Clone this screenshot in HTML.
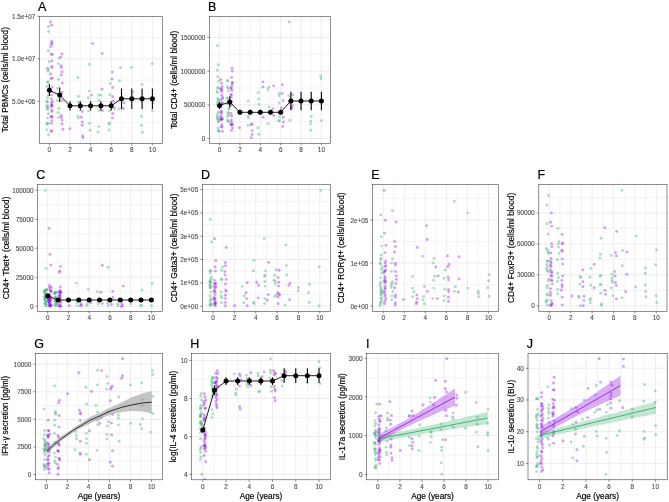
<!DOCTYPE html>
<html><head><meta charset="utf-8"><style>
html,body{margin:0;padding:0;background:#fff;}
svg{display:block;font-family:"Liberation Sans", sans-serif;filter:blur(0.4px);}
</style></head><body>
<svg width="669" height="502" viewBox="0 0 669 502">
<rect width="669" height="502" fill="#fff"/>
<clipPath id="cA"><rect x="39.4" y="16.3" width="123.00" height="127.00"/></clipPath>
<g clip-path="url(#cA)">
<line x1="59.70" y1="16.3" x2="59.70" y2="143.3" stroke="#f0f0f0" stroke-width="0.8"/>
<line x1="80.30" y1="16.3" x2="80.30" y2="143.3" stroke="#f0f0f0" stroke-width="0.8"/>
<line x1="100.90" y1="16.3" x2="100.90" y2="143.3" stroke="#f0f0f0" stroke-width="0.8"/>
<line x1="121.50" y1="16.3" x2="121.50" y2="143.3" stroke="#f0f0f0" stroke-width="0.8"/>
<line x1="142.10" y1="16.3" x2="142.10" y2="143.3" stroke="#f0f0f0" stroke-width="0.8"/>
<line x1="39.4" y1="122.70" x2="162.4" y2="122.70" stroke="#f0f0f0" stroke-width="0.8"/>
<line x1="39.4" y1="80.10" x2="162.4" y2="80.10" stroke="#f0f0f0" stroke-width="0.8"/>
<line x1="39.4" y1="37.50" x2="162.4" y2="37.50" stroke="#f0f0f0" stroke-width="0.8"/>
<line x1="49.40" y1="16.3" x2="49.40" y2="143.3" stroke="#ededed" stroke-width="1.0"/>
<line x1="70.00" y1="16.3" x2="70.00" y2="143.3" stroke="#ededed" stroke-width="1.0"/>
<line x1="90.60" y1="16.3" x2="90.60" y2="143.3" stroke="#ededed" stroke-width="1.0"/>
<line x1="111.20" y1="16.3" x2="111.20" y2="143.3" stroke="#ededed" stroke-width="1.0"/>
<line x1="131.80" y1="16.3" x2="131.80" y2="143.3" stroke="#ededed" stroke-width="1.0"/>
<line x1="152.40" y1="16.3" x2="152.40" y2="143.3" stroke="#ededed" stroke-width="1.0"/>
<line x1="39.4" y1="101.40" x2="162.4" y2="101.40" stroke="#ededed" stroke-width="1.0"/>
<line x1="39.4" y1="58.80" x2="162.4" y2="58.80" stroke="#ededed" stroke-width="1.0"/>
<line x1="39.4" y1="16.20" x2="162.4" y2="16.20" stroke="#ededed" stroke-width="1.0"/>
<circle cx="50.7" cy="22.0" r="1.45" fill="#9b1fe8" fill-opacity="0.42"/>
<circle cx="51.8" cy="25.2" r="1.45" fill="#9b1fe8" fill-opacity="0.42"/>
<circle cx="51.8" cy="41.5" r="1.45" fill="#9b1fe8" fill-opacity="0.42"/>
<circle cx="51.8" cy="43.0" r="1.45" fill="#9b1fe8" fill-opacity="0.42"/>
<circle cx="51.8" cy="44.3" r="1.45" fill="#9b1fe8" fill-opacity="0.42"/>
<circle cx="50.9" cy="46.6" r="1.45" fill="#9b1fe8" fill-opacity="0.42"/>
<circle cx="51.4" cy="54.2" r="1.45" fill="#9b1fe8" fill-opacity="0.42"/>
<circle cx="52.4" cy="54.5" r="1.45" fill="#9b1fe8" fill-opacity="0.42"/>
<circle cx="62.0" cy="54.0" r="1.45" fill="#9b1fe8" fill-opacity="0.42"/>
<circle cx="60.9" cy="57.1" r="1.45" fill="#9b1fe8" fill-opacity="0.42"/>
<circle cx="51.8" cy="60.9" r="1.45" fill="#9b1fe8" fill-opacity="0.42"/>
<circle cx="51.8" cy="66.4" r="1.45" fill="#9b1fe8" fill-opacity="0.42"/>
<circle cx="52.0" cy="67.6" r="1.45" fill="#9b1fe8" fill-opacity="0.42"/>
<circle cx="61.3" cy="65.7" r="1.45" fill="#9b1fe8" fill-opacity="0.42"/>
<circle cx="61.3" cy="67.6" r="1.45" fill="#9b1fe8" fill-opacity="0.42"/>
<circle cx="62.0" cy="71.8" r="1.45" fill="#9b1fe8" fill-opacity="0.42"/>
<circle cx="61.3" cy="74.9" r="1.45" fill="#9b1fe8" fill-opacity="0.42"/>
<circle cx="50.7" cy="74.0" r="1.45" fill="#9b1fe8" fill-opacity="0.42"/>
<circle cx="51.1" cy="78.5" r="1.45" fill="#9b1fe8" fill-opacity="0.42"/>
<circle cx="52.4" cy="78.1" r="1.45" fill="#9b1fe8" fill-opacity="0.42"/>
<circle cx="92.6" cy="43.4" r="1.45" fill="#9b1fe8" fill-opacity="0.42"/>
<circle cx="48.2" cy="26.5" r="1.45" fill="#3cb371" fill-opacity="0.42"/>
<circle cx="48.6" cy="31.6" r="1.45" fill="#3cb371" fill-opacity="0.42"/>
<circle cx="48.2" cy="50.7" r="1.45" fill="#3cb371" fill-opacity="0.42"/>
<circle cx="59.0" cy="58.1" r="1.45" fill="#3cb371" fill-opacity="0.42"/>
<circle cx="49.0" cy="61.6" r="1.45" fill="#3cb371" fill-opacity="0.42"/>
<circle cx="58.1" cy="63.8" r="1.45" fill="#3cb371" fill-opacity="0.42"/>
<circle cx="47.3" cy="68.3" r="1.45" fill="#3cb371" fill-opacity="0.42"/>
<circle cx="48.2" cy="69.3" r="1.45" fill="#3cb371" fill-opacity="0.42"/>
<circle cx="89.4" cy="64.2" r="1.45" fill="#3cb371" fill-opacity="0.42"/>
<circle cx="77.9" cy="77.5" r="1.45" fill="#3cb371" fill-opacity="0.42"/>
<circle cx="58.4" cy="79.4" r="1.45" fill="#3cb371" fill-opacity="0.42"/>
<circle cx="47.9" cy="81.7" r="1.45" fill="#3cb371" fill-opacity="0.42"/>
<circle cx="46.9" cy="86.5" r="1.45" fill="#3cb371" fill-opacity="0.42"/>
<circle cx="57.4" cy="88.5" r="1.45" fill="#3cb371" fill-opacity="0.42"/>
<circle cx="48.2" cy="95.1" r="1.45" fill="#3cb371" fill-opacity="0.42"/>
<circle cx="47.5" cy="97.7" r="1.45" fill="#3cb371" fill-opacity="0.42"/>
<circle cx="46.9" cy="101.0" r="1.45" fill="#3cb371" fill-opacity="0.42"/>
<circle cx="57.4" cy="100.4" r="1.45" fill="#3cb371" fill-opacity="0.42"/>
<circle cx="46.9" cy="106.3" r="1.45" fill="#3cb371" fill-opacity="0.42"/>
<circle cx="47.5" cy="109.6" r="1.45" fill="#3cb371" fill-opacity="0.42"/>
<circle cx="48.2" cy="113.8" r="1.45" fill="#3cb371" fill-opacity="0.42"/>
<circle cx="58.7" cy="108.5" r="1.45" fill="#3cb371" fill-opacity="0.42"/>
<circle cx="58.0" cy="112.8" r="1.45" fill="#3cb371" fill-opacity="0.42"/>
<circle cx="58.4" cy="117.4" r="1.45" fill="#3cb371" fill-opacity="0.42"/>
<circle cx="47.5" cy="118.1" r="1.45" fill="#3cb371" fill-opacity="0.42"/>
<circle cx="47.5" cy="123.4" r="1.45" fill="#3cb371" fill-opacity="0.42"/>
<circle cx="46.9" cy="129.9" r="1.45" fill="#3cb371" fill-opacity="0.42"/>
<circle cx="48.5" cy="134.8" r="1.45" fill="#3cb371" fill-opacity="0.42"/>
<circle cx="78.4" cy="96.4" r="1.45" fill="#3cb371" fill-opacity="0.42"/>
<circle cx="78.4" cy="102.3" r="1.45" fill="#3cb371" fill-opacity="0.42"/>
<circle cx="89.3" cy="91.1" r="1.45" fill="#3cb371" fill-opacity="0.42"/>
<circle cx="88.3" cy="97.7" r="1.45" fill="#3cb371" fill-opacity="0.42"/>
<circle cx="88.7" cy="110.9" r="1.45" fill="#3cb371" fill-opacity="0.42"/>
<circle cx="77.8" cy="116.1" r="1.45" fill="#3cb371" fill-opacity="0.42"/>
<circle cx="78.4" cy="118.1" r="1.45" fill="#3cb371" fill-opacity="0.42"/>
<circle cx="89.3" cy="123.4" r="1.45" fill="#3cb371" fill-opacity="0.42"/>
<circle cx="90.0" cy="130.3" r="1.45" fill="#3cb371" fill-opacity="0.42"/>
<circle cx="98.8" cy="95.1" r="1.45" fill="#3cb371" fill-opacity="0.42"/>
<circle cx="98.8" cy="100.1" r="1.45" fill="#3cb371" fill-opacity="0.42"/>
<circle cx="99.4" cy="110.9" r="1.45" fill="#3cb371" fill-opacity="0.42"/>
<circle cx="98.8" cy="126.6" r="1.45" fill="#3cb371" fill-opacity="0.42"/>
<circle cx="98.1" cy="131.9" r="1.45" fill="#3cb371" fill-opacity="0.42"/>
<circle cx="62.4" cy="83.0" r="1.45" fill="#9b1fe8" fill-opacity="0.42"/>
<circle cx="52.1" cy="87.2" r="1.45" fill="#9b1fe8" fill-opacity="0.42"/>
<circle cx="51.5" cy="95.1" r="1.45" fill="#9b1fe8" fill-opacity="0.42"/>
<circle cx="51.5" cy="99.0" r="1.45" fill="#9b1fe8" fill-opacity="0.42"/>
<circle cx="51.5" cy="103.0" r="1.45" fill="#9b1fe8" fill-opacity="0.42"/>
<circle cx="51.5" cy="105.0" r="1.45" fill="#9b1fe8" fill-opacity="0.42"/>
<circle cx="51.9" cy="110.2" r="1.45" fill="#9b1fe8" fill-opacity="0.42"/>
<circle cx="51.9" cy="111.5" r="1.45" fill="#9b1fe8" fill-opacity="0.42"/>
<circle cx="51.5" cy="116.1" r="1.45" fill="#9b1fe8" fill-opacity="0.42"/>
<circle cx="51.5" cy="117.4" r="1.45" fill="#9b1fe8" fill-opacity="0.42"/>
<circle cx="51.5" cy="123.4" r="1.45" fill="#9b1fe8" fill-opacity="0.42"/>
<circle cx="51.5" cy="130.6" r="1.45" fill="#9b1fe8" fill-opacity="0.42"/>
<circle cx="62.0" cy="92.5" r="1.45" fill="#9b1fe8" fill-opacity="0.42"/>
<circle cx="62.0" cy="100.4" r="1.45" fill="#9b1fe8" fill-opacity="0.42"/>
<circle cx="61.3" cy="115.5" r="1.45" fill="#9b1fe8" fill-opacity="0.42"/>
<circle cx="61.3" cy="117.4" r="1.45" fill="#9b1fe8" fill-opacity="0.42"/>
<circle cx="62.0" cy="120.1" r="1.45" fill="#9b1fe8" fill-opacity="0.42"/>
<circle cx="62.0" cy="124.0" r="1.45" fill="#9b1fe8" fill-opacity="0.42"/>
<circle cx="62.9" cy="129.3" r="1.45" fill="#9b1fe8" fill-opacity="0.42"/>
<circle cx="69.9" cy="128.6" r="1.45" fill="#9b1fe8" fill-opacity="0.42"/>
<circle cx="82.3" cy="111.5" r="1.45" fill="#9b1fe8" fill-opacity="0.42"/>
<circle cx="81.3" cy="117.2" r="1.45" fill="#9b1fe8" fill-opacity="0.42"/>
<circle cx="82.3" cy="122.0" r="1.45" fill="#9b1fe8" fill-opacity="0.42"/>
<circle cx="82.3" cy="125.3" r="1.45" fill="#9b1fe8" fill-opacity="0.42"/>
<circle cx="82.6" cy="135.8" r="1.45" fill="#9b1fe8" fill-opacity="0.42"/>
<circle cx="83.0" cy="137.8" r="1.45" fill="#9b1fe8" fill-opacity="0.42"/>
<circle cx="91.5" cy="95.1" r="1.45" fill="#9b1fe8" fill-opacity="0.42"/>
<circle cx="102.3" cy="53.6" r="1.45" fill="#9b1fe8" fill-opacity="0.42"/>
<circle cx="112.4" cy="72.1" r="1.45" fill="#9b1fe8" fill-opacity="0.42"/>
<circle cx="112.1" cy="78.9" r="1.45" fill="#9b1fe8" fill-opacity="0.42"/>
<circle cx="120.4" cy="67.6" r="1.45" fill="#3cb371" fill-opacity="0.42"/>
<circle cx="131.6" cy="67.4" r="1.45" fill="#3cb371" fill-opacity="0.42"/>
<circle cx="152.3" cy="63.8" r="1.45" fill="#3cb371" fill-opacity="0.42"/>
<circle cx="102.0" cy="89.2" r="1.45" fill="#9b1fe8" fill-opacity="0.42"/>
<circle cx="112.8" cy="87.5" r="1.45" fill="#9b1fe8" fill-opacity="0.42"/>
<circle cx="112.8" cy="96.7" r="1.45" fill="#9b1fe8" fill-opacity="0.42"/>
<circle cx="113.2" cy="101.0" r="1.45" fill="#9b1fe8" fill-opacity="0.42"/>
<circle cx="114.5" cy="108.2" r="1.45" fill="#9b1fe8" fill-opacity="0.42"/>
<circle cx="123.9" cy="103.0" r="1.45" fill="#9b1fe8" fill-opacity="0.42"/>
<circle cx="123.4" cy="108.5" r="1.45" fill="#9b1fe8" fill-opacity="0.42"/>
<circle cx="112.8" cy="113.5" r="1.45" fill="#9b1fe8" fill-opacity="0.42"/>
<circle cx="112.5" cy="118.1" r="1.45" fill="#9b1fe8" fill-opacity="0.42"/>
<circle cx="102.6" cy="110.6" r="1.45" fill="#9b1fe8" fill-opacity="0.42"/>
<circle cx="119.5" cy="80.9" r="1.45" fill="#3cb371" fill-opacity="0.42"/>
<circle cx="110.3" cy="83.5" r="1.45" fill="#3cb371" fill-opacity="0.42"/>
<circle cx="109.9" cy="94.8" r="1.45" fill="#3cb371" fill-opacity="0.42"/>
<circle cx="100.7" cy="95.1" r="1.45" fill="#3cb371" fill-opacity="0.42"/>
<circle cx="132.9" cy="91.8" r="1.45" fill="#3cb371" fill-opacity="0.42"/>
<circle cx="119.1" cy="108.9" r="1.45" fill="#3cb371" fill-opacity="0.42"/>
<circle cx="109.2" cy="110.9" r="1.45" fill="#3cb371" fill-opacity="0.42"/>
<circle cx="142.1" cy="84.6" r="1.45" fill="#3cb371" fill-opacity="0.42"/>
<circle cx="153.3" cy="102.7" r="1.45" fill="#3cb371" fill-opacity="0.42"/>
<circle cx="152.6" cy="110.6" r="1.45" fill="#3cb371" fill-opacity="0.42"/>
<circle cx="141.4" cy="116.4" r="1.45" fill="#3cb371" fill-opacity="0.42"/>
<circle cx="109.2" cy="123.0" r="1.45" fill="#3cb371" fill-opacity="0.42"/>
<circle cx="109.2" cy="124.3" r="1.45" fill="#3cb371" fill-opacity="0.42"/>
<circle cx="108.9" cy="129.9" r="1.45" fill="#3cb371" fill-opacity="0.42"/>
<circle cx="141.4" cy="125.3" r="1.45" fill="#3cb371" fill-opacity="0.42"/>
<circle cx="142.4" cy="132.2" r="1.45" fill="#3cb371" fill-opacity="0.42"/>
<circle cx="47.8" cy="71.3" r="1.45" fill="#3cb371" fill-opacity="0.42"/>
<circle cx="47.7" cy="82.5" r="1.45" fill="#3cb371" fill-opacity="0.42"/>
<circle cx="46.8" cy="124.3" r="1.45" fill="#3cb371" fill-opacity="0.42"/>
<circle cx="47.1" cy="102.2" r="1.45" fill="#3cb371" fill-opacity="0.42"/>
<circle cx="48.3" cy="107.8" r="1.45" fill="#3cb371" fill-opacity="0.42"/>
<circle cx="47.5" cy="105.2" r="1.45" fill="#3cb371" fill-opacity="0.42"/>
<circle cx="47.9" cy="123.3" r="1.45" fill="#3cb371" fill-opacity="0.42"/>
<circle cx="47.0" cy="108.1" r="1.45" fill="#3cb371" fill-opacity="0.42"/>
<circle cx="51.1" cy="91.6" r="1.45" fill="#9b1fe8" fill-opacity="0.42"/>
<circle cx="52.1" cy="105.5" r="1.45" fill="#9b1fe8" fill-opacity="0.42"/>
<circle cx="51.7" cy="120.6" r="1.45" fill="#9b1fe8" fill-opacity="0.42"/>
<circle cx="52.4" cy="101.6" r="1.45" fill="#9b1fe8" fill-opacity="0.42"/>
<circle cx="51.8" cy="105.3" r="1.45" fill="#9b1fe8" fill-opacity="0.42"/>
<circle cx="51.6" cy="116.6" r="1.45" fill="#9b1fe8" fill-opacity="0.42"/>
<circle cx="51.5" cy="107.0" r="1.45" fill="#9b1fe8" fill-opacity="0.42"/>
<circle cx="51.6" cy="131.5" r="1.45" fill="#9b1fe8" fill-opacity="0.42"/>
<polyline points="49.40,90.3 59.70,95.1 70.00,105.8 80.30,105.8 90.60,105.8 100.90,105.8 111.20,105.8 121.50,98.8 131.80,98.8 142.10,98.8 152.40,98.8" fill="none" stroke="#000" stroke-width="0.9"/>
<line x1="49.40" y1="84.0" x2="49.40" y2="96.0" stroke="#000" stroke-width="1.1"/>
<circle cx="49.40" cy="90.3" r="2.5" fill="#000"/>
<line x1="59.70" y1="87.6" x2="59.70" y2="102.0" stroke="#000" stroke-width="1.1"/>
<circle cx="59.70" cy="95.1" r="2.5" fill="#000"/>
<line x1="70.00" y1="101.2" x2="70.00" y2="110.4" stroke="#000" stroke-width="1.1"/>
<circle cx="70.00" cy="105.8" r="2.5" fill="#000"/>
<line x1="80.30" y1="101.2" x2="80.30" y2="110.4" stroke="#000" stroke-width="1.1"/>
<circle cx="80.30" cy="105.8" r="2.5" fill="#000"/>
<line x1="90.60" y1="101.2" x2="90.60" y2="110.4" stroke="#000" stroke-width="1.1"/>
<circle cx="90.60" cy="105.8" r="2.5" fill="#000"/>
<line x1="100.90" y1="101.2" x2="100.90" y2="110.4" stroke="#000" stroke-width="1.1"/>
<circle cx="100.90" cy="105.8" r="2.5" fill="#000"/>
<line x1="111.20" y1="101.2" x2="111.20" y2="110.4" stroke="#000" stroke-width="1.1"/>
<circle cx="111.20" cy="105.8" r="2.5" fill="#000"/>
<line x1="121.50" y1="88.5" x2="121.50" y2="109.1" stroke="#000" stroke-width="1.1"/>
<circle cx="121.50" cy="98.8" r="2.5" fill="#000"/>
<line x1="131.80" y1="88.5" x2="131.80" y2="109.1" stroke="#000" stroke-width="1.1"/>
<circle cx="131.80" cy="98.8" r="2.5" fill="#000"/>
<line x1="142.10" y1="88.5" x2="142.10" y2="109.1" stroke="#000" stroke-width="1.1"/>
<circle cx="142.10" cy="98.8" r="2.5" fill="#000"/>
<line x1="152.40" y1="88.5" x2="152.40" y2="109.1" stroke="#000" stroke-width="1.1"/>
<circle cx="152.40" cy="98.8" r="2.5" fill="#000"/>
</g>
<rect x="39.4" y="16.3" width="123.00" height="127.00" fill="none" stroke="#333333" stroke-width="0.55"/>
<line x1="49.40" y1="143.3" x2="49.40" y2="145.4" stroke="#333333" stroke-width="0.55"/>
<text x="49.40" y="152.10" font-size="6.4" fill="#4d4d4d" stroke="#4d4d4d" stroke-width="0.12" text-anchor="middle">0</text>
<line x1="70.00" y1="143.3" x2="70.00" y2="145.4" stroke="#333333" stroke-width="0.55"/>
<text x="70.00" y="152.10" font-size="6.4" fill="#4d4d4d" stroke="#4d4d4d" stroke-width="0.12" text-anchor="middle">2</text>
<line x1="90.60" y1="143.3" x2="90.60" y2="145.4" stroke="#333333" stroke-width="0.55"/>
<text x="90.60" y="152.10" font-size="6.4" fill="#4d4d4d" stroke="#4d4d4d" stroke-width="0.12" text-anchor="middle">4</text>
<line x1="111.20" y1="143.3" x2="111.20" y2="145.4" stroke="#333333" stroke-width="0.55"/>
<text x="111.20" y="152.10" font-size="6.4" fill="#4d4d4d" stroke="#4d4d4d" stroke-width="0.12" text-anchor="middle">6</text>
<line x1="131.80" y1="143.3" x2="131.80" y2="145.4" stroke="#333333" stroke-width="0.55"/>
<text x="131.80" y="152.10" font-size="6.4" fill="#4d4d4d" stroke="#4d4d4d" stroke-width="0.12" text-anchor="middle">8</text>
<line x1="152.40" y1="143.3" x2="152.40" y2="145.4" stroke="#333333" stroke-width="0.55"/>
<text x="152.40" y="152.10" font-size="6.4" fill="#4d4d4d" stroke="#4d4d4d" stroke-width="0.12" text-anchor="middle">10</text>
<line x1="37.3" y1="101.40" x2="39.4" y2="101.40" stroke="#333333" stroke-width="0.55"/>
<text x="35.30" y="103.90" font-size="6.4" fill="#4d4d4d" stroke="#4d4d4d" stroke-width="0.12" text-anchor="end">5.0e+06</text>
<line x1="37.3" y1="58.80" x2="39.4" y2="58.80" stroke="#333333" stroke-width="0.55"/>
<text x="35.30" y="61.30" font-size="6.4" fill="#4d4d4d" stroke="#4d4d4d" stroke-width="0.12" text-anchor="end">1.0e+07</text>
<line x1="37.3" y1="16.20" x2="39.4" y2="16.20" stroke="#333333" stroke-width="0.55"/>
<text x="35.30" y="18.70" font-size="6.4" fill="#4d4d4d" stroke="#4d4d4d" stroke-width="0.12" text-anchor="end">1.5e+07</text>
<text transform="translate(8.4,79.80) rotate(-90)" font-size="8.25" fill="#000" stroke="#000" stroke-width="0.18" text-anchor="middle">Total PBMCs (cells/ml blood)</text>
<text x="38.10" y="11.00" font-size="12.5" fill="#000" stroke="#000" stroke-width="0.2">A</text>
<clipPath id="cB"><rect x="209.4" y="16.4" width="121.00" height="126.90"/></clipPath>
<g clip-path="url(#cB)">
<line x1="229.78" y1="16.4" x2="229.78" y2="143.3" stroke="#f0f0f0" stroke-width="0.8"/>
<line x1="250.14" y1="16.4" x2="250.14" y2="143.3" stroke="#f0f0f0" stroke-width="0.8"/>
<line x1="270.50" y1="16.4" x2="270.50" y2="143.3" stroke="#f0f0f0" stroke-width="0.8"/>
<line x1="290.86" y1="16.4" x2="290.86" y2="143.3" stroke="#f0f0f0" stroke-width="0.8"/>
<line x1="311.22" y1="16.4" x2="311.22" y2="143.3" stroke="#f0f0f0" stroke-width="0.8"/>
<line x1="209.4" y1="121.73" x2="330.4" y2="121.73" stroke="#f0f0f0" stroke-width="0.8"/>
<line x1="209.4" y1="88.00" x2="330.4" y2="88.00" stroke="#f0f0f0" stroke-width="0.8"/>
<line x1="209.4" y1="54.27" x2="330.4" y2="54.27" stroke="#f0f0f0" stroke-width="0.8"/>
<line x1="209.4" y1="20.53" x2="330.4" y2="20.53" stroke="#f0f0f0" stroke-width="0.8"/>
<line x1="219.60" y1="16.4" x2="219.60" y2="143.3" stroke="#ededed" stroke-width="1.0"/>
<line x1="239.96" y1="16.4" x2="239.96" y2="143.3" stroke="#ededed" stroke-width="1.0"/>
<line x1="260.32" y1="16.4" x2="260.32" y2="143.3" stroke="#ededed" stroke-width="1.0"/>
<line x1="280.68" y1="16.4" x2="280.68" y2="143.3" stroke="#ededed" stroke-width="1.0"/>
<line x1="301.04" y1="16.4" x2="301.04" y2="143.3" stroke="#ededed" stroke-width="1.0"/>
<line x1="321.40" y1="16.4" x2="321.40" y2="143.3" stroke="#ededed" stroke-width="1.0"/>
<line x1="209.4" y1="138.60" x2="330.4" y2="138.60" stroke="#ededed" stroke-width="1.0"/>
<line x1="209.4" y1="104.87" x2="330.4" y2="104.87" stroke="#ededed" stroke-width="1.0"/>
<line x1="209.4" y1="71.13" x2="330.4" y2="71.13" stroke="#ededed" stroke-width="1.0"/>
<line x1="209.4" y1="37.40" x2="330.4" y2="37.40" stroke="#ededed" stroke-width="1.0"/>
<circle cx="217.3" cy="45.6" r="1.45" fill="#3cb371" fill-opacity="0.42"/>
<circle cx="218.2" cy="64.8" r="1.45" fill="#3cb371" fill-opacity="0.42"/>
<circle cx="217.3" cy="70.2" r="1.45" fill="#3cb371" fill-opacity="0.42"/>
<circle cx="232.0" cy="68.3" r="1.45" fill="#9b1fe8" fill-opacity="0.42"/>
<circle cx="232.2" cy="71.1" r="1.45" fill="#9b1fe8" fill-opacity="0.42"/>
<circle cx="231.7" cy="77.5" r="1.45" fill="#9b1fe8" fill-opacity="0.42"/>
<circle cx="220.7" cy="79.5" r="1.45" fill="#9b1fe8" fill-opacity="0.42"/>
<circle cx="218.5" cy="81.3" r="1.45" fill="#3cb371" fill-opacity="0.42"/>
<circle cx="218.5" cy="87.9" r="1.45" fill="#3cb371" fill-opacity="0.42"/>
<circle cx="217.5" cy="92.5" r="1.45" fill="#3cb371" fill-opacity="0.42"/>
<circle cx="217.9" cy="98.4" r="1.45" fill="#3cb371" fill-opacity="0.42"/>
<circle cx="217.9" cy="99.7" r="1.45" fill="#3cb371" fill-opacity="0.42"/>
<circle cx="217.5" cy="102.3" r="1.45" fill="#3cb371" fill-opacity="0.42"/>
<circle cx="218.2" cy="106.9" r="1.45" fill="#3cb371" fill-opacity="0.42"/>
<circle cx="218.2" cy="112.2" r="1.45" fill="#3cb371" fill-opacity="0.42"/>
<circle cx="217.1" cy="116.8" r="1.45" fill="#3cb371" fill-opacity="0.42"/>
<circle cx="218.2" cy="122.0" r="1.45" fill="#3cb371" fill-opacity="0.42"/>
<circle cx="217.9" cy="128.0" r="1.45" fill="#3cb371" fill-opacity="0.42"/>
<circle cx="218.2" cy="130.6" r="1.45" fill="#3cb371" fill-opacity="0.42"/>
<circle cx="228.0" cy="80.9" r="1.45" fill="#3cb371" fill-opacity="0.42"/>
<circle cx="228.4" cy="88.5" r="1.45" fill="#3cb371" fill-opacity="0.42"/>
<circle cx="228.4" cy="91.1" r="1.45" fill="#3cb371" fill-opacity="0.42"/>
<circle cx="227.4" cy="97.7" r="1.45" fill="#3cb371" fill-opacity="0.42"/>
<circle cx="227.4" cy="99.0" r="1.45" fill="#3cb371" fill-opacity="0.42"/>
<circle cx="228.0" cy="112.2" r="1.45" fill="#3cb371" fill-opacity="0.42"/>
<circle cx="228.4" cy="113.5" r="1.45" fill="#3cb371" fill-opacity="0.42"/>
<circle cx="227.4" cy="120.1" r="1.45" fill="#3cb371" fill-opacity="0.42"/>
<circle cx="228.7" cy="122.0" r="1.45" fill="#3cb371" fill-opacity="0.42"/>
<circle cx="248.1" cy="101.0" r="1.45" fill="#3cb371" fill-opacity="0.42"/>
<circle cx="248.1" cy="116.1" r="1.45" fill="#3cb371" fill-opacity="0.42"/>
<circle cx="248.4" cy="118.1" r="1.45" fill="#3cb371" fill-opacity="0.42"/>
<circle cx="247.8" cy="125.3" r="1.45" fill="#3cb371" fill-opacity="0.42"/>
<circle cx="258.3" cy="92.5" r="1.45" fill="#3cb371" fill-opacity="0.42"/>
<circle cx="258.7" cy="99.0" r="1.45" fill="#3cb371" fill-opacity="0.42"/>
<circle cx="258.9" cy="104.3" r="1.45" fill="#3cb371" fill-opacity="0.42"/>
<circle cx="257.9" cy="128.0" r="1.45" fill="#3cb371" fill-opacity="0.42"/>
<circle cx="258.9" cy="134.3" r="1.45" fill="#3cb371" fill-opacity="0.42"/>
<circle cx="267.8" cy="89.8" r="1.45" fill="#3cb371" fill-opacity="0.42"/>
<circle cx="268.8" cy="106.9" r="1.45" fill="#3cb371" fill-opacity="0.42"/>
<circle cx="268.1" cy="123.8" r="1.45" fill="#3cb371" fill-opacity="0.42"/>
<circle cx="268.8" cy="87.2" r="1.45" fill="#3cb371" fill-opacity="0.42"/>
<circle cx="221.5" cy="83.3" r="1.45" fill="#9b1fe8" fill-opacity="0.42"/>
<circle cx="221.9" cy="89.8" r="1.45" fill="#9b1fe8" fill-opacity="0.42"/>
<circle cx="221.9" cy="91.8" r="1.45" fill="#9b1fe8" fill-opacity="0.42"/>
<circle cx="221.5" cy="95.1" r="1.45" fill="#9b1fe8" fill-opacity="0.42"/>
<circle cx="221.1" cy="99.7" r="1.45" fill="#9b1fe8" fill-opacity="0.42"/>
<circle cx="221.5" cy="110.9" r="1.45" fill="#9b1fe8" fill-opacity="0.42"/>
<circle cx="221.9" cy="112.8" r="1.45" fill="#9b1fe8" fill-opacity="0.42"/>
<circle cx="221.1" cy="115.5" r="1.45" fill="#9b1fe8" fill-opacity="0.42"/>
<circle cx="221.5" cy="117.4" r="1.45" fill="#9b1fe8" fill-opacity="0.42"/>
<circle cx="221.1" cy="119.4" r="1.45" fill="#9b1fe8" fill-opacity="0.42"/>
<circle cx="222.1" cy="126.6" r="1.45" fill="#9b1fe8" fill-opacity="0.42"/>
<circle cx="222.4" cy="131.2" r="1.45" fill="#9b1fe8" fill-opacity="0.42"/>
<circle cx="232.4" cy="82.6" r="1.45" fill="#9b1fe8" fill-opacity="0.42"/>
<circle cx="232.0" cy="85.2" r="1.45" fill="#9b1fe8" fill-opacity="0.42"/>
<circle cx="231.3" cy="88.5" r="1.45" fill="#9b1fe8" fill-opacity="0.42"/>
<circle cx="232.0" cy="90.5" r="1.45" fill="#9b1fe8" fill-opacity="0.42"/>
<circle cx="231.3" cy="94.4" r="1.45" fill="#9b1fe8" fill-opacity="0.42"/>
<circle cx="231.1" cy="113.5" r="1.45" fill="#9b1fe8" fill-opacity="0.42"/>
<circle cx="231.6" cy="116.1" r="1.45" fill="#9b1fe8" fill-opacity="0.42"/>
<circle cx="231.3" cy="120.1" r="1.45" fill="#9b1fe8" fill-opacity="0.42"/>
<circle cx="232.4" cy="124.7" r="1.45" fill="#9b1fe8" fill-opacity="0.42"/>
<circle cx="232.4" cy="128.0" r="1.45" fill="#9b1fe8" fill-opacity="0.42"/>
<circle cx="231.6" cy="130.6" r="1.45" fill="#9b1fe8" fill-opacity="0.42"/>
<circle cx="239.5" cy="127.7" r="1.45" fill="#9b1fe8" fill-opacity="0.42"/>
<circle cx="252.3" cy="124.0" r="1.45" fill="#9b1fe8" fill-opacity="0.42"/>
<circle cx="251.0" cy="124.7" r="1.45" fill="#9b1fe8" fill-opacity="0.42"/>
<circle cx="252.3" cy="130.6" r="1.45" fill="#9b1fe8" fill-opacity="0.42"/>
<circle cx="252.1" cy="134.5" r="1.45" fill="#9b1fe8" fill-opacity="0.42"/>
<circle cx="251.3" cy="137.8" r="1.45" fill="#9b1fe8" fill-opacity="0.42"/>
<circle cx="262.9" cy="81.9" r="1.45" fill="#9b1fe8" fill-opacity="0.42"/>
<circle cx="263.1" cy="86.9" r="1.45" fill="#9b1fe8" fill-opacity="0.42"/>
<circle cx="263.1" cy="117.2" r="1.45" fill="#9b1fe8" fill-opacity="0.42"/>
<circle cx="289.2" cy="22.0" r="1.45" fill="#3cb371" fill-opacity="0.42"/>
<circle cx="320.7" cy="75.9" r="1.45" fill="#3cb371" fill-opacity="0.42"/>
<circle cx="321.0" cy="78.5" r="1.45" fill="#3cb371" fill-opacity="0.42"/>
<circle cx="273.6" cy="85.9" r="1.45" fill="#9b1fe8" fill-opacity="0.42"/>
<circle cx="282.4" cy="84.8" r="1.45" fill="#9b1fe8" fill-opacity="0.42"/>
<circle cx="282.1" cy="93.5" r="1.45" fill="#9b1fe8" fill-opacity="0.42"/>
<circle cx="283.2" cy="100.6" r="1.45" fill="#9b1fe8" fill-opacity="0.42"/>
<circle cx="292.6" cy="94.8" r="1.45" fill="#9b1fe8" fill-opacity="0.42"/>
<circle cx="292.4" cy="105.6" r="1.45" fill="#9b1fe8" fill-opacity="0.42"/>
<circle cx="291.6" cy="107.2" r="1.45" fill="#9b1fe8" fill-opacity="0.42"/>
<circle cx="291.6" cy="108.5" r="1.45" fill="#9b1fe8" fill-opacity="0.42"/>
<circle cx="273.6" cy="115.5" r="1.45" fill="#9b1fe8" fill-opacity="0.42"/>
<circle cx="272.9" cy="108.9" r="1.45" fill="#9b1fe8" fill-opacity="0.42"/>
<circle cx="283.2" cy="117.2" r="1.45" fill="#9b1fe8" fill-opacity="0.42"/>
<circle cx="283.4" cy="122.0" r="1.45" fill="#9b1fe8" fill-opacity="0.42"/>
<circle cx="282.8" cy="126.4" r="1.45" fill="#9b1fe8" fill-opacity="0.42"/>
<circle cx="281.5" cy="108.0" r="1.45" fill="#9b1fe8" fill-opacity="0.42"/>
<circle cx="279.2" cy="93.5" r="1.45" fill="#3cb371" fill-opacity="0.42"/>
<circle cx="279.2" cy="95.7" r="1.45" fill="#3cb371" fill-opacity="0.42"/>
<circle cx="288.7" cy="95.7" r="1.45" fill="#3cb371" fill-opacity="0.42"/>
<circle cx="279.2" cy="103.0" r="1.45" fill="#3cb371" fill-opacity="0.42"/>
<circle cx="279.2" cy="116.8" r="1.45" fill="#3cb371" fill-opacity="0.42"/>
<circle cx="278.5" cy="120.7" r="1.45" fill="#3cb371" fill-opacity="0.42"/>
<circle cx="279.5" cy="120.7" r="1.45" fill="#3cb371" fill-opacity="0.42"/>
<circle cx="289.8" cy="120.3" r="1.45" fill="#3cb371" fill-opacity="0.42"/>
<circle cx="311.3" cy="116.4" r="1.45" fill="#3cb371" fill-opacity="0.42"/>
<circle cx="310.8" cy="121.1" r="1.45" fill="#3cb371" fill-opacity="0.42"/>
<circle cx="310.4" cy="124.0" r="1.45" fill="#3cb371" fill-opacity="0.42"/>
<circle cx="310.8" cy="130.3" r="1.45" fill="#3cb371" fill-opacity="0.42"/>
<circle cx="321.3" cy="120.7" r="1.45" fill="#3cb371" fill-opacity="0.42"/>
<circle cx="217.3" cy="119.0" r="1.45" fill="#3cb371" fill-opacity="0.42"/>
<circle cx="218.1" cy="119.4" r="1.45" fill="#3cb371" fill-opacity="0.42"/>
<circle cx="217.6" cy="87.7" r="1.45" fill="#3cb371" fill-opacity="0.42"/>
<circle cx="218.7" cy="131.1" r="1.45" fill="#3cb371" fill-opacity="0.42"/>
<circle cx="218.8" cy="120.9" r="1.45" fill="#3cb371" fill-opacity="0.42"/>
<circle cx="218.7" cy="117.2" r="1.45" fill="#3cb371" fill-opacity="0.42"/>
<circle cx="217.4" cy="104.5" r="1.45" fill="#3cb371" fill-opacity="0.42"/>
<circle cx="217.7" cy="76.7" r="1.45" fill="#3cb371" fill-opacity="0.42"/>
<circle cx="217.0" cy="90.9" r="1.45" fill="#3cb371" fill-opacity="0.42"/>
<circle cx="217.5" cy="114.5" r="1.45" fill="#3cb371" fill-opacity="0.42"/>
<circle cx="219.0" cy="100.5" r="1.45" fill="#3cb371" fill-opacity="0.42"/>
<circle cx="219.0" cy="131.3" r="1.45" fill="#3cb371" fill-opacity="0.42"/>
<circle cx="222.6" cy="97.0" r="1.45" fill="#9b1fe8" fill-opacity="0.42"/>
<circle cx="221.0" cy="89.8" r="1.45" fill="#9b1fe8" fill-opacity="0.42"/>
<circle cx="220.9" cy="88.6" r="1.45" fill="#9b1fe8" fill-opacity="0.42"/>
<circle cx="221.9" cy="124.8" r="1.45" fill="#9b1fe8" fill-opacity="0.42"/>
<circle cx="222.3" cy="102.9" r="1.45" fill="#9b1fe8" fill-opacity="0.42"/>
<circle cx="221.9" cy="119.6" r="1.45" fill="#9b1fe8" fill-opacity="0.42"/>
<circle cx="220.7" cy="112.4" r="1.45" fill="#9b1fe8" fill-opacity="0.42"/>
<circle cx="222.5" cy="118.7" r="1.45" fill="#9b1fe8" fill-opacity="0.42"/>
<circle cx="222.2" cy="102.9" r="1.45" fill="#9b1fe8" fill-opacity="0.42"/>
<circle cx="220.9" cy="119.0" r="1.45" fill="#9b1fe8" fill-opacity="0.42"/>
<circle cx="221.2" cy="119.6" r="1.45" fill="#9b1fe8" fill-opacity="0.42"/>
<circle cx="222.6" cy="98.6" r="1.45" fill="#9b1fe8" fill-opacity="0.42"/>
<circle cx="221.4" cy="127.2" r="1.45" fill="#9b1fe8" fill-opacity="0.42"/>
<circle cx="222.1" cy="86.8" r="1.45" fill="#9b1fe8" fill-opacity="0.42"/>
<circle cx="227.3" cy="86.7" r="1.45" fill="#3cb371" fill-opacity="0.42"/>
<circle cx="228.8" cy="115.5" r="1.45" fill="#3cb371" fill-opacity="0.42"/>
<circle cx="227.3" cy="116.4" r="1.45" fill="#3cb371" fill-opacity="0.42"/>
<circle cx="229.0" cy="108.9" r="1.45" fill="#3cb371" fill-opacity="0.42"/>
<circle cx="227.7" cy="104.1" r="1.45" fill="#3cb371" fill-opacity="0.42"/>
<circle cx="227.3" cy="80.6" r="1.45" fill="#3cb371" fill-opacity="0.42"/>
<circle cx="228.9" cy="108.6" r="1.45" fill="#3cb371" fill-opacity="0.42"/>
<circle cx="228.1" cy="121.1" r="1.45" fill="#3cb371" fill-opacity="0.42"/>
<circle cx="231.5" cy="122.3" r="1.45" fill="#9b1fe8" fill-opacity="0.42"/>
<circle cx="232.3" cy="82.7" r="1.45" fill="#9b1fe8" fill-opacity="0.42"/>
<circle cx="231.1" cy="87.6" r="1.45" fill="#9b1fe8" fill-opacity="0.42"/>
<circle cx="231.1" cy="105.2" r="1.45" fill="#9b1fe8" fill-opacity="0.42"/>
<circle cx="231.1" cy="95.1" r="1.45" fill="#9b1fe8" fill-opacity="0.42"/>
<circle cx="230.9" cy="124.6" r="1.45" fill="#9b1fe8" fill-opacity="0.42"/>
<circle cx="231.3" cy="97.5" r="1.45" fill="#9b1fe8" fill-opacity="0.42"/>
<circle cx="231.8" cy="124.3" r="1.45" fill="#9b1fe8" fill-opacity="0.42"/>
<circle cx="231.4" cy="125.1" r="1.45" fill="#9b1fe8" fill-opacity="0.42"/>
<circle cx="231.6" cy="101.9" r="1.45" fill="#9b1fe8" fill-opacity="0.42"/>
<polyline points="219.60,105.4 229.78,102.0 239.96,112.3 250.14,112.3 260.32,112.3 270.50,112.3 280.68,112.3 290.86,101.0 301.04,101.0 311.22,101.0 321.40,101.0" fill="none" stroke="#000" stroke-width="0.9"/>
<line x1="219.60" y1="101.7" x2="219.60" y2="109.1" stroke="#000" stroke-width="1.1"/>
<circle cx="219.60" cy="105.4" r="2.5" fill="#000"/>
<line x1="229.78" y1="96.3" x2="229.78" y2="107.6" stroke="#000" stroke-width="1.1"/>
<circle cx="229.78" cy="102.0" r="2.5" fill="#000"/>
<line x1="239.96" y1="109.8" x2="239.96" y2="114.6" stroke="#000" stroke-width="1.1"/>
<circle cx="239.96" cy="112.3" r="2.5" fill="#000"/>
<line x1="250.14" y1="109.8" x2="250.14" y2="114.6" stroke="#000" stroke-width="1.1"/>
<circle cx="250.14" cy="112.3" r="2.5" fill="#000"/>
<line x1="260.32" y1="109.8" x2="260.32" y2="114.6" stroke="#000" stroke-width="1.1"/>
<circle cx="260.32" cy="112.3" r="2.5" fill="#000"/>
<line x1="270.50" y1="109.8" x2="270.50" y2="114.6" stroke="#000" stroke-width="1.1"/>
<circle cx="270.50" cy="112.3" r="2.5" fill="#000"/>
<line x1="280.68" y1="109.8" x2="280.68" y2="114.6" stroke="#000" stroke-width="1.1"/>
<circle cx="280.68" cy="112.3" r="2.5" fill="#000"/>
<line x1="290.86" y1="91.8" x2="290.86" y2="110.2" stroke="#000" stroke-width="1.1"/>
<circle cx="290.86" cy="101.0" r="2.5" fill="#000"/>
<line x1="301.04" y1="91.8" x2="301.04" y2="110.2" stroke="#000" stroke-width="1.1"/>
<circle cx="301.04" cy="101.0" r="2.5" fill="#000"/>
<line x1="311.22" y1="91.8" x2="311.22" y2="110.2" stroke="#000" stroke-width="1.1"/>
<circle cx="311.22" cy="101.0" r="2.5" fill="#000"/>
<line x1="321.40" y1="91.8" x2="321.40" y2="110.2" stroke="#000" stroke-width="1.1"/>
<circle cx="321.40" cy="101.0" r="2.5" fill="#000"/>
</g>
<rect x="209.4" y="16.4" width="121.00" height="126.90" fill="none" stroke="#333333" stroke-width="0.55"/>
<line x1="219.60" y1="143.3" x2="219.60" y2="145.4" stroke="#333333" stroke-width="0.55"/>
<text x="219.60" y="152.10" font-size="6.4" fill="#4d4d4d" stroke="#4d4d4d" stroke-width="0.12" text-anchor="middle">0</text>
<line x1="239.96" y1="143.3" x2="239.96" y2="145.4" stroke="#333333" stroke-width="0.55"/>
<text x="239.96" y="152.10" font-size="6.4" fill="#4d4d4d" stroke="#4d4d4d" stroke-width="0.12" text-anchor="middle">2</text>
<line x1="260.32" y1="143.3" x2="260.32" y2="145.4" stroke="#333333" stroke-width="0.55"/>
<text x="260.32" y="152.10" font-size="6.4" fill="#4d4d4d" stroke="#4d4d4d" stroke-width="0.12" text-anchor="middle">4</text>
<line x1="280.68" y1="143.3" x2="280.68" y2="145.4" stroke="#333333" stroke-width="0.55"/>
<text x="280.68" y="152.10" font-size="6.4" fill="#4d4d4d" stroke="#4d4d4d" stroke-width="0.12" text-anchor="middle">6</text>
<line x1="301.04" y1="143.3" x2="301.04" y2="145.4" stroke="#333333" stroke-width="0.55"/>
<text x="301.04" y="152.10" font-size="6.4" fill="#4d4d4d" stroke="#4d4d4d" stroke-width="0.12" text-anchor="middle">8</text>
<line x1="321.40" y1="143.3" x2="321.40" y2="145.4" stroke="#333333" stroke-width="0.55"/>
<text x="321.40" y="152.10" font-size="6.4" fill="#4d4d4d" stroke="#4d4d4d" stroke-width="0.12" text-anchor="middle">10</text>
<line x1="207.3" y1="138.60" x2="209.4" y2="138.60" stroke="#333333" stroke-width="0.55"/>
<text x="205.30" y="141.10" font-size="6.4" fill="#4d4d4d" stroke="#4d4d4d" stroke-width="0.12" text-anchor="end">0</text>
<line x1="207.3" y1="104.87" x2="209.4" y2="104.87" stroke="#333333" stroke-width="0.55"/>
<text x="205.30" y="107.37" font-size="6.4" fill="#4d4d4d" stroke="#4d4d4d" stroke-width="0.12" text-anchor="end">500000</text>
<line x1="207.3" y1="71.13" x2="209.4" y2="71.13" stroke="#333333" stroke-width="0.55"/>
<text x="205.30" y="73.63" font-size="6.4" fill="#4d4d4d" stroke="#4d4d4d" stroke-width="0.12" text-anchor="end">1000000</text>
<line x1="207.3" y1="37.40" x2="209.4" y2="37.40" stroke="#333333" stroke-width="0.55"/>
<text x="205.30" y="39.90" font-size="6.4" fill="#4d4d4d" stroke="#4d4d4d" stroke-width="0.12" text-anchor="end">1500000</text>
<text textLength="98" lengthAdjust="spacingAndGlyphs" transform="translate(177.3,79.85) rotate(-90)" font-size="8.25" fill="#000" stroke="#000" stroke-width="0.18" text-anchor="middle">Total CD4+ (cells/ml blood)</text>
<text x="208.10" y="11.10" font-size="12.5" fill="#000" stroke="#000" stroke-width="0.2">B</text>
<clipPath id="cC"><rect x="37.6" y="184.4" width="124.80" height="127.00"/></clipPath>
<g clip-path="url(#cC)">
<line x1="58.07" y1="184.4" x2="58.07" y2="311.4" stroke="#f0f0f0" stroke-width="0.8"/>
<line x1="78.81" y1="184.4" x2="78.81" y2="311.4" stroke="#f0f0f0" stroke-width="0.8"/>
<line x1="99.55" y1="184.4" x2="99.55" y2="311.4" stroke="#f0f0f0" stroke-width="0.8"/>
<line x1="120.29" y1="184.4" x2="120.29" y2="311.4" stroke="#f0f0f0" stroke-width="0.8"/>
<line x1="141.03" y1="184.4" x2="141.03" y2="311.4" stroke="#f0f0f0" stroke-width="0.8"/>
<line x1="161.77" y1="184.4" x2="161.77" y2="311.4" stroke="#f0f0f0" stroke-width="0.8"/>
<line x1="37.6" y1="291.79" x2="162.4" y2="291.79" stroke="#f0f0f0" stroke-width="0.8"/>
<line x1="37.6" y1="262.76" x2="162.4" y2="262.76" stroke="#f0f0f0" stroke-width="0.8"/>
<line x1="37.6" y1="233.74" x2="162.4" y2="233.74" stroke="#f0f0f0" stroke-width="0.8"/>
<line x1="37.6" y1="204.71" x2="162.4" y2="204.71" stroke="#f0f0f0" stroke-width="0.8"/>
<line x1="47.70" y1="184.4" x2="47.70" y2="311.4" stroke="#ededed" stroke-width="1.0"/>
<line x1="68.44" y1="184.4" x2="68.44" y2="311.4" stroke="#ededed" stroke-width="1.0"/>
<line x1="89.18" y1="184.4" x2="89.18" y2="311.4" stroke="#ededed" stroke-width="1.0"/>
<line x1="109.92" y1="184.4" x2="109.92" y2="311.4" stroke="#ededed" stroke-width="1.0"/>
<line x1="130.66" y1="184.4" x2="130.66" y2="311.4" stroke="#ededed" stroke-width="1.0"/>
<line x1="151.40" y1="184.4" x2="151.40" y2="311.4" stroke="#ededed" stroke-width="1.0"/>
<line x1="37.6" y1="306.30" x2="162.4" y2="306.30" stroke="#ededed" stroke-width="1.0"/>
<line x1="37.6" y1="277.27" x2="162.4" y2="277.27" stroke="#ededed" stroke-width="1.0"/>
<line x1="37.6" y1="248.25" x2="162.4" y2="248.25" stroke="#ededed" stroke-width="1.0"/>
<line x1="37.6" y1="219.22" x2="162.4" y2="219.22" stroke="#ededed" stroke-width="1.0"/>
<line x1="37.6" y1="190.20" x2="162.4" y2="190.20" stroke="#ededed" stroke-width="1.0"/>
<circle cx="45.3" cy="190.4" r="1.45" fill="#3cb371" fill-opacity="0.42"/>
<circle cx="49.1" cy="228.4" r="1.45" fill="#9b1fe8" fill-opacity="0.42"/>
<circle cx="50.1" cy="254.5" r="1.45" fill="#9b1fe8" fill-opacity="0.42"/>
<circle cx="50.8" cy="265.1" r="1.45" fill="#9b1fe8" fill-opacity="0.42"/>
<circle cx="60.6" cy="266.4" r="1.45" fill="#9b1fe8" fill-opacity="0.42"/>
<circle cx="60.0" cy="271.0" r="1.45" fill="#9b1fe8" fill-opacity="0.42"/>
<circle cx="59.3" cy="272.3" r="1.45" fill="#9b1fe8" fill-opacity="0.42"/>
<circle cx="49.5" cy="285.4" r="1.45" fill="#9b1fe8" fill-opacity="0.42"/>
<circle cx="49.5" cy="287.4" r="1.45" fill="#9b1fe8" fill-opacity="0.42"/>
<circle cx="50.1" cy="289.4" r="1.45" fill="#9b1fe8" fill-opacity="0.42"/>
<circle cx="60.4" cy="287.0" r="1.45" fill="#9b1fe8" fill-opacity="0.42"/>
<circle cx="60.9" cy="291.8" r="1.45" fill="#9b1fe8" fill-opacity="0.42"/>
<circle cx="60.0" cy="295.7" r="1.45" fill="#9b1fe8" fill-opacity="0.42"/>
<circle cx="60.4" cy="297.9" r="1.45" fill="#9b1fe8" fill-opacity="0.42"/>
<circle cx="49.5" cy="299.9" r="1.45" fill="#9b1fe8" fill-opacity="0.42"/>
<circle cx="50.1" cy="301.2" r="1.45" fill="#9b1fe8" fill-opacity="0.42"/>
<circle cx="49.1" cy="302.5" r="1.45" fill="#9b1fe8" fill-opacity="0.42"/>
<circle cx="49.9" cy="303.8" r="1.45" fill="#9b1fe8" fill-opacity="0.42"/>
<circle cx="50.8" cy="305.2" r="1.45" fill="#9b1fe8" fill-opacity="0.42"/>
<circle cx="49.5" cy="306.2" r="1.45" fill="#9b1fe8" fill-opacity="0.42"/>
<circle cx="60.0" cy="302.5" r="1.45" fill="#9b1fe8" fill-opacity="0.42"/>
<circle cx="60.4" cy="304.5" r="1.45" fill="#9b1fe8" fill-opacity="0.42"/>
<circle cx="59.3" cy="305.8" r="1.45" fill="#9b1fe8" fill-opacity="0.42"/>
<circle cx="69.2" cy="305.8" r="1.45" fill="#9b1fe8" fill-opacity="0.42"/>
<circle cx="81.0" cy="303.8" r="1.45" fill="#9b1fe8" fill-opacity="0.42"/>
<circle cx="80.3" cy="305.8" r="1.45" fill="#9b1fe8" fill-opacity="0.42"/>
<circle cx="81.7" cy="305.2" r="1.45" fill="#9b1fe8" fill-opacity="0.42"/>
<circle cx="90.9" cy="302.5" r="1.45" fill="#9b1fe8" fill-opacity="0.42"/>
<circle cx="46.2" cy="268.4" r="1.45" fill="#3cb371" fill-opacity="0.42"/>
<circle cx="46.5" cy="289.4" r="1.45" fill="#3cb371" fill-opacity="0.42"/>
<circle cx="55.7" cy="292.7" r="1.45" fill="#3cb371" fill-opacity="0.42"/>
<circle cx="46.2" cy="297.9" r="1.45" fill="#3cb371" fill-opacity="0.42"/>
<circle cx="45.1" cy="299.9" r="1.45" fill="#3cb371" fill-opacity="0.42"/>
<circle cx="45.9" cy="301.2" r="1.45" fill="#3cb371" fill-opacity="0.42"/>
<circle cx="45.5" cy="302.5" r="1.45" fill="#3cb371" fill-opacity="0.42"/>
<circle cx="44.9" cy="303.8" r="1.45" fill="#3cb371" fill-opacity="0.42"/>
<circle cx="46.2" cy="305.8" r="1.45" fill="#3cb371" fill-opacity="0.42"/>
<circle cx="56.4" cy="296.6" r="1.45" fill="#3cb371" fill-opacity="0.42"/>
<circle cx="55.4" cy="301.2" r="1.45" fill="#3cb371" fill-opacity="0.42"/>
<circle cx="56.0" cy="303.2" r="1.45" fill="#3cb371" fill-opacity="0.42"/>
<circle cx="56.7" cy="305.2" r="1.45" fill="#3cb371" fill-opacity="0.42"/>
<circle cx="55.4" cy="305.8" r="1.45" fill="#3cb371" fill-opacity="0.42"/>
<circle cx="76.4" cy="283.1" r="1.45" fill="#3cb371" fill-opacity="0.42"/>
<circle cx="77.1" cy="302.5" r="1.45" fill="#3cb371" fill-opacity="0.42"/>
<circle cx="77.1" cy="305.8" r="1.45" fill="#3cb371" fill-opacity="0.42"/>
<circle cx="88.2" cy="289.4" r="1.45" fill="#3cb371" fill-opacity="0.42"/>
<circle cx="87.6" cy="303.8" r="1.45" fill="#3cb371" fill-opacity="0.42"/>
<circle cx="86.9" cy="305.4" r="1.45" fill="#3cb371" fill-opacity="0.42"/>
<circle cx="97.4" cy="291.8" r="1.45" fill="#3cb371" fill-opacity="0.42"/>
<circle cx="98.1" cy="303.8" r="1.45" fill="#3cb371" fill-opacity="0.42"/>
<circle cx="102.3" cy="265.5" r="1.45" fill="#9b1fe8" fill-opacity="0.42"/>
<circle cx="123.3" cy="286.1" r="1.45" fill="#9b1fe8" fill-opacity="0.42"/>
<circle cx="100.9" cy="292.3" r="1.45" fill="#9b1fe8" fill-opacity="0.42"/>
<circle cx="112.8" cy="291.4" r="1.45" fill="#9b1fe8" fill-opacity="0.42"/>
<circle cx="113.0" cy="297.5" r="1.45" fill="#9b1fe8" fill-opacity="0.42"/>
<circle cx="102.3" cy="303.6" r="1.45" fill="#9b1fe8" fill-opacity="0.42"/>
<circle cx="111.5" cy="304.5" r="1.45" fill="#9b1fe8" fill-opacity="0.42"/>
<circle cx="122.0" cy="303.8" r="1.45" fill="#9b1fe8" fill-opacity="0.42"/>
<circle cx="122.6" cy="305.8" r="1.45" fill="#9b1fe8" fill-opacity="0.42"/>
<circle cx="121.3" cy="306.5" r="1.45" fill="#9b1fe8" fill-opacity="0.42"/>
<circle cx="108.2" cy="267.3" r="1.45" fill="#3cb371" fill-opacity="0.42"/>
<circle cx="152.2" cy="283.5" r="1.45" fill="#3cb371" fill-opacity="0.42"/>
<circle cx="142.0" cy="290.0" r="1.45" fill="#3cb371" fill-opacity="0.42"/>
<circle cx="107.5" cy="303.2" r="1.45" fill="#3cb371" fill-opacity="0.42"/>
<circle cx="108.2" cy="305.8" r="1.45" fill="#3cb371" fill-opacity="0.42"/>
<circle cx="117.8" cy="303.8" r="1.45" fill="#3cb371" fill-opacity="0.42"/>
<circle cx="118.0" cy="305.8" r="1.45" fill="#3cb371" fill-opacity="0.42"/>
<circle cx="130.9" cy="303.8" r="1.45" fill="#3cb371" fill-opacity="0.42"/>
<circle cx="140.4" cy="305.8" r="1.45" fill="#3cb371" fill-opacity="0.42"/>
<circle cx="141.7" cy="305.2" r="1.45" fill="#3cb371" fill-opacity="0.42"/>
<circle cx="151.6" cy="305.8" r="1.45" fill="#3cb371" fill-opacity="0.42"/>
<circle cx="45.2" cy="291.7" r="1.45" fill="#3cb371" fill-opacity="0.42"/>
<circle cx="46.2" cy="290.3" r="1.45" fill="#3cb371" fill-opacity="0.42"/>
<circle cx="45.8" cy="295.4" r="1.45" fill="#3cb371" fill-opacity="0.42"/>
<circle cx="44.4" cy="297.9" r="1.45" fill="#3cb371" fill-opacity="0.42"/>
<circle cx="44.3" cy="296.6" r="1.45" fill="#3cb371" fill-opacity="0.42"/>
<circle cx="44.4" cy="290.6" r="1.45" fill="#3cb371" fill-opacity="0.42"/>
<circle cx="45.5" cy="303.6" r="1.45" fill="#3cb371" fill-opacity="0.42"/>
<circle cx="44.6" cy="292.9" r="1.45" fill="#3cb371" fill-opacity="0.42"/>
<circle cx="46.1" cy="305.7" r="1.45" fill="#3cb371" fill-opacity="0.42"/>
<circle cx="45.9" cy="296.0" r="1.45" fill="#3cb371" fill-opacity="0.42"/>
<circle cx="47.1" cy="289.8" r="1.45" fill="#3cb371" fill-opacity="0.42"/>
<circle cx="46.8" cy="294.1" r="1.45" fill="#3cb371" fill-opacity="0.42"/>
<circle cx="44.6" cy="291.1" r="1.45" fill="#3cb371" fill-opacity="0.42"/>
<circle cx="45.1" cy="303.4" r="1.45" fill="#3cb371" fill-opacity="0.42"/>
<circle cx="44.7" cy="299.2" r="1.45" fill="#3cb371" fill-opacity="0.42"/>
<circle cx="46.1" cy="295.6" r="1.45" fill="#3cb371" fill-opacity="0.42"/>
<circle cx="45.8" cy="290.1" r="1.45" fill="#3cb371" fill-opacity="0.42"/>
<circle cx="44.4" cy="292.6" r="1.45" fill="#3cb371" fill-opacity="0.42"/>
<circle cx="46.2" cy="296.5" r="1.45" fill="#3cb371" fill-opacity="0.42"/>
<circle cx="45.1" cy="299.3" r="1.45" fill="#3cb371" fill-opacity="0.42"/>
<circle cx="45.6" cy="294.3" r="1.45" fill="#3cb371" fill-opacity="0.42"/>
<circle cx="46.6" cy="301.3" r="1.45" fill="#3cb371" fill-opacity="0.42"/>
<circle cx="49.3" cy="297.2" r="1.45" fill="#9b1fe8" fill-opacity="0.42"/>
<circle cx="50.1" cy="303.6" r="1.45" fill="#9b1fe8" fill-opacity="0.42"/>
<circle cx="50.6" cy="291.0" r="1.45" fill="#9b1fe8" fill-opacity="0.42"/>
<circle cx="51.3" cy="287.3" r="1.45" fill="#9b1fe8" fill-opacity="0.42"/>
<circle cx="49.8" cy="301.1" r="1.45" fill="#9b1fe8" fill-opacity="0.42"/>
<circle cx="49.0" cy="295.3" r="1.45" fill="#9b1fe8" fill-opacity="0.42"/>
<circle cx="48.7" cy="299.2" r="1.45" fill="#9b1fe8" fill-opacity="0.42"/>
<circle cx="50.7" cy="297.1" r="1.45" fill="#9b1fe8" fill-opacity="0.42"/>
<circle cx="51.1" cy="291.5" r="1.45" fill="#9b1fe8" fill-opacity="0.42"/>
<circle cx="50.5" cy="297.6" r="1.45" fill="#9b1fe8" fill-opacity="0.42"/>
<circle cx="50.2" cy="294.6" r="1.45" fill="#9b1fe8" fill-opacity="0.42"/>
<circle cx="51.0" cy="305.1" r="1.45" fill="#9b1fe8" fill-opacity="0.42"/>
<circle cx="49.9" cy="299.1" r="1.45" fill="#9b1fe8" fill-opacity="0.42"/>
<circle cx="48.8" cy="299.9" r="1.45" fill="#9b1fe8" fill-opacity="0.42"/>
<circle cx="50.4" cy="306.2" r="1.45" fill="#9b1fe8" fill-opacity="0.42"/>
<circle cx="50.9" cy="290.9" r="1.45" fill="#9b1fe8" fill-opacity="0.42"/>
<circle cx="49.7" cy="299.2" r="1.45" fill="#9b1fe8" fill-opacity="0.42"/>
<circle cx="48.7" cy="294.7" r="1.45" fill="#9b1fe8" fill-opacity="0.42"/>
<circle cx="49.1" cy="299.0" r="1.45" fill="#9b1fe8" fill-opacity="0.42"/>
<circle cx="48.8" cy="304.4" r="1.45" fill="#9b1fe8" fill-opacity="0.42"/>
<circle cx="49.0" cy="300.1" r="1.45" fill="#9b1fe8" fill-opacity="0.42"/>
<circle cx="49.7" cy="305.2" r="1.45" fill="#9b1fe8" fill-opacity="0.42"/>
<circle cx="48.8" cy="301.7" r="1.45" fill="#9b1fe8" fill-opacity="0.42"/>
<circle cx="50.1" cy="305.3" r="1.45" fill="#9b1fe8" fill-opacity="0.42"/>
<circle cx="50.9" cy="305.2" r="1.45" fill="#9b1fe8" fill-opacity="0.42"/>
<circle cx="49.4" cy="301.4" r="1.45" fill="#9b1fe8" fill-opacity="0.42"/>
<circle cx="49.6" cy="305.3" r="1.45" fill="#9b1fe8" fill-opacity="0.42"/>
<circle cx="51.3" cy="299.3" r="1.45" fill="#9b1fe8" fill-opacity="0.42"/>
<circle cx="49.1" cy="299.9" r="1.45" fill="#9b1fe8" fill-opacity="0.42"/>
<circle cx="49.3" cy="302.0" r="1.45" fill="#9b1fe8" fill-opacity="0.42"/>
<circle cx="50.2" cy="300.2" r="1.45" fill="#9b1fe8" fill-opacity="0.42"/>
<circle cx="48.6" cy="301.5" r="1.45" fill="#9b1fe8" fill-opacity="0.42"/>
<circle cx="55.5" cy="300.0" r="1.45" fill="#3cb371" fill-opacity="0.42"/>
<circle cx="57.0" cy="301.9" r="1.45" fill="#3cb371" fill-opacity="0.42"/>
<circle cx="55.8" cy="300.8" r="1.45" fill="#3cb371" fill-opacity="0.42"/>
<circle cx="56.3" cy="292.2" r="1.45" fill="#3cb371" fill-opacity="0.42"/>
<circle cx="56.8" cy="303.3" r="1.45" fill="#3cb371" fill-opacity="0.42"/>
<circle cx="56.8" cy="303.5" r="1.45" fill="#3cb371" fill-opacity="0.42"/>
<circle cx="55.5" cy="297.5" r="1.45" fill="#3cb371" fill-opacity="0.42"/>
<circle cx="54.8" cy="301.0" r="1.45" fill="#3cb371" fill-opacity="0.42"/>
<circle cx="54.7" cy="292.4" r="1.45" fill="#3cb371" fill-opacity="0.42"/>
<circle cx="55.0" cy="293.9" r="1.45" fill="#3cb371" fill-opacity="0.42"/>
<circle cx="55.4" cy="292.2" r="1.45" fill="#3cb371" fill-opacity="0.42"/>
<circle cx="54.5" cy="293.7" r="1.45" fill="#3cb371" fill-opacity="0.42"/>
<circle cx="54.8" cy="296.9" r="1.45" fill="#3cb371" fill-opacity="0.42"/>
<circle cx="54.6" cy="304.7" r="1.45" fill="#3cb371" fill-opacity="0.42"/>
<circle cx="60.3" cy="292.5" r="1.45" fill="#9b1fe8" fill-opacity="0.42"/>
<circle cx="59.4" cy="295.8" r="1.45" fill="#9b1fe8" fill-opacity="0.42"/>
<circle cx="59.6" cy="292.0" r="1.45" fill="#9b1fe8" fill-opacity="0.42"/>
<circle cx="60.9" cy="306.5" r="1.45" fill="#9b1fe8" fill-opacity="0.42"/>
<circle cx="59.9" cy="298.0" r="1.45" fill="#9b1fe8" fill-opacity="0.42"/>
<circle cx="58.9" cy="291.7" r="1.45" fill="#9b1fe8" fill-opacity="0.42"/>
<circle cx="59.6" cy="294.4" r="1.45" fill="#9b1fe8" fill-opacity="0.42"/>
<circle cx="60.9" cy="292.7" r="1.45" fill="#9b1fe8" fill-opacity="0.42"/>
<circle cx="58.8" cy="305.8" r="1.45" fill="#9b1fe8" fill-opacity="0.42"/>
<circle cx="60.1" cy="292.4" r="1.45" fill="#9b1fe8" fill-opacity="0.42"/>
<circle cx="60.1" cy="290.4" r="1.45" fill="#9b1fe8" fill-opacity="0.42"/>
<circle cx="60.1" cy="306.2" r="1.45" fill="#9b1fe8" fill-opacity="0.42"/>
<circle cx="60.9" cy="301.6" r="1.45" fill="#9b1fe8" fill-opacity="0.42"/>
<circle cx="59.4" cy="296.1" r="1.45" fill="#9b1fe8" fill-opacity="0.42"/>
<polyline points="47.70,296.0 58.07,300.0 68.44,300.0 78.81,300.0 89.18,300.0 99.55,300.0 109.92,300.0 120.29,300.0 130.66,300.0 141.03,300.0 151.40,300.0" fill="none" stroke="#000" stroke-width="0.9"/>
<line x1="47.70" y1="293.5" x2="47.70" y2="298.5" stroke="#000" stroke-width="1.1"/>
<circle cx="47.70" cy="296.0" r="2.5" fill="#000"/>
<line x1="58.07" y1="299.0" x2="58.07" y2="301.0" stroke="#000" stroke-width="1.1"/>
<circle cx="58.07" cy="300.0" r="2.5" fill="#000"/>
<line x1="68.44" y1="299.0" x2="68.44" y2="301.0" stroke="#000" stroke-width="1.1"/>
<circle cx="68.44" cy="300.0" r="2.5" fill="#000"/>
<line x1="78.81" y1="299.0" x2="78.81" y2="301.0" stroke="#000" stroke-width="1.1"/>
<circle cx="78.81" cy="300.0" r="2.5" fill="#000"/>
<line x1="89.18" y1="299.0" x2="89.18" y2="301.0" stroke="#000" stroke-width="1.1"/>
<circle cx="89.18" cy="300.0" r="2.5" fill="#000"/>
<line x1="99.55" y1="299.0" x2="99.55" y2="301.0" stroke="#000" stroke-width="1.1"/>
<circle cx="99.55" cy="300.0" r="2.5" fill="#000"/>
<line x1="109.92" y1="299.0" x2="109.92" y2="301.0" stroke="#000" stroke-width="1.1"/>
<circle cx="109.92" cy="300.0" r="2.5" fill="#000"/>
<line x1="120.29" y1="299.0" x2="120.29" y2="301.0" stroke="#000" stroke-width="1.1"/>
<circle cx="120.29" cy="300.0" r="2.5" fill="#000"/>
<line x1="130.66" y1="299.0" x2="130.66" y2="301.0" stroke="#000" stroke-width="1.1"/>
<circle cx="130.66" cy="300.0" r="2.5" fill="#000"/>
<line x1="141.03" y1="299.0" x2="141.03" y2="301.0" stroke="#000" stroke-width="1.1"/>
<circle cx="141.03" cy="300.0" r="2.5" fill="#000"/>
<line x1="151.40" y1="299.0" x2="151.40" y2="301.0" stroke="#000" stroke-width="1.1"/>
<circle cx="151.40" cy="300.0" r="2.5" fill="#000"/>
</g>
<rect x="37.6" y="184.4" width="124.80" height="127.00" fill="none" stroke="#333333" stroke-width="0.55"/>
<line x1="47.70" y1="311.4" x2="47.70" y2="313.5" stroke="#333333" stroke-width="0.55"/>
<text x="47.70" y="320.20" font-size="6.4" fill="#4d4d4d" stroke="#4d4d4d" stroke-width="0.12" text-anchor="middle">0</text>
<line x1="68.44" y1="311.4" x2="68.44" y2="313.5" stroke="#333333" stroke-width="0.55"/>
<text x="68.44" y="320.20" font-size="6.4" fill="#4d4d4d" stroke="#4d4d4d" stroke-width="0.12" text-anchor="middle">2</text>
<line x1="89.18" y1="311.4" x2="89.18" y2="313.5" stroke="#333333" stroke-width="0.55"/>
<text x="89.18" y="320.20" font-size="6.4" fill="#4d4d4d" stroke="#4d4d4d" stroke-width="0.12" text-anchor="middle">4</text>
<line x1="109.92" y1="311.4" x2="109.92" y2="313.5" stroke="#333333" stroke-width="0.55"/>
<text x="109.92" y="320.20" font-size="6.4" fill="#4d4d4d" stroke="#4d4d4d" stroke-width="0.12" text-anchor="middle">6</text>
<line x1="130.66" y1="311.4" x2="130.66" y2="313.5" stroke="#333333" stroke-width="0.55"/>
<text x="130.66" y="320.20" font-size="6.4" fill="#4d4d4d" stroke="#4d4d4d" stroke-width="0.12" text-anchor="middle">8</text>
<line x1="151.40" y1="311.4" x2="151.40" y2="313.5" stroke="#333333" stroke-width="0.55"/>
<text x="151.40" y="320.20" font-size="6.4" fill="#4d4d4d" stroke="#4d4d4d" stroke-width="0.12" text-anchor="middle">10</text>
<line x1="35.5" y1="306.30" x2="37.6" y2="306.30" stroke="#333333" stroke-width="0.55"/>
<text x="33.50" y="308.80" font-size="6.4" fill="#4d4d4d" stroke="#4d4d4d" stroke-width="0.12" text-anchor="end">0</text>
<line x1="35.5" y1="277.27" x2="37.6" y2="277.27" stroke="#333333" stroke-width="0.55"/>
<text x="33.50" y="279.77" font-size="6.4" fill="#4d4d4d" stroke="#4d4d4d" stroke-width="0.12" text-anchor="end">25000</text>
<line x1="35.5" y1="248.25" x2="37.6" y2="248.25" stroke="#333333" stroke-width="0.55"/>
<text x="33.50" y="250.75" font-size="6.4" fill="#4d4d4d" stroke="#4d4d4d" stroke-width="0.12" text-anchor="end">50000</text>
<line x1="35.5" y1="219.22" x2="37.6" y2="219.22" stroke="#333333" stroke-width="0.55"/>
<text x="33.50" y="221.72" font-size="6.4" fill="#4d4d4d" stroke="#4d4d4d" stroke-width="0.12" text-anchor="end">75000</text>
<line x1="35.5" y1="190.20" x2="37.6" y2="190.20" stroke="#333333" stroke-width="0.55"/>
<text x="33.50" y="192.70" font-size="6.4" fill="#4d4d4d" stroke="#4d4d4d" stroke-width="0.12" text-anchor="end">100000</text>
<text transform="translate(8.6,247.90) rotate(-90)" font-size="8.25" fill="#000" stroke="#000" stroke-width="0.18" text-anchor="middle">CD4+ Tbet+ (cells/ml blood)</text>
<text x="36.30" y="179.10" font-size="12.5" fill="#000" stroke="#000" stroke-width="0.2">C</text>
<clipPath id="cD"><rect x="202.3" y="184.4" width="128.10" height="127.00"/></clipPath>
<g clip-path="url(#cD)">
<line x1="223.77" y1="184.4" x2="223.77" y2="311.4" stroke="#f0f0f0" stroke-width="0.8"/>
<line x1="245.11" y1="184.4" x2="245.11" y2="311.4" stroke="#f0f0f0" stroke-width="0.8"/>
<line x1="266.45" y1="184.4" x2="266.45" y2="311.4" stroke="#f0f0f0" stroke-width="0.8"/>
<line x1="287.79" y1="184.4" x2="287.79" y2="311.4" stroke="#f0f0f0" stroke-width="0.8"/>
<line x1="309.13" y1="184.4" x2="309.13" y2="311.4" stroke="#f0f0f0" stroke-width="0.8"/>
<line x1="202.3" y1="294.54" x2="330.4" y2="294.54" stroke="#f0f0f0" stroke-width="0.8"/>
<line x1="202.3" y1="271.22" x2="330.4" y2="271.22" stroke="#f0f0f0" stroke-width="0.8"/>
<line x1="202.3" y1="247.90" x2="330.4" y2="247.90" stroke="#f0f0f0" stroke-width="0.8"/>
<line x1="202.3" y1="224.58" x2="330.4" y2="224.58" stroke="#f0f0f0" stroke-width="0.8"/>
<line x1="202.3" y1="201.26" x2="330.4" y2="201.26" stroke="#f0f0f0" stroke-width="0.8"/>
<line x1="213.10" y1="184.4" x2="213.10" y2="311.4" stroke="#ededed" stroke-width="1.0"/>
<line x1="234.44" y1="184.4" x2="234.44" y2="311.4" stroke="#ededed" stroke-width="1.0"/>
<line x1="255.78" y1="184.4" x2="255.78" y2="311.4" stroke="#ededed" stroke-width="1.0"/>
<line x1="277.12" y1="184.4" x2="277.12" y2="311.4" stroke="#ededed" stroke-width="1.0"/>
<line x1="298.46" y1="184.4" x2="298.46" y2="311.4" stroke="#ededed" stroke-width="1.0"/>
<line x1="319.80" y1="184.4" x2="319.80" y2="311.4" stroke="#ededed" stroke-width="1.0"/>
<line x1="202.3" y1="306.20" x2="330.4" y2="306.20" stroke="#ededed" stroke-width="1.0"/>
<line x1="202.3" y1="282.88" x2="330.4" y2="282.88" stroke="#ededed" stroke-width="1.0"/>
<line x1="202.3" y1="259.56" x2="330.4" y2="259.56" stroke="#ededed" stroke-width="1.0"/>
<line x1="202.3" y1="236.24" x2="330.4" y2="236.24" stroke="#ededed" stroke-width="1.0"/>
<line x1="202.3" y1="212.92" x2="330.4" y2="212.92" stroke="#ededed" stroke-width="1.0"/>
<line x1="202.3" y1="189.60" x2="330.4" y2="189.60" stroke="#ededed" stroke-width="1.0"/>
<circle cx="210.3" cy="219.4" r="1.45" fill="#3cb371" fill-opacity="0.42"/>
<circle cx="211.6" cy="242.0" r="1.45" fill="#3cb371" fill-opacity="0.42"/>
<circle cx="264.2" cy="238.6" r="1.45" fill="#3cb371" fill-opacity="0.42"/>
<circle cx="214.5" cy="238.8" r="1.45" fill="#9b1fe8" fill-opacity="0.42"/>
<circle cx="226.2" cy="247.5" r="1.45" fill="#9b1fe8" fill-opacity="0.42"/>
<circle cx="215.8" cy="260.7" r="1.45" fill="#9b1fe8" fill-opacity="0.42"/>
<circle cx="225.4" cy="262.4" r="1.45" fill="#9b1fe8" fill-opacity="0.42"/>
<circle cx="225.4" cy="265.7" r="1.45" fill="#9b1fe8" fill-opacity="0.42"/>
<circle cx="215.1" cy="267.0" r="1.45" fill="#9b1fe8" fill-opacity="0.42"/>
<circle cx="215.4" cy="271.0" r="1.45" fill="#9b1fe8" fill-opacity="0.42"/>
<circle cx="225.0" cy="271.6" r="1.45" fill="#9b1fe8" fill-opacity="0.42"/>
<circle cx="225.0" cy="274.9" r="1.45" fill="#9b1fe8" fill-opacity="0.42"/>
<circle cx="226.3" cy="279.5" r="1.45" fill="#9b1fe8" fill-opacity="0.42"/>
<circle cx="214.5" cy="280.4" r="1.45" fill="#9b1fe8" fill-opacity="0.42"/>
<circle cx="214.5" cy="283.5" r="1.45" fill="#9b1fe8" fill-opacity="0.42"/>
<circle cx="225.4" cy="284.1" r="1.45" fill="#9b1fe8" fill-opacity="0.42"/>
<circle cx="215.1" cy="287.8" r="1.45" fill="#9b1fe8" fill-opacity="0.42"/>
<circle cx="214.5" cy="290.0" r="1.45" fill="#9b1fe8" fill-opacity="0.42"/>
<circle cx="225.7" cy="290.0" r="1.45" fill="#9b1fe8" fill-opacity="0.42"/>
<circle cx="226.3" cy="291.4" r="1.45" fill="#9b1fe8" fill-opacity="0.42"/>
<circle cx="215.1" cy="292.0" r="1.45" fill="#9b1fe8" fill-opacity="0.42"/>
<circle cx="215.1" cy="294.6" r="1.45" fill="#9b1fe8" fill-opacity="0.42"/>
<circle cx="225.4" cy="295.3" r="1.45" fill="#9b1fe8" fill-opacity="0.42"/>
<circle cx="215.1" cy="298.6" r="1.45" fill="#9b1fe8" fill-opacity="0.42"/>
<circle cx="214.5" cy="299.9" r="1.45" fill="#9b1fe8" fill-opacity="0.42"/>
<circle cx="215.1" cy="301.9" r="1.45" fill="#9b1fe8" fill-opacity="0.42"/>
<circle cx="225.4" cy="298.6" r="1.45" fill="#9b1fe8" fill-opacity="0.42"/>
<circle cx="225.4" cy="302.5" r="1.45" fill="#9b1fe8" fill-opacity="0.42"/>
<circle cx="214.5" cy="303.8" r="1.45" fill="#9b1fe8" fill-opacity="0.42"/>
<circle cx="215.1" cy="305.8" r="1.45" fill="#9b1fe8" fill-opacity="0.42"/>
<circle cx="225.4" cy="305.8" r="1.45" fill="#9b1fe8" fill-opacity="0.42"/>
<circle cx="234.6" cy="305.8" r="1.45" fill="#9b1fe8" fill-opacity="0.42"/>
<circle cx="247.3" cy="282.8" r="1.45" fill="#9b1fe8" fill-opacity="0.42"/>
<circle cx="246.0" cy="292.7" r="1.45" fill="#9b1fe8" fill-opacity="0.42"/>
<circle cx="246.7" cy="298.6" r="1.45" fill="#9b1fe8" fill-opacity="0.42"/>
<circle cx="247.3" cy="305.8" r="1.45" fill="#9b1fe8" fill-opacity="0.42"/>
<circle cx="256.9" cy="282.2" r="1.45" fill="#9b1fe8" fill-opacity="0.42"/>
<circle cx="258.5" cy="285.2" r="1.45" fill="#9b1fe8" fill-opacity="0.42"/>
<circle cx="258.2" cy="297.9" r="1.45" fill="#9b1fe8" fill-opacity="0.42"/>
<circle cx="209.9" cy="270.7" r="1.45" fill="#3cb371" fill-opacity="0.42"/>
<circle cx="210.1" cy="273.0" r="1.45" fill="#3cb371" fill-opacity="0.42"/>
<circle cx="211.2" cy="276.9" r="1.45" fill="#3cb371" fill-opacity="0.42"/>
<circle cx="211.2" cy="278.9" r="1.45" fill="#3cb371" fill-opacity="0.42"/>
<circle cx="210.1" cy="280.4" r="1.45" fill="#3cb371" fill-opacity="0.42"/>
<circle cx="210.5" cy="282.8" r="1.45" fill="#3cb371" fill-opacity="0.42"/>
<circle cx="209.9" cy="284.8" r="1.45" fill="#3cb371" fill-opacity="0.42"/>
<circle cx="210.9" cy="286.8" r="1.45" fill="#3cb371" fill-opacity="0.42"/>
<circle cx="210.1" cy="288.1" r="1.45" fill="#3cb371" fill-opacity="0.42"/>
<circle cx="211.2" cy="292.0" r="1.45" fill="#3cb371" fill-opacity="0.42"/>
<circle cx="210.1" cy="296.0" r="1.45" fill="#3cb371" fill-opacity="0.42"/>
<circle cx="210.5" cy="298.6" r="1.45" fill="#3cb371" fill-opacity="0.42"/>
<circle cx="209.9" cy="301.0" r="1.45" fill="#3cb371" fill-opacity="0.42"/>
<circle cx="210.9" cy="303.8" r="1.45" fill="#3cb371" fill-opacity="0.42"/>
<circle cx="210.1" cy="305.8" r="1.45" fill="#3cb371" fill-opacity="0.42"/>
<circle cx="221.7" cy="270.3" r="1.45" fill="#3cb371" fill-opacity="0.42"/>
<circle cx="222.4" cy="267.0" r="1.45" fill="#3cb371" fill-opacity="0.42"/>
<circle cx="221.4" cy="278.9" r="1.45" fill="#3cb371" fill-opacity="0.42"/>
<circle cx="221.7" cy="279.9" r="1.45" fill="#3cb371" fill-opacity="0.42"/>
<circle cx="221.1" cy="292.0" r="1.45" fill="#3cb371" fill-opacity="0.42"/>
<circle cx="221.1" cy="296.0" r="1.45" fill="#3cb371" fill-opacity="0.42"/>
<circle cx="221.7" cy="297.9" r="1.45" fill="#3cb371" fill-opacity="0.42"/>
<circle cx="221.4" cy="302.8" r="1.45" fill="#3cb371" fill-opacity="0.42"/>
<circle cx="253.9" cy="260.2" r="1.45" fill="#3cb371" fill-opacity="0.42"/>
<circle cx="253.5" cy="270.7" r="1.45" fill="#3cb371" fill-opacity="0.42"/>
<circle cx="242.1" cy="286.5" r="1.45" fill="#3cb371" fill-opacity="0.42"/>
<circle cx="244.1" cy="296.0" r="1.45" fill="#3cb371" fill-opacity="0.42"/>
<circle cx="243.8" cy="302.8" r="1.45" fill="#3cb371" fill-opacity="0.42"/>
<circle cx="253.5" cy="302.3" r="1.45" fill="#3cb371" fill-opacity="0.42"/>
<circle cx="253.9" cy="303.6" r="1.45" fill="#3cb371" fill-opacity="0.42"/>
<circle cx="264.4" cy="276.5" r="1.45" fill="#3cb371" fill-opacity="0.42"/>
<circle cx="264.8" cy="281.5" r="1.45" fill="#3cb371" fill-opacity="0.42"/>
<circle cx="264.8" cy="298.6" r="1.45" fill="#3cb371" fill-opacity="0.42"/>
<circle cx="264.4" cy="303.6" r="1.45" fill="#3cb371" fill-opacity="0.42"/>
<circle cx="320.8" cy="190.4" r="1.45" fill="#3cb371" fill-opacity="0.42"/>
<circle cx="285.8" cy="244.9" r="1.45" fill="#3cb371" fill-opacity="0.42"/>
<circle cx="268.6" cy="262.4" r="1.45" fill="#9b1fe8" fill-opacity="0.42"/>
<circle cx="279.1" cy="270.3" r="1.45" fill="#9b1fe8" fill-opacity="0.42"/>
<circle cx="278.2" cy="277.6" r="1.45" fill="#9b1fe8" fill-opacity="0.42"/>
<circle cx="278.7" cy="282.2" r="1.45" fill="#9b1fe8" fill-opacity="0.42"/>
<circle cx="278.7" cy="286.1" r="1.45" fill="#9b1fe8" fill-opacity="0.42"/>
<circle cx="289.0" cy="285.2" r="1.45" fill="#9b1fe8" fill-opacity="0.42"/>
<circle cx="290.0" cy="283.1" r="1.45" fill="#9b1fe8" fill-opacity="0.42"/>
<circle cx="277.8" cy="292.7" r="1.45" fill="#9b1fe8" fill-opacity="0.42"/>
<circle cx="278.7" cy="294.0" r="1.45" fill="#9b1fe8" fill-opacity="0.42"/>
<circle cx="279.8" cy="294.9" r="1.45" fill="#9b1fe8" fill-opacity="0.42"/>
<circle cx="278.2" cy="297.0" r="1.45" fill="#9b1fe8" fill-opacity="0.42"/>
<circle cx="268.2" cy="294.6" r="1.45" fill="#9b1fe8" fill-opacity="0.42"/>
<circle cx="267.3" cy="300.2" r="1.45" fill="#9b1fe8" fill-opacity="0.42"/>
<circle cx="289.6" cy="299.6" r="1.45" fill="#9b1fe8" fill-opacity="0.42"/>
<circle cx="278.2" cy="303.8" r="1.45" fill="#9b1fe8" fill-opacity="0.42"/>
<circle cx="286.3" cy="265.5" r="1.45" fill="#3cb371" fill-opacity="0.42"/>
<circle cx="276.1" cy="269.7" r="1.45" fill="#3cb371" fill-opacity="0.42"/>
<circle cx="265.6" cy="271.0" r="1.45" fill="#3cb371" fill-opacity="0.42"/>
<circle cx="265.1" cy="275.2" r="1.45" fill="#3cb371" fill-opacity="0.42"/>
<circle cx="274.8" cy="275.2" r="1.45" fill="#3cb371" fill-opacity="0.42"/>
<circle cx="286.6" cy="274.9" r="1.45" fill="#3cb371" fill-opacity="0.42"/>
<circle cx="273.9" cy="280.2" r="1.45" fill="#3cb371" fill-opacity="0.42"/>
<circle cx="275.2" cy="281.2" r="1.45" fill="#3cb371" fill-opacity="0.42"/>
<circle cx="275.2" cy="284.1" r="1.45" fill="#3cb371" fill-opacity="0.42"/>
<circle cx="265.1" cy="286.1" r="1.45" fill="#3cb371" fill-opacity="0.42"/>
<circle cx="298.4" cy="287.4" r="1.45" fill="#3cb371" fill-opacity="0.42"/>
<circle cx="298.4" cy="290.7" r="1.45" fill="#3cb371" fill-opacity="0.42"/>
<circle cx="309.3" cy="284.4" r="1.45" fill="#3cb371" fill-opacity="0.42"/>
<circle cx="308.4" cy="292.7" r="1.45" fill="#3cb371" fill-opacity="0.42"/>
<circle cx="274.8" cy="296.6" r="1.45" fill="#3cb371" fill-opacity="0.42"/>
<circle cx="276.1" cy="295.3" r="1.45" fill="#3cb371" fill-opacity="0.42"/>
<circle cx="309.3" cy="302.5" r="1.45" fill="#3cb371" fill-opacity="0.42"/>
<circle cx="285.0" cy="304.9" r="1.45" fill="#3cb371" fill-opacity="0.42"/>
<circle cx="319.2" cy="266.8" r="1.45" fill="#3cb371" fill-opacity="0.42"/>
<circle cx="319.2" cy="305.8" r="1.45" fill="#3cb371" fill-opacity="0.42"/>
<circle cx="215.4" cy="302.8" r="1.45" fill="#9b1fe8" fill-opacity="0.42"/>
<circle cx="215.9" cy="286.7" r="1.45" fill="#9b1fe8" fill-opacity="0.42"/>
<circle cx="215.1" cy="304.5" r="1.45" fill="#9b1fe8" fill-opacity="0.42"/>
<circle cx="215.7" cy="283.6" r="1.45" fill="#9b1fe8" fill-opacity="0.42"/>
<circle cx="214.2" cy="291.5" r="1.45" fill="#9b1fe8" fill-opacity="0.42"/>
<circle cx="214.1" cy="286.3" r="1.45" fill="#9b1fe8" fill-opacity="0.42"/>
<circle cx="214.1" cy="297.4" r="1.45" fill="#9b1fe8" fill-opacity="0.42"/>
<circle cx="215.6" cy="303.3" r="1.45" fill="#9b1fe8" fill-opacity="0.42"/>
<circle cx="214.3" cy="298.6" r="1.45" fill="#9b1fe8" fill-opacity="0.42"/>
<circle cx="215.3" cy="283.7" r="1.45" fill="#9b1fe8" fill-opacity="0.42"/>
<circle cx="211.3" cy="304.8" r="1.45" fill="#3cb371" fill-opacity="0.42"/>
<circle cx="209.9" cy="304.3" r="1.45" fill="#3cb371" fill-opacity="0.42"/>
<circle cx="210.3" cy="287.5" r="1.45" fill="#3cb371" fill-opacity="0.42"/>
<circle cx="211.5" cy="300.0" r="1.45" fill="#3cb371" fill-opacity="0.42"/>
<circle cx="209.8" cy="285.5" r="1.45" fill="#3cb371" fill-opacity="0.42"/>
<circle cx="210.5" cy="282.2" r="1.45" fill="#3cb371" fill-opacity="0.42"/>
<circle cx="209.9" cy="281.5" r="1.45" fill="#3cb371" fill-opacity="0.42"/>
<circle cx="210.9" cy="270.7" r="1.45" fill="#3cb371" fill-opacity="0.42"/>
</g>
<rect x="202.3" y="184.4" width="128.10" height="127.00" fill="none" stroke="#333333" stroke-width="0.55"/>
<line x1="213.10" y1="311.4" x2="213.10" y2="313.5" stroke="#333333" stroke-width="0.55"/>
<text x="213.10" y="320.20" font-size="6.4" fill="#4d4d4d" stroke="#4d4d4d" stroke-width="0.12" text-anchor="middle">0</text>
<line x1="234.44" y1="311.4" x2="234.44" y2="313.5" stroke="#333333" stroke-width="0.55"/>
<text x="234.44" y="320.20" font-size="6.4" fill="#4d4d4d" stroke="#4d4d4d" stroke-width="0.12" text-anchor="middle">2</text>
<line x1="255.78" y1="311.4" x2="255.78" y2="313.5" stroke="#333333" stroke-width="0.55"/>
<text x="255.78" y="320.20" font-size="6.4" fill="#4d4d4d" stroke="#4d4d4d" stroke-width="0.12" text-anchor="middle">4</text>
<line x1="277.12" y1="311.4" x2="277.12" y2="313.5" stroke="#333333" stroke-width="0.55"/>
<text x="277.12" y="320.20" font-size="6.4" fill="#4d4d4d" stroke="#4d4d4d" stroke-width="0.12" text-anchor="middle">6</text>
<line x1="298.46" y1="311.4" x2="298.46" y2="313.5" stroke="#333333" stroke-width="0.55"/>
<text x="298.46" y="320.20" font-size="6.4" fill="#4d4d4d" stroke="#4d4d4d" stroke-width="0.12" text-anchor="middle">8</text>
<line x1="319.80" y1="311.4" x2="319.80" y2="313.5" stroke="#333333" stroke-width="0.55"/>
<text x="319.80" y="320.20" font-size="6.4" fill="#4d4d4d" stroke="#4d4d4d" stroke-width="0.12" text-anchor="middle">10</text>
<line x1="200.20000000000002" y1="306.20" x2="202.3" y2="306.20" stroke="#333333" stroke-width="0.55"/>
<text x="198.20" y="308.70" font-size="6.4" fill="#4d4d4d" stroke="#4d4d4d" stroke-width="0.12" text-anchor="end">0e+00</text>
<line x1="200.20000000000002" y1="282.88" x2="202.3" y2="282.88" stroke="#333333" stroke-width="0.55"/>
<text x="198.20" y="285.38" font-size="6.4" fill="#4d4d4d" stroke="#4d4d4d" stroke-width="0.12" text-anchor="end">1e+05</text>
<line x1="200.20000000000002" y1="259.56" x2="202.3" y2="259.56" stroke="#333333" stroke-width="0.55"/>
<text x="198.20" y="262.06" font-size="6.4" fill="#4d4d4d" stroke="#4d4d4d" stroke-width="0.12" text-anchor="end">2e+05</text>
<line x1="200.20000000000002" y1="236.24" x2="202.3" y2="236.24" stroke="#333333" stroke-width="0.55"/>
<text x="198.20" y="238.74" font-size="6.4" fill="#4d4d4d" stroke="#4d4d4d" stroke-width="0.12" text-anchor="end">3e+05</text>
<line x1="200.20000000000002" y1="212.92" x2="202.3" y2="212.92" stroke="#333333" stroke-width="0.55"/>
<text x="198.20" y="215.42" font-size="6.4" fill="#4d4d4d" stroke="#4d4d4d" stroke-width="0.12" text-anchor="end">4e+05</text>
<line x1="200.20000000000002" y1="189.60" x2="202.3" y2="189.60" stroke="#333333" stroke-width="0.55"/>
<text x="198.20" y="192.10" font-size="6.4" fill="#4d4d4d" stroke="#4d4d4d" stroke-width="0.12" text-anchor="end">5e+05</text>
<text transform="translate(176.5,247.90) rotate(-90)" font-size="8.25" fill="#000" stroke="#000" stroke-width="0.18" text-anchor="middle">CD4+ Gata3+ (cells/ml blood)</text>
<text x="201.00" y="179.10" font-size="12.5" fill="#000" stroke="#000" stroke-width="0.2">D</text>
<clipPath id="cE"><rect x="372.5" y="184.4" width="125.90" height="127.00"/></clipPath>
<g clip-path="url(#cE)">
<line x1="393.73" y1="184.4" x2="393.73" y2="311.4" stroke="#f0f0f0" stroke-width="0.8"/>
<line x1="414.79" y1="184.4" x2="414.79" y2="311.4" stroke="#f0f0f0" stroke-width="0.8"/>
<line x1="435.85" y1="184.4" x2="435.85" y2="311.4" stroke="#f0f0f0" stroke-width="0.8"/>
<line x1="456.91" y1="184.4" x2="456.91" y2="311.4" stroke="#f0f0f0" stroke-width="0.8"/>
<line x1="477.97" y1="184.4" x2="477.97" y2="311.4" stroke="#f0f0f0" stroke-width="0.8"/>
<line x1="372.5" y1="284.58" x2="498.4" y2="284.58" stroke="#f0f0f0" stroke-width="0.8"/>
<line x1="372.5" y1="241.53" x2="498.4" y2="241.53" stroke="#f0f0f0" stroke-width="0.8"/>
<line x1="372.5" y1="198.47" x2="498.4" y2="198.47" stroke="#f0f0f0" stroke-width="0.8"/>
<line x1="383.20" y1="184.4" x2="383.20" y2="311.4" stroke="#ededed" stroke-width="1.0"/>
<line x1="404.26" y1="184.4" x2="404.26" y2="311.4" stroke="#ededed" stroke-width="1.0"/>
<line x1="425.32" y1="184.4" x2="425.32" y2="311.4" stroke="#ededed" stroke-width="1.0"/>
<line x1="446.38" y1="184.4" x2="446.38" y2="311.4" stroke="#ededed" stroke-width="1.0"/>
<line x1="467.44" y1="184.4" x2="467.44" y2="311.4" stroke="#ededed" stroke-width="1.0"/>
<line x1="488.50" y1="184.4" x2="488.50" y2="311.4" stroke="#ededed" stroke-width="1.0"/>
<line x1="372.5" y1="306.10" x2="498.4" y2="306.10" stroke="#ededed" stroke-width="1.0"/>
<line x1="372.5" y1="263.05" x2="498.4" y2="263.05" stroke="#ededed" stroke-width="1.0"/>
<line x1="372.5" y1="220.00" x2="498.4" y2="220.00" stroke="#ededed" stroke-width="1.0"/>
<circle cx="384.1" cy="190.4" r="1.45" fill="#9b1fe8" fill-opacity="0.42"/>
<circle cx="385.4" cy="220.3" r="1.45" fill="#9b1fe8" fill-opacity="0.42"/>
<circle cx="396.2" cy="222.0" r="1.45" fill="#9b1fe8" fill-opacity="0.42"/>
<circle cx="384.5" cy="233.1" r="1.45" fill="#9b1fe8" fill-opacity="0.42"/>
<circle cx="394.7" cy="241.4" r="1.45" fill="#9b1fe8" fill-opacity="0.42"/>
<circle cx="386.0" cy="245.2" r="1.45" fill="#9b1fe8" fill-opacity="0.42"/>
<circle cx="395.6" cy="246.5" r="1.45" fill="#9b1fe8" fill-opacity="0.42"/>
<circle cx="426.6" cy="225.8" r="1.45" fill="#9b1fe8" fill-opacity="0.42"/>
<circle cx="427.1" cy="239.5" r="1.45" fill="#9b1fe8" fill-opacity="0.42"/>
<circle cx="417.3" cy="247.5" r="1.45" fill="#9b1fe8" fill-opacity="0.42"/>
<circle cx="392.4" cy="210.8" r="1.45" fill="#3cb371" fill-opacity="0.42"/>
<circle cx="380.7" cy="215.0" r="1.45" fill="#3cb371" fill-opacity="0.42"/>
<circle cx="381.2" cy="236.5" r="1.45" fill="#3cb371" fill-opacity="0.42"/>
<circle cx="381.6" cy="246.1" r="1.45" fill="#3cb371" fill-opacity="0.42"/>
<circle cx="385.1" cy="252.6" r="1.45" fill="#9b1fe8" fill-opacity="0.42"/>
<circle cx="394.6" cy="251.9" r="1.45" fill="#9b1fe8" fill-opacity="0.42"/>
<circle cx="385.1" cy="263.1" r="1.45" fill="#9b1fe8" fill-opacity="0.42"/>
<circle cx="384.9" cy="266.4" r="1.45" fill="#9b1fe8" fill-opacity="0.42"/>
<circle cx="385.1" cy="271.0" r="1.45" fill="#9b1fe8" fill-opacity="0.42"/>
<circle cx="384.9" cy="276.5" r="1.45" fill="#9b1fe8" fill-opacity="0.42"/>
<circle cx="385.1" cy="278.2" r="1.45" fill="#9b1fe8" fill-opacity="0.42"/>
<circle cx="384.5" cy="280.8" r="1.45" fill="#9b1fe8" fill-opacity="0.42"/>
<circle cx="384.9" cy="282.8" r="1.45" fill="#9b1fe8" fill-opacity="0.42"/>
<circle cx="385.1" cy="286.1" r="1.45" fill="#9b1fe8" fill-opacity="0.42"/>
<circle cx="385.1" cy="288.1" r="1.45" fill="#9b1fe8" fill-opacity="0.42"/>
<circle cx="384.5" cy="291.4" r="1.45" fill="#9b1fe8" fill-opacity="0.42"/>
<circle cx="385.1" cy="294.6" r="1.45" fill="#9b1fe8" fill-opacity="0.42"/>
<circle cx="385.1" cy="296.6" r="1.45" fill="#9b1fe8" fill-opacity="0.42"/>
<circle cx="384.9" cy="301.2" r="1.45" fill="#9b1fe8" fill-opacity="0.42"/>
<circle cx="384.5" cy="303.8" r="1.45" fill="#9b1fe8" fill-opacity="0.42"/>
<circle cx="395.4" cy="263.1" r="1.45" fill="#9b1fe8" fill-opacity="0.42"/>
<circle cx="395.4" cy="265.1" r="1.45" fill="#9b1fe8" fill-opacity="0.42"/>
<circle cx="395.7" cy="271.6" r="1.45" fill="#9b1fe8" fill-opacity="0.42"/>
<circle cx="396.3" cy="276.0" r="1.45" fill="#9b1fe8" fill-opacity="0.42"/>
<circle cx="396.3" cy="279.5" r="1.45" fill="#9b1fe8" fill-opacity="0.42"/>
<circle cx="395.9" cy="283.5" r="1.45" fill="#9b1fe8" fill-opacity="0.42"/>
<circle cx="394.6" cy="287.8" r="1.45" fill="#9b1fe8" fill-opacity="0.42"/>
<circle cx="395.7" cy="294.9" r="1.45" fill="#9b1fe8" fill-opacity="0.42"/>
<circle cx="395.4" cy="297.3" r="1.45" fill="#9b1fe8" fill-opacity="0.42"/>
<circle cx="395.4" cy="302.8" r="1.45" fill="#9b1fe8" fill-opacity="0.42"/>
<circle cx="395.4" cy="304.9" r="1.45" fill="#9b1fe8" fill-opacity="0.42"/>
<circle cx="403.5" cy="299.6" r="1.45" fill="#9b1fe8" fill-opacity="0.42"/>
<circle cx="416.9" cy="294.9" r="1.45" fill="#9b1fe8" fill-opacity="0.42"/>
<circle cx="417.3" cy="298.6" r="1.45" fill="#9b1fe8" fill-opacity="0.42"/>
<circle cx="416.7" cy="302.3" r="1.45" fill="#9b1fe8" fill-opacity="0.42"/>
<circle cx="416.4" cy="303.8" r="1.45" fill="#9b1fe8" fill-opacity="0.42"/>
<circle cx="427.5" cy="291.4" r="1.45" fill="#9b1fe8" fill-opacity="0.42"/>
<circle cx="435.7" cy="267.0" r="1.45" fill="#9b1fe8" fill-opacity="0.42"/>
<circle cx="380.9" cy="258.5" r="1.45" fill="#3cb371" fill-opacity="0.42"/>
<circle cx="380.9" cy="259.8" r="1.45" fill="#3cb371" fill-opacity="0.42"/>
<circle cx="380.5" cy="264.4" r="1.45" fill="#3cb371" fill-opacity="0.42"/>
<circle cx="381.5" cy="269.7" r="1.45" fill="#3cb371" fill-opacity="0.42"/>
<circle cx="381.9" cy="273.0" r="1.45" fill="#3cb371" fill-opacity="0.42"/>
<circle cx="380.5" cy="277.6" r="1.45" fill="#3cb371" fill-opacity="0.42"/>
<circle cx="380.9" cy="282.2" r="1.45" fill="#3cb371" fill-opacity="0.42"/>
<circle cx="380.1" cy="284.1" r="1.45" fill="#3cb371" fill-opacity="0.42"/>
<circle cx="380.5" cy="286.1" r="1.45" fill="#3cb371" fill-opacity="0.42"/>
<circle cx="380.9" cy="288.1" r="1.45" fill="#3cb371" fill-opacity="0.42"/>
<circle cx="381.5" cy="290.7" r="1.45" fill="#3cb371" fill-opacity="0.42"/>
<circle cx="380.5" cy="292.7" r="1.45" fill="#3cb371" fill-opacity="0.42"/>
<circle cx="381.2" cy="295.3" r="1.45" fill="#3cb371" fill-opacity="0.42"/>
<circle cx="380.9" cy="297.9" r="1.45" fill="#3cb371" fill-opacity="0.42"/>
<circle cx="381.2" cy="301.0" r="1.45" fill="#3cb371" fill-opacity="0.42"/>
<circle cx="380.5" cy="303.8" r="1.45" fill="#3cb371" fill-opacity="0.42"/>
<circle cx="380.1" cy="305.8" r="1.45" fill="#3cb371" fill-opacity="0.42"/>
<circle cx="392.4" cy="258.9" r="1.45" fill="#3cb371" fill-opacity="0.42"/>
<circle cx="391.7" cy="263.1" r="1.45" fill="#3cb371" fill-opacity="0.42"/>
<circle cx="391.4" cy="271.2" r="1.45" fill="#3cb371" fill-opacity="0.42"/>
<circle cx="392.4" cy="281.8" r="1.45" fill="#3cb371" fill-opacity="0.42"/>
<circle cx="391.7" cy="283.5" r="1.45" fill="#3cb371" fill-opacity="0.42"/>
<circle cx="391.4" cy="285.4" r="1.45" fill="#3cb371" fill-opacity="0.42"/>
<circle cx="391.1" cy="287.4" r="1.45" fill="#3cb371" fill-opacity="0.42"/>
<circle cx="392.8" cy="291.4" r="1.45" fill="#3cb371" fill-opacity="0.42"/>
<circle cx="392.0" cy="296.0" r="1.45" fill="#3cb371" fill-opacity="0.42"/>
<circle cx="391.7" cy="299.9" r="1.45" fill="#3cb371" fill-opacity="0.42"/>
<circle cx="412.7" cy="276.5" r="1.45" fill="#3cb371" fill-opacity="0.42"/>
<circle cx="412.5" cy="288.1" r="1.45" fill="#3cb371" fill-opacity="0.42"/>
<circle cx="413.8" cy="291.8" r="1.45" fill="#3cb371" fill-opacity="0.42"/>
<circle cx="412.5" cy="296.6" r="1.45" fill="#3cb371" fill-opacity="0.42"/>
<circle cx="422.6" cy="256.3" r="1.45" fill="#3cb371" fill-opacity="0.42"/>
<circle cx="424.3" cy="286.5" r="1.45" fill="#3cb371" fill-opacity="0.42"/>
<circle cx="423.5" cy="296.6" r="1.45" fill="#3cb371" fill-opacity="0.42"/>
<circle cx="423.0" cy="299.9" r="1.45" fill="#3cb371" fill-opacity="0.42"/>
<circle cx="424.3" cy="303.8" r="1.45" fill="#3cb371" fill-opacity="0.42"/>
<circle cx="434.0" cy="258.5" r="1.45" fill="#3cb371" fill-opacity="0.42"/>
<circle cx="433.1" cy="263.1" r="1.45" fill="#3cb371" fill-opacity="0.42"/>
<circle cx="434.8" cy="276.2" r="1.45" fill="#3cb371" fill-opacity="0.42"/>
<circle cx="433.5" cy="280.2" r="1.45" fill="#3cb371" fill-opacity="0.42"/>
<circle cx="433.8" cy="288.1" r="1.45" fill="#3cb371" fill-opacity="0.42"/>
<circle cx="432.7" cy="298.6" r="1.45" fill="#3cb371" fill-opacity="0.42"/>
<circle cx="454.4" cy="201.2" r="1.45" fill="#3cb371" fill-opacity="0.42"/>
<circle cx="467.4" cy="213.1" r="1.45" fill="#3cb371" fill-opacity="0.42"/>
<circle cx="447.4" cy="255.9" r="1.45" fill="#9b1fe8" fill-opacity="0.42"/>
<circle cx="459.0" cy="256.8" r="1.45" fill="#9b1fe8" fill-opacity="0.42"/>
<circle cx="449.1" cy="264.4" r="1.45" fill="#9b1fe8" fill-opacity="0.42"/>
<circle cx="447.8" cy="266.8" r="1.45" fill="#9b1fe8" fill-opacity="0.42"/>
<circle cx="438.2" cy="276.0" r="1.45" fill="#9b1fe8" fill-opacity="0.42"/>
<circle cx="448.2" cy="277.3" r="1.45" fill="#9b1fe8" fill-opacity="0.42"/>
<circle cx="448.7" cy="279.9" r="1.45" fill="#9b1fe8" fill-opacity="0.42"/>
<circle cx="459.0" cy="278.9" r="1.45" fill="#9b1fe8" fill-opacity="0.42"/>
<circle cx="448.5" cy="289.4" r="1.45" fill="#9b1fe8" fill-opacity="0.42"/>
<circle cx="448.7" cy="291.8" r="1.45" fill="#9b1fe8" fill-opacity="0.42"/>
<circle cx="458.3" cy="292.0" r="1.45" fill="#9b1fe8" fill-opacity="0.42"/>
<circle cx="437.3" cy="298.6" r="1.45" fill="#9b1fe8" fill-opacity="0.42"/>
<circle cx="448.5" cy="297.3" r="1.45" fill="#9b1fe8" fill-opacity="0.42"/>
<circle cx="448.5" cy="301.5" r="1.45" fill="#9b1fe8" fill-opacity="0.42"/>
<circle cx="445.2" cy="269.9" r="1.45" fill="#3cb371" fill-opacity="0.42"/>
<circle cx="443.9" cy="278.2" r="1.45" fill="#3cb371" fill-opacity="0.42"/>
<circle cx="444.5" cy="289.4" r="1.45" fill="#3cb371" fill-opacity="0.42"/>
<circle cx="455.3" cy="286.8" r="1.45" fill="#3cb371" fill-opacity="0.42"/>
<circle cx="454.4" cy="291.4" r="1.45" fill="#3cb371" fill-opacity="0.42"/>
<circle cx="444.3" cy="296.0" r="1.45" fill="#3cb371" fill-opacity="0.42"/>
<circle cx="443.9" cy="300.6" r="1.45" fill="#3cb371" fill-opacity="0.42"/>
<circle cx="467.6" cy="288.1" r="1.45" fill="#3cb371" fill-opacity="0.42"/>
<circle cx="478.1" cy="291.4" r="1.45" fill="#3cb371" fill-opacity="0.42"/>
<circle cx="478.5" cy="293.3" r="1.45" fill="#3cb371" fill-opacity="0.42"/>
<circle cx="478.7" cy="296.6" r="1.45" fill="#3cb371" fill-opacity="0.42"/>
<circle cx="489.3" cy="274.7" r="1.45" fill="#3cb371" fill-opacity="0.42"/>
<circle cx="488.6" cy="280.8" r="1.45" fill="#3cb371" fill-opacity="0.42"/>
<circle cx="487.7" cy="287.8" r="1.45" fill="#3cb371" fill-opacity="0.42"/>
<circle cx="489.3" cy="296.2" r="1.45" fill="#3cb371" fill-opacity="0.42"/>
<circle cx="384.1" cy="272.8" r="1.45" fill="#9b1fe8" fill-opacity="0.42"/>
<circle cx="385.9" cy="265.8" r="1.45" fill="#9b1fe8" fill-opacity="0.42"/>
<circle cx="385.0" cy="289.0" r="1.45" fill="#9b1fe8" fill-opacity="0.42"/>
<circle cx="385.7" cy="269.9" r="1.45" fill="#9b1fe8" fill-opacity="0.42"/>
<circle cx="384.5" cy="271.4" r="1.45" fill="#9b1fe8" fill-opacity="0.42"/>
<circle cx="384.8" cy="280.5" r="1.45" fill="#9b1fe8" fill-opacity="0.42"/>
<circle cx="385.9" cy="299.0" r="1.45" fill="#9b1fe8" fill-opacity="0.42"/>
<circle cx="385.7" cy="261.0" r="1.45" fill="#9b1fe8" fill-opacity="0.42"/>
<circle cx="384.1" cy="292.6" r="1.45" fill="#9b1fe8" fill-opacity="0.42"/>
<circle cx="385.8" cy="281.8" r="1.45" fill="#9b1fe8" fill-opacity="0.42"/>
<circle cx="381.2" cy="255.0" r="1.45" fill="#3cb371" fill-opacity="0.42"/>
<circle cx="380.8" cy="302.3" r="1.45" fill="#3cb371" fill-opacity="0.42"/>
<circle cx="381.7" cy="298.6" r="1.45" fill="#3cb371" fill-opacity="0.42"/>
<circle cx="381.9" cy="267.7" r="1.45" fill="#3cb371" fill-opacity="0.42"/>
<circle cx="380.2" cy="262.9" r="1.45" fill="#3cb371" fill-opacity="0.42"/>
<circle cx="381.0" cy="289.8" r="1.45" fill="#3cb371" fill-opacity="0.42"/>
<circle cx="381.9" cy="291.8" r="1.45" fill="#3cb371" fill-opacity="0.42"/>
<circle cx="381.3" cy="294.0" r="1.45" fill="#3cb371" fill-opacity="0.42"/>
</g>
<rect x="372.5" y="184.4" width="125.90" height="127.00" fill="none" stroke="#333333" stroke-width="0.55"/>
<line x1="383.20" y1="311.4" x2="383.20" y2="313.5" stroke="#333333" stroke-width="0.55"/>
<text x="383.20" y="320.20" font-size="6.4" fill="#4d4d4d" stroke="#4d4d4d" stroke-width="0.12" text-anchor="middle">0</text>
<line x1="404.26" y1="311.4" x2="404.26" y2="313.5" stroke="#333333" stroke-width="0.55"/>
<text x="404.26" y="320.20" font-size="6.4" fill="#4d4d4d" stroke="#4d4d4d" stroke-width="0.12" text-anchor="middle">2</text>
<line x1="425.32" y1="311.4" x2="425.32" y2="313.5" stroke="#333333" stroke-width="0.55"/>
<text x="425.32" y="320.20" font-size="6.4" fill="#4d4d4d" stroke="#4d4d4d" stroke-width="0.12" text-anchor="middle">4</text>
<line x1="446.38" y1="311.4" x2="446.38" y2="313.5" stroke="#333333" stroke-width="0.55"/>
<text x="446.38" y="320.20" font-size="6.4" fill="#4d4d4d" stroke="#4d4d4d" stroke-width="0.12" text-anchor="middle">6</text>
<line x1="467.44" y1="311.4" x2="467.44" y2="313.5" stroke="#333333" stroke-width="0.55"/>
<text x="467.44" y="320.20" font-size="6.4" fill="#4d4d4d" stroke="#4d4d4d" stroke-width="0.12" text-anchor="middle">8</text>
<line x1="488.50" y1="311.4" x2="488.50" y2="313.5" stroke="#333333" stroke-width="0.55"/>
<text x="488.50" y="320.20" font-size="6.4" fill="#4d4d4d" stroke="#4d4d4d" stroke-width="0.12" text-anchor="middle">10</text>
<line x1="370.4" y1="306.10" x2="372.5" y2="306.10" stroke="#333333" stroke-width="0.55"/>
<text x="368.40" y="308.60" font-size="6.4" fill="#4d4d4d" stroke="#4d4d4d" stroke-width="0.12" text-anchor="end">0e+00</text>
<line x1="370.4" y1="263.05" x2="372.5" y2="263.05" stroke="#333333" stroke-width="0.55"/>
<text x="368.40" y="265.55" font-size="6.4" fill="#4d4d4d" stroke="#4d4d4d" stroke-width="0.12" text-anchor="end">1e+05</text>
<line x1="370.4" y1="220.00" x2="372.5" y2="220.00" stroke="#333333" stroke-width="0.55"/>
<text x="368.40" y="222.50" font-size="6.4" fill="#4d4d4d" stroke="#4d4d4d" stroke-width="0.12" text-anchor="end">2e+05</text>
<text transform="translate(344.0,247.90) rotate(-90)" font-size="8.25" fill="#000" stroke="#000" stroke-width="0.18" text-anchor="middle">CD4+ RORγt+ (cells/ml blood)</text>
<text x="371.20" y="179.10" font-size="12.5" fill="#000" stroke="#000" stroke-width="0.2">E</text>
<clipPath id="cF"><rect x="538.8" y="184.4" width="128.20" height="127.00"/></clipPath>
<g clip-path="url(#cF)">
<line x1="560.00" y1="184.4" x2="560.00" y2="311.4" stroke="#f0f0f0" stroke-width="0.8"/>
<line x1="581.40" y1="184.4" x2="581.40" y2="311.4" stroke="#f0f0f0" stroke-width="0.8"/>
<line x1="602.80" y1="184.4" x2="602.80" y2="311.4" stroke="#f0f0f0" stroke-width="0.8"/>
<line x1="624.20" y1="184.4" x2="624.20" y2="311.4" stroke="#f0f0f0" stroke-width="0.8"/>
<line x1="645.60" y1="184.4" x2="645.60" y2="311.4" stroke="#f0f0f0" stroke-width="0.8"/>
<line x1="538.8" y1="290.32" x2="667.0" y2="290.32" stroke="#f0f0f0" stroke-width="0.8"/>
<line x1="538.8" y1="259.35" x2="667.0" y2="259.35" stroke="#f0f0f0" stroke-width="0.8"/>
<line x1="538.8" y1="228.38" x2="667.0" y2="228.38" stroke="#f0f0f0" stroke-width="0.8"/>
<line x1="538.8" y1="197.42" x2="667.0" y2="197.42" stroke="#f0f0f0" stroke-width="0.8"/>
<line x1="549.30" y1="184.4" x2="549.30" y2="311.4" stroke="#ededed" stroke-width="1.0"/>
<line x1="570.70" y1="184.4" x2="570.70" y2="311.4" stroke="#ededed" stroke-width="1.0"/>
<line x1="592.10" y1="184.4" x2="592.10" y2="311.4" stroke="#ededed" stroke-width="1.0"/>
<line x1="613.50" y1="184.4" x2="613.50" y2="311.4" stroke="#ededed" stroke-width="1.0"/>
<line x1="634.90" y1="184.4" x2="634.90" y2="311.4" stroke="#ededed" stroke-width="1.0"/>
<line x1="656.30" y1="184.4" x2="656.30" y2="311.4" stroke="#ededed" stroke-width="1.0"/>
<line x1="538.8" y1="305.80" x2="667.0" y2="305.80" stroke="#ededed" stroke-width="1.0"/>
<line x1="538.8" y1="274.83" x2="667.0" y2="274.83" stroke="#ededed" stroke-width="1.0"/>
<line x1="538.8" y1="243.87" x2="667.0" y2="243.87" stroke="#ededed" stroke-width="1.0"/>
<line x1="538.8" y1="212.90" x2="667.0" y2="212.90" stroke="#ededed" stroke-width="1.0"/>
<circle cx="548.5" cy="195.5" r="1.45" fill="#3cb371" fill-opacity="0.42"/>
<circle cx="546.9" cy="205.0" r="1.45" fill="#3cb371" fill-opacity="0.42"/>
<circle cx="546.9" cy="223.8" r="1.45" fill="#3cb371" fill-opacity="0.42"/>
<circle cx="557.8" cy="228.4" r="1.45" fill="#3cb371" fill-opacity="0.42"/>
<circle cx="547.9" cy="234.0" r="1.45" fill="#3cb371" fill-opacity="0.42"/>
<circle cx="559.0" cy="241.6" r="1.45" fill="#3cb371" fill-opacity="0.42"/>
<circle cx="558.4" cy="243.9" r="1.45" fill="#3cb371" fill-opacity="0.42"/>
<circle cx="601.1" cy="238.2" r="1.45" fill="#3cb371" fill-opacity="0.42"/>
<circle cx="558.4" cy="247.1" r="1.45" fill="#3cb371" fill-opacity="0.42"/>
<circle cx="551.4" cy="213.1" r="1.45" fill="#9b1fe8" fill-opacity="0.42"/>
<circle cx="550.7" cy="222.2" r="1.45" fill="#9b1fe8" fill-opacity="0.42"/>
<circle cx="551.8" cy="226.1" r="1.45" fill="#9b1fe8" fill-opacity="0.42"/>
<circle cx="562.2" cy="234.4" r="1.45" fill="#9b1fe8" fill-opacity="0.42"/>
<circle cx="562.9" cy="242.9" r="1.45" fill="#9b1fe8" fill-opacity="0.42"/>
<circle cx="562.0" cy="243.9" r="1.45" fill="#9b1fe8" fill-opacity="0.42"/>
<circle cx="551.8" cy="243.7" r="1.45" fill="#9b1fe8" fill-opacity="0.42"/>
<circle cx="551.8" cy="246.7" r="1.45" fill="#9b1fe8" fill-opacity="0.42"/>
<circle cx="561.9" cy="250.2" r="1.45" fill="#9b1fe8" fill-opacity="0.42"/>
<circle cx="562.3" cy="251.3" r="1.45" fill="#9b1fe8" fill-opacity="0.42"/>
<circle cx="551.1" cy="258.5" r="1.45" fill="#9b1fe8" fill-opacity="0.42"/>
<circle cx="562.3" cy="259.1" r="1.45" fill="#9b1fe8" fill-opacity="0.42"/>
<circle cx="551.1" cy="263.1" r="1.45" fill="#9b1fe8" fill-opacity="0.42"/>
<circle cx="562.7" cy="264.1" r="1.45" fill="#9b1fe8" fill-opacity="0.42"/>
<circle cx="551.1" cy="266.4" r="1.45" fill="#9b1fe8" fill-opacity="0.42"/>
<circle cx="550.5" cy="269.7" r="1.45" fill="#9b1fe8" fill-opacity="0.42"/>
<circle cx="551.8" cy="272.3" r="1.45" fill="#9b1fe8" fill-opacity="0.42"/>
<circle cx="551.1" cy="275.2" r="1.45" fill="#9b1fe8" fill-opacity="0.42"/>
<circle cx="562.7" cy="276.0" r="1.45" fill="#9b1fe8" fill-opacity="0.42"/>
<circle cx="551.1" cy="280.2" r="1.45" fill="#9b1fe8" fill-opacity="0.42"/>
<circle cx="552.2" cy="280.8" r="1.45" fill="#9b1fe8" fill-opacity="0.42"/>
<circle cx="561.9" cy="280.4" r="1.45" fill="#9b1fe8" fill-opacity="0.42"/>
<circle cx="552.2" cy="284.1" r="1.45" fill="#9b1fe8" fill-opacity="0.42"/>
<circle cx="561.9" cy="284.8" r="1.45" fill="#9b1fe8" fill-opacity="0.42"/>
<circle cx="562.3" cy="286.8" r="1.45" fill="#9b1fe8" fill-opacity="0.42"/>
<circle cx="561.4" cy="290.0" r="1.45" fill="#9b1fe8" fill-opacity="0.42"/>
<circle cx="550.5" cy="288.7" r="1.45" fill="#9b1fe8" fill-opacity="0.42"/>
<circle cx="550.5" cy="295.3" r="1.45" fill="#9b1fe8" fill-opacity="0.42"/>
<circle cx="562.3" cy="297.3" r="1.45" fill="#9b1fe8" fill-opacity="0.42"/>
<circle cx="551.8" cy="303.2" r="1.45" fill="#9b1fe8" fill-opacity="0.42"/>
<circle cx="551.1" cy="305.8" r="1.45" fill="#9b1fe8" fill-opacity="0.42"/>
<circle cx="562.3" cy="304.9" r="1.45" fill="#9b1fe8" fill-opacity="0.42"/>
<circle cx="571.9" cy="296.0" r="1.45" fill="#9b1fe8" fill-opacity="0.42"/>
<circle cx="582.9" cy="269.9" r="1.45" fill="#9b1fe8" fill-opacity="0.42"/>
<circle cx="582.9" cy="281.8" r="1.45" fill="#9b1fe8" fill-opacity="0.42"/>
<circle cx="582.9" cy="286.8" r="1.45" fill="#9b1fe8" fill-opacity="0.42"/>
<circle cx="584.0" cy="296.2" r="1.45" fill="#9b1fe8" fill-opacity="0.42"/>
<circle cx="584.0" cy="300.6" r="1.45" fill="#9b1fe8" fill-opacity="0.42"/>
<circle cx="583.3" cy="305.8" r="1.45" fill="#9b1fe8" fill-opacity="0.42"/>
<circle cx="594.2" cy="264.4" r="1.45" fill="#9b1fe8" fill-opacity="0.42"/>
<circle cx="594.2" cy="287.8" r="1.45" fill="#9b1fe8" fill-opacity="0.42"/>
<circle cx="547.5" cy="249.9" r="1.45" fill="#3cb371" fill-opacity="0.42"/>
<circle cx="547.9" cy="251.9" r="1.45" fill="#3cb371" fill-opacity="0.42"/>
<circle cx="548.5" cy="253.2" r="1.45" fill="#3cb371" fill-opacity="0.42"/>
<circle cx="559.0" cy="253.2" r="1.45" fill="#3cb371" fill-opacity="0.42"/>
<circle cx="557.4" cy="259.8" r="1.45" fill="#3cb371" fill-opacity="0.42"/>
<circle cx="547.5" cy="261.5" r="1.45" fill="#3cb371" fill-opacity="0.42"/>
<circle cx="546.9" cy="264.4" r="1.45" fill="#3cb371" fill-opacity="0.42"/>
<circle cx="547.2" cy="267.0" r="1.45" fill="#3cb371" fill-opacity="0.42"/>
<circle cx="546.5" cy="269.0" r="1.45" fill="#3cb371" fill-opacity="0.42"/>
<circle cx="548.3" cy="271.6" r="1.45" fill="#3cb371" fill-opacity="0.42"/>
<circle cx="557.7" cy="273.3" r="1.45" fill="#3cb371" fill-opacity="0.42"/>
<circle cx="558.4" cy="277.6" r="1.45" fill="#3cb371" fill-opacity="0.42"/>
<circle cx="548.8" cy="278.9" r="1.45" fill="#3cb371" fill-opacity="0.42"/>
<circle cx="548.3" cy="280.8" r="1.45" fill="#3cb371" fill-opacity="0.42"/>
<circle cx="557.4" cy="281.5" r="1.45" fill="#3cb371" fill-opacity="0.42"/>
<circle cx="547.2" cy="285.4" r="1.45" fill="#3cb371" fill-opacity="0.42"/>
<circle cx="557.7" cy="289.4" r="1.45" fill="#3cb371" fill-opacity="0.42"/>
<circle cx="547.5" cy="295.3" r="1.45" fill="#3cb371" fill-opacity="0.42"/>
<circle cx="557.7" cy="294.0" r="1.45" fill="#3cb371" fill-opacity="0.42"/>
<circle cx="546.9" cy="299.9" r="1.45" fill="#3cb371" fill-opacity="0.42"/>
<circle cx="547.5" cy="305.2" r="1.45" fill="#3cb371" fill-opacity="0.42"/>
<circle cx="580.1" cy="276.5" r="1.45" fill="#3cb371" fill-opacity="0.42"/>
<circle cx="580.7" cy="277.6" r="1.45" fill="#3cb371" fill-opacity="0.42"/>
<circle cx="579.8" cy="284.1" r="1.45" fill="#3cb371" fill-opacity="0.42"/>
<circle cx="578.5" cy="296.0" r="1.45" fill="#3cb371" fill-opacity="0.42"/>
<circle cx="579.0" cy="297.5" r="1.45" fill="#3cb371" fill-opacity="0.42"/>
<circle cx="590.8" cy="268.4" r="1.45" fill="#3cb371" fill-opacity="0.42"/>
<circle cx="589.9" cy="277.3" r="1.45" fill="#3cb371" fill-opacity="0.42"/>
<circle cx="590.6" cy="285.2" r="1.45" fill="#3cb371" fill-opacity="0.42"/>
<circle cx="590.6" cy="298.6" r="1.45" fill="#3cb371" fill-opacity="0.42"/>
<circle cx="589.9" cy="299.9" r="1.45" fill="#3cb371" fill-opacity="0.42"/>
<circle cx="590.3" cy="302.8" r="1.45" fill="#3cb371" fill-opacity="0.42"/>
<circle cx="580.3" cy="305.8" r="1.45" fill="#3cb371" fill-opacity="0.42"/>
<circle cx="600.4" cy="254.2" r="1.45" fill="#3cb371" fill-opacity="0.42"/>
<circle cx="600.0" cy="258.1" r="1.45" fill="#3cb371" fill-opacity="0.42"/>
<circle cx="600.0" cy="276.0" r="1.45" fill="#3cb371" fill-opacity="0.42"/>
<circle cx="600.0" cy="284.8" r="1.45" fill="#3cb371" fill-opacity="0.42"/>
<circle cx="600.8" cy="293.3" r="1.45" fill="#3cb371" fill-opacity="0.42"/>
<circle cx="601.3" cy="305.2" r="1.45" fill="#3cb371" fill-opacity="0.42"/>
<circle cx="621.9" cy="190.4" r="1.45" fill="#3cb371" fill-opacity="0.42"/>
<circle cx="636.3" cy="236.0" r="1.45" fill="#3cb371" fill-opacity="0.42"/>
<circle cx="604.8" cy="227.6" r="1.45" fill="#9b1fe8" fill-opacity="0.42"/>
<circle cx="616.6" cy="231.4" r="1.45" fill="#9b1fe8" fill-opacity="0.42"/>
<circle cx="615.5" cy="252.8" r="1.45" fill="#9b1fe8" fill-opacity="0.42"/>
<circle cx="616.4" cy="255.9" r="1.45" fill="#9b1fe8" fill-opacity="0.42"/>
<circle cx="626.9" cy="251.9" r="1.45" fill="#9b1fe8" fill-opacity="0.42"/>
<circle cx="614.7" cy="271.6" r="1.45" fill="#9b1fe8" fill-opacity="0.42"/>
<circle cx="615.1" cy="276.0" r="1.45" fill="#9b1fe8" fill-opacity="0.42"/>
<circle cx="626.9" cy="274.3" r="1.45" fill="#9b1fe8" fill-opacity="0.42"/>
<circle cx="615.5" cy="282.5" r="1.45" fill="#9b1fe8" fill-opacity="0.42"/>
<circle cx="616.4" cy="285.4" r="1.45" fill="#9b1fe8" fill-opacity="0.42"/>
<circle cx="605.0" cy="290.4" r="1.45" fill="#9b1fe8" fill-opacity="0.42"/>
<circle cx="605.5" cy="294.4" r="1.45" fill="#9b1fe8" fill-opacity="0.42"/>
<circle cx="625.6" cy="291.8" r="1.45" fill="#9b1fe8" fill-opacity="0.42"/>
<circle cx="616.4" cy="298.9" r="1.45" fill="#9b1fe8" fill-opacity="0.42"/>
<circle cx="611.2" cy="255.5" r="1.45" fill="#3cb371" fill-opacity="0.42"/>
<circle cx="622.6" cy="250.6" r="1.45" fill="#3cb371" fill-opacity="0.42"/>
<circle cx="622.3" cy="265.7" r="1.45" fill="#3cb371" fill-opacity="0.42"/>
<circle cx="601.1" cy="275.6" r="1.45" fill="#3cb371" fill-opacity="0.42"/>
<circle cx="611.8" cy="274.3" r="1.45" fill="#3cb371" fill-opacity="0.42"/>
<circle cx="612.1" cy="277.6" r="1.45" fill="#3cb371" fill-opacity="0.42"/>
<circle cx="611.8" cy="280.2" r="1.45" fill="#3cb371" fill-opacity="0.42"/>
<circle cx="612.5" cy="282.2" r="1.45" fill="#3cb371" fill-opacity="0.42"/>
<circle cx="601.1" cy="284.4" r="1.45" fill="#3cb371" fill-opacity="0.42"/>
<circle cx="611.2" cy="288.1" r="1.45" fill="#3cb371" fill-opacity="0.42"/>
<circle cx="612.9" cy="295.7" r="1.45" fill="#3cb371" fill-opacity="0.42"/>
<circle cx="622.1" cy="297.9" r="1.45" fill="#3cb371" fill-opacity="0.42"/>
<circle cx="635.7" cy="287.0" r="1.45" fill="#3cb371" fill-opacity="0.42"/>
<circle cx="645.3" cy="268.1" r="1.45" fill="#3cb371" fill-opacity="0.42"/>
<circle cx="645.3" cy="273.3" r="1.45" fill="#3cb371" fill-opacity="0.42"/>
<circle cx="645.3" cy="284.8" r="1.45" fill="#3cb371" fill-opacity="0.42"/>
<circle cx="645.7" cy="291.4" r="1.45" fill="#3cb371" fill-opacity="0.42"/>
<circle cx="646.0" cy="297.0" r="1.45" fill="#3cb371" fill-opacity="0.42"/>
<circle cx="656.5" cy="249.9" r="1.45" fill="#3cb371" fill-opacity="0.42"/>
<circle cx="655.8" cy="264.7" r="1.45" fill="#3cb371" fill-opacity="0.42"/>
<circle cx="656.2" cy="295.7" r="1.45" fill="#3cb371" fill-opacity="0.42"/>
<circle cx="656.8" cy="302.5" r="1.45" fill="#3cb371" fill-opacity="0.42"/>
<circle cx="601.6" cy="303.8" r="1.45" fill="#3cb371" fill-opacity="0.42"/>
<circle cx="551.6" cy="271.9" r="1.45" fill="#9b1fe8" fill-opacity="0.42"/>
<circle cx="550.5" cy="265.2" r="1.45" fill="#9b1fe8" fill-opacity="0.42"/>
<circle cx="551.7" cy="276.2" r="1.45" fill="#9b1fe8" fill-opacity="0.42"/>
<circle cx="550.6" cy="305.1" r="1.45" fill="#9b1fe8" fill-opacity="0.42"/>
<circle cx="552.1" cy="304.3" r="1.45" fill="#9b1fe8" fill-opacity="0.42"/>
<circle cx="550.7" cy="261.2" r="1.45" fill="#9b1fe8" fill-opacity="0.42"/>
<circle cx="550.6" cy="292.5" r="1.45" fill="#9b1fe8" fill-opacity="0.42"/>
<circle cx="551.0" cy="252.9" r="1.45" fill="#9b1fe8" fill-opacity="0.42"/>
<circle cx="551.3" cy="300.6" r="1.45" fill="#9b1fe8" fill-opacity="0.42"/>
<circle cx="547.6" cy="260.8" r="1.45" fill="#3cb371" fill-opacity="0.42"/>
<circle cx="546.3" cy="301.1" r="1.45" fill="#3cb371" fill-opacity="0.42"/>
<circle cx="547.1" cy="287.7" r="1.45" fill="#3cb371" fill-opacity="0.42"/>
<circle cx="546.2" cy="248.5" r="1.45" fill="#3cb371" fill-opacity="0.42"/>
<circle cx="547.4" cy="270.9" r="1.45" fill="#3cb371" fill-opacity="0.42"/>
<circle cx="546.1" cy="302.2" r="1.45" fill="#3cb371" fill-opacity="0.42"/>
<circle cx="547.3" cy="293.9" r="1.45" fill="#3cb371" fill-opacity="0.42"/>
</g>
<rect x="538.8" y="184.4" width="128.20" height="127.00" fill="none" stroke="#333333" stroke-width="0.55"/>
<line x1="549.30" y1="311.4" x2="549.30" y2="313.5" stroke="#333333" stroke-width="0.55"/>
<text x="549.30" y="320.20" font-size="6.4" fill="#4d4d4d" stroke="#4d4d4d" stroke-width="0.12" text-anchor="middle">0</text>
<line x1="570.70" y1="311.4" x2="570.70" y2="313.5" stroke="#333333" stroke-width="0.55"/>
<text x="570.70" y="320.20" font-size="6.4" fill="#4d4d4d" stroke="#4d4d4d" stroke-width="0.12" text-anchor="middle">2</text>
<line x1="592.10" y1="311.4" x2="592.10" y2="313.5" stroke="#333333" stroke-width="0.55"/>
<text x="592.10" y="320.20" font-size="6.4" fill="#4d4d4d" stroke="#4d4d4d" stroke-width="0.12" text-anchor="middle">4</text>
<line x1="613.50" y1="311.4" x2="613.50" y2="313.5" stroke="#333333" stroke-width="0.55"/>
<text x="613.50" y="320.20" font-size="6.4" fill="#4d4d4d" stroke="#4d4d4d" stroke-width="0.12" text-anchor="middle">6</text>
<line x1="634.90" y1="311.4" x2="634.90" y2="313.5" stroke="#333333" stroke-width="0.55"/>
<text x="634.90" y="320.20" font-size="6.4" fill="#4d4d4d" stroke="#4d4d4d" stroke-width="0.12" text-anchor="middle">8</text>
<line x1="656.30" y1="311.4" x2="656.30" y2="313.5" stroke="#333333" stroke-width="0.55"/>
<text x="656.30" y="320.20" font-size="6.4" fill="#4d4d4d" stroke="#4d4d4d" stroke-width="0.12" text-anchor="middle">10</text>
<line x1="536.6999999999999" y1="305.80" x2="538.8" y2="305.80" stroke="#333333" stroke-width="0.55"/>
<text x="534.70" y="308.30" font-size="6.4" fill="#4d4d4d" stroke="#4d4d4d" stroke-width="0.12" text-anchor="end">0</text>
<line x1="536.6999999999999" y1="274.83" x2="538.8" y2="274.83" stroke="#333333" stroke-width="0.55"/>
<text x="534.70" y="277.33" font-size="6.4" fill="#4d4d4d" stroke="#4d4d4d" stroke-width="0.12" text-anchor="end">30000</text>
<line x1="536.6999999999999" y1="243.87" x2="538.8" y2="243.87" stroke="#333333" stroke-width="0.55"/>
<text x="534.70" y="246.37" font-size="6.4" fill="#4d4d4d" stroke="#4d4d4d" stroke-width="0.12" text-anchor="end">60000</text>
<line x1="536.6999999999999" y1="212.90" x2="538.8" y2="212.90" stroke="#333333" stroke-width="0.55"/>
<text x="534.70" y="215.40" font-size="6.4" fill="#4d4d4d" stroke="#4d4d4d" stroke-width="0.12" text-anchor="end">90000</text>
<text transform="translate(513.5,247.90) rotate(-90)" font-size="8.25" fill="#000" stroke="#000" stroke-width="0.18" text-anchor="middle">CD4+ FoxP3+ (cells/ml blood)</text>
<text x="537.50" y="179.10" font-size="12.5" fill="#000" stroke="#000" stroke-width="0.2">F</text>
<clipPath id="cG"><rect x="35.5" y="353.6" width="126.90" height="126.20"/></clipPath>
<g clip-path="url(#cG)">
<line x1="56.91" y1="353.6" x2="56.91" y2="479.8" stroke="#f0f0f0" stroke-width="0.8"/>
<line x1="77.93" y1="353.6" x2="77.93" y2="479.8" stroke="#f0f0f0" stroke-width="0.8"/>
<line x1="98.95" y1="353.6" x2="98.95" y2="479.8" stroke="#f0f0f0" stroke-width="0.8"/>
<line x1="119.97" y1="353.6" x2="119.97" y2="479.8" stroke="#f0f0f0" stroke-width="0.8"/>
<line x1="140.99" y1="353.6" x2="140.99" y2="479.8" stroke="#f0f0f0" stroke-width="0.8"/>
<line x1="35.5" y1="460.71" x2="162.4" y2="460.71" stroke="#f0f0f0" stroke-width="0.8"/>
<line x1="35.5" y1="433.14" x2="162.4" y2="433.14" stroke="#f0f0f0" stroke-width="0.8"/>
<line x1="35.5" y1="405.56" x2="162.4" y2="405.56" stroke="#f0f0f0" stroke-width="0.8"/>
<line x1="35.5" y1="377.99" x2="162.4" y2="377.99" stroke="#f0f0f0" stroke-width="0.8"/>
<line x1="46.40" y1="353.6" x2="46.40" y2="479.8" stroke="#ededed" stroke-width="1.0"/>
<line x1="67.42" y1="353.6" x2="67.42" y2="479.8" stroke="#ededed" stroke-width="1.0"/>
<line x1="88.44" y1="353.6" x2="88.44" y2="479.8" stroke="#ededed" stroke-width="1.0"/>
<line x1="109.46" y1="353.6" x2="109.46" y2="479.8" stroke="#ededed" stroke-width="1.0"/>
<line x1="130.48" y1="353.6" x2="130.48" y2="479.8" stroke="#ededed" stroke-width="1.0"/>
<line x1="151.50" y1="353.6" x2="151.50" y2="479.8" stroke="#ededed" stroke-width="1.0"/>
<line x1="35.5" y1="474.50" x2="162.4" y2="474.50" stroke="#ededed" stroke-width="1.0"/>
<line x1="35.5" y1="446.93" x2="162.4" y2="446.93" stroke="#ededed" stroke-width="1.0"/>
<line x1="35.5" y1="419.35" x2="162.4" y2="419.35" stroke="#ededed" stroke-width="1.0"/>
<line x1="35.5" y1="391.77" x2="162.4" y2="391.77" stroke="#ededed" stroke-width="1.0"/>
<line x1="35.5" y1="364.20" x2="162.4" y2="364.20" stroke="#ededed" stroke-width="1.0"/>
<circle cx="79.0" cy="372.8" r="1.45" fill="#9b1fe8" fill-opacity="0.42"/>
<circle cx="67.5" cy="393.8" r="1.45" fill="#9b1fe8" fill-opacity="0.42"/>
<circle cx="59.5" cy="400.2" r="1.45" fill="#9b1fe8" fill-opacity="0.42"/>
<circle cx="58.6" cy="402.7" r="1.45" fill="#9b1fe8" fill-opacity="0.42"/>
<circle cx="91.4" cy="391.5" r="1.45" fill="#9b1fe8" fill-opacity="0.42"/>
<circle cx="79.4" cy="410.1" r="1.45" fill="#9b1fe8" fill-opacity="0.42"/>
<circle cx="80.3" cy="412.7" r="1.45" fill="#9b1fe8" fill-opacity="0.42"/>
<circle cx="80.6" cy="413.9" r="1.45" fill="#9b1fe8" fill-opacity="0.42"/>
<circle cx="59.2" cy="415.5" r="1.45" fill="#9b1fe8" fill-opacity="0.42"/>
<circle cx="97.5" cy="370.2" r="1.45" fill="#3cb371" fill-opacity="0.42"/>
<circle cx="54.8" cy="385.9" r="1.45" fill="#3cb371" fill-opacity="0.42"/>
<circle cx="86.0" cy="387.2" r="1.45" fill="#3cb371" fill-opacity="0.42"/>
<circle cx="97.5" cy="384.9" r="1.45" fill="#3cb371" fill-opacity="0.42"/>
<circle cx="43.9" cy="409.1" r="1.45" fill="#3cb371" fill-opacity="0.42"/>
<circle cx="86.6" cy="404.0" r="1.45" fill="#3cb371" fill-opacity="0.42"/>
<circle cx="95.9" cy="405.5" r="1.45" fill="#3cb371" fill-opacity="0.42"/>
<circle cx="55.4" cy="411.6" r="1.45" fill="#3cb371" fill-opacity="0.42"/>
<circle cx="55.4" cy="412.9" r="1.45" fill="#3cb371" fill-opacity="0.42"/>
<circle cx="55.7" cy="414.2" r="1.45" fill="#3cb371" fill-opacity="0.42"/>
<circle cx="97.5" cy="412.3" r="1.45" fill="#3cb371" fill-opacity="0.42"/>
<circle cx="48.1" cy="420.3" r="1.45" fill="#9b1fe8" fill-opacity="0.42"/>
<circle cx="58.9" cy="427.1" r="1.45" fill="#9b1fe8" fill-opacity="0.42"/>
<circle cx="48.8" cy="430.8" r="1.45" fill="#9b1fe8" fill-opacity="0.42"/>
<circle cx="47.9" cy="435.4" r="1.45" fill="#9b1fe8" fill-opacity="0.42"/>
<circle cx="48.1" cy="437.4" r="1.45" fill="#9b1fe8" fill-opacity="0.42"/>
<circle cx="58.0" cy="435.4" r="1.45" fill="#9b1fe8" fill-opacity="0.42"/>
<circle cx="58.7" cy="437.4" r="1.45" fill="#9b1fe8" fill-opacity="0.42"/>
<circle cx="47.1" cy="442.6" r="1.45" fill="#9b1fe8" fill-opacity="0.42"/>
<circle cx="47.9" cy="444.6" r="1.45" fill="#9b1fe8" fill-opacity="0.42"/>
<circle cx="48.4" cy="446.6" r="1.45" fill="#9b1fe8" fill-opacity="0.42"/>
<circle cx="59.3" cy="445.2" r="1.45" fill="#9b1fe8" fill-opacity="0.42"/>
<circle cx="58.7" cy="443.9" r="1.45" fill="#9b1fe8" fill-opacity="0.42"/>
<circle cx="58.4" cy="451.2" r="1.45" fill="#9b1fe8" fill-opacity="0.42"/>
<circle cx="48.1" cy="456.8" r="1.45" fill="#9b1fe8" fill-opacity="0.42"/>
<circle cx="47.9" cy="459.7" r="1.45" fill="#9b1fe8" fill-opacity="0.42"/>
<circle cx="59.3" cy="458.4" r="1.45" fill="#9b1fe8" fill-opacity="0.42"/>
<circle cx="59.7" cy="460.4" r="1.45" fill="#9b1fe8" fill-opacity="0.42"/>
<circle cx="47.5" cy="464.3" r="1.45" fill="#9b1fe8" fill-opacity="0.42"/>
<circle cx="48.1" cy="466.3" r="1.45" fill="#9b1fe8" fill-opacity="0.42"/>
<circle cx="47.9" cy="468.9" r="1.45" fill="#9b1fe8" fill-opacity="0.42"/>
<circle cx="58.7" cy="467.6" r="1.45" fill="#9b1fe8" fill-opacity="0.42"/>
<circle cx="49.2" cy="472.8" r="1.45" fill="#9b1fe8" fill-opacity="0.42"/>
<circle cx="58.0" cy="474.2" r="1.45" fill="#9b1fe8" fill-opacity="0.42"/>
<circle cx="80.3" cy="420.5" r="1.45" fill="#9b1fe8" fill-opacity="0.42"/>
<circle cx="80.3" cy="441.3" r="1.45" fill="#9b1fe8" fill-opacity="0.42"/>
<circle cx="80.3" cy="453.1" r="1.45" fill="#9b1fe8" fill-opacity="0.42"/>
<circle cx="80.3" cy="454.4" r="1.45" fill="#9b1fe8" fill-opacity="0.42"/>
<circle cx="89.5" cy="431.0" r="1.45" fill="#9b1fe8" fill-opacity="0.42"/>
<circle cx="89.5" cy="459.7" r="1.45" fill="#9b1fe8" fill-opacity="0.42"/>
<circle cx="54.7" cy="420.3" r="1.45" fill="#3cb371" fill-opacity="0.42"/>
<circle cx="54.7" cy="425.3" r="1.45" fill="#3cb371" fill-opacity="0.42"/>
<circle cx="44.5" cy="430.5" r="1.45" fill="#3cb371" fill-opacity="0.42"/>
<circle cx="44.2" cy="434.7" r="1.45" fill="#3cb371" fill-opacity="0.42"/>
<circle cx="54.4" cy="433.4" r="1.45" fill="#3cb371" fill-opacity="0.42"/>
<circle cx="43.5" cy="438.7" r="1.45" fill="#3cb371" fill-opacity="0.42"/>
<circle cx="44.5" cy="442.0" r="1.45" fill="#3cb371" fill-opacity="0.42"/>
<circle cx="54.7" cy="442.3" r="1.45" fill="#3cb371" fill-opacity="0.42"/>
<circle cx="43.9" cy="449.2" r="1.45" fill="#3cb371" fill-opacity="0.42"/>
<circle cx="44.5" cy="450.5" r="1.45" fill="#3cb371" fill-opacity="0.42"/>
<circle cx="44.2" cy="452.5" r="1.45" fill="#3cb371" fill-opacity="0.42"/>
<circle cx="44.9" cy="455.1" r="1.45" fill="#3cb371" fill-opacity="0.42"/>
<circle cx="44.5" cy="459.4" r="1.45" fill="#3cb371" fill-opacity="0.42"/>
<circle cx="54.4" cy="453.1" r="1.45" fill="#3cb371" fill-opacity="0.42"/>
<circle cx="55.4" cy="457.1" r="1.45" fill="#3cb371" fill-opacity="0.42"/>
<circle cx="54.7" cy="461.0" r="1.45" fill="#3cb371" fill-opacity="0.42"/>
<circle cx="55.4" cy="463.0" r="1.45" fill="#3cb371" fill-opacity="0.42"/>
<circle cx="43.9" cy="464.3" r="1.45" fill="#3cb371" fill-opacity="0.42"/>
<circle cx="44.5" cy="466.9" r="1.45" fill="#3cb371" fill-opacity="0.42"/>
<circle cx="44.2" cy="469.6" r="1.45" fill="#3cb371" fill-opacity="0.42"/>
<circle cx="75.7" cy="431.4" r="1.45" fill="#3cb371" fill-opacity="0.42"/>
<circle cx="76.0" cy="435.4" r="1.45" fill="#3cb371" fill-opacity="0.42"/>
<circle cx="76.4" cy="438.7" r="1.45" fill="#3cb371" fill-opacity="0.42"/>
<circle cx="75.1" cy="449.8" r="1.45" fill="#3cb371" fill-opacity="0.42"/>
<circle cx="86.3" cy="433.4" r="1.45" fill="#3cb371" fill-opacity="0.42"/>
<circle cx="86.5" cy="438.9" r="1.45" fill="#3cb371" fill-opacity="0.42"/>
<circle cx="86.5" cy="443.3" r="1.45" fill="#3cb371" fill-opacity="0.42"/>
<circle cx="86.3" cy="454.2" r="1.45" fill="#3cb371" fill-opacity="0.42"/>
<circle cx="96.8" cy="450.5" r="1.45" fill="#3cb371" fill-opacity="0.42"/>
<circle cx="97.8" cy="424.9" r="1.45" fill="#3cb371" fill-opacity="0.42"/>
<circle cx="101.5" cy="370.6" r="1.45" fill="#9b1fe8" fill-opacity="0.42"/>
<circle cx="122.7" cy="358.7" r="1.45" fill="#9b1fe8" fill-opacity="0.42"/>
<circle cx="122.5" cy="375.7" r="1.45" fill="#9b1fe8" fill-opacity="0.42"/>
<circle cx="121.8" cy="378.2" r="1.45" fill="#9b1fe8" fill-opacity="0.42"/>
<circle cx="112.3" cy="386.1" r="1.45" fill="#9b1fe8" fill-opacity="0.42"/>
<circle cx="111.3" cy="387.4" r="1.45" fill="#9b1fe8" fill-opacity="0.42"/>
<circle cx="110.8" cy="389.3" r="1.45" fill="#9b1fe8" fill-opacity="0.42"/>
<circle cx="106.9" cy="376.6" r="1.45" fill="#3cb371" fill-opacity="0.42"/>
<circle cx="107.8" cy="383.6" r="1.45" fill="#3cb371" fill-opacity="0.42"/>
<circle cx="106.6" cy="389.3" r="1.45" fill="#3cb371" fill-opacity="0.42"/>
<circle cx="130.4" cy="384.9" r="1.45" fill="#3cb371" fill-opacity="0.42"/>
<circle cx="141.6" cy="383.0" r="1.45" fill="#3cb371" fill-opacity="0.42"/>
<circle cx="118.7" cy="397.0" r="1.45" fill="#3cb371" fill-opacity="0.42"/>
<circle cx="152.4" cy="370.8" r="1.45" fill="#3cb371" fill-opacity="0.42"/>
<circle cx="152.8" cy="374.4" r="1.45" fill="#3cb371" fill-opacity="0.42"/>
<circle cx="110.4" cy="400.7" r="1.45" fill="#9b1fe8" fill-opacity="0.42"/>
<circle cx="112.5" cy="414.5" r="1.45" fill="#9b1fe8" fill-opacity="0.42"/>
<circle cx="101.0" cy="417.7" r="1.45" fill="#9b1fe8" fill-opacity="0.42"/>
<circle cx="99.9" cy="423.4" r="1.45" fill="#9b1fe8" fill-opacity="0.42"/>
<circle cx="111.4" cy="423.1" r="1.45" fill="#9b1fe8" fill-opacity="0.42"/>
<circle cx="152.8" cy="396.5" r="1.45" fill="#3cb371" fill-opacity="0.42"/>
<circle cx="142.3" cy="399.4" r="1.45" fill="#3cb371" fill-opacity="0.42"/>
<circle cx="142.3" cy="405.6" r="1.45" fill="#3cb371" fill-opacity="0.42"/>
<circle cx="107.3" cy="410.9" r="1.45" fill="#3cb371" fill-opacity="0.42"/>
<circle cx="118.3" cy="415.0" r="1.45" fill="#3cb371" fill-opacity="0.42"/>
<circle cx="118.3" cy="418.2" r="1.45" fill="#3cb371" fill-opacity="0.42"/>
<circle cx="142.3" cy="418.7" r="1.45" fill="#3cb371" fill-opacity="0.42"/>
<circle cx="152.8" cy="413.5" r="1.45" fill="#3cb371" fill-opacity="0.42"/>
<circle cx="97.8" cy="420.3" r="1.45" fill="#3cb371" fill-opacity="0.42"/>
<circle cx="108.3" cy="421.8" r="1.45" fill="#3cb371" fill-opacity="0.42"/>
<circle cx="107.3" cy="426.0" r="1.45" fill="#3cb371" fill-opacity="0.42"/>
<circle cx="118.3" cy="425.0" r="1.45" fill="#3cb371" fill-opacity="0.42"/>
<circle cx="130.8" cy="423.4" r="1.45" fill="#3cb371" fill-opacity="0.42"/>
<circle cx="140.2" cy="424.5" r="1.45" fill="#3cb371" fill-opacity="0.42"/>
<circle cx="141.8" cy="428.6" r="1.45" fill="#3cb371" fill-opacity="0.42"/>
<circle cx="111.7" cy="435.0" r="1.45" fill="#9b1fe8" fill-opacity="0.42"/>
<circle cx="112.5" cy="450.8" r="1.45" fill="#9b1fe8" fill-opacity="0.42"/>
<circle cx="110.4" cy="462.3" r="1.45" fill="#9b1fe8" fill-opacity="0.42"/>
<circle cx="112.5" cy="466.3" r="1.45" fill="#9b1fe8" fill-opacity="0.42"/>
<circle cx="106.9" cy="434.5" r="1.45" fill="#3cb371" fill-opacity="0.42"/>
<circle cx="106.9" cy="438.9" r="1.45" fill="#3cb371" fill-opacity="0.42"/>
<circle cx="119.1" cy="441.3" r="1.45" fill="#3cb371" fill-opacity="0.42"/>
<circle cx="150.6" cy="432.1" r="1.45" fill="#3cb371" fill-opacity="0.42"/>
<circle cx="44.7" cy="465.7" r="1.45" fill="#3cb371" fill-opacity="0.42"/>
<circle cx="44.6" cy="465.9" r="1.45" fill="#3cb371" fill-opacity="0.42"/>
<circle cx="45.4" cy="450.2" r="1.45" fill="#3cb371" fill-opacity="0.42"/>
<circle cx="45.6" cy="467.8" r="1.45" fill="#3cb371" fill-opacity="0.42"/>
<circle cx="45.0" cy="443.9" r="1.45" fill="#3cb371" fill-opacity="0.42"/>
<circle cx="45.6" cy="447.2" r="1.45" fill="#3cb371" fill-opacity="0.42"/>
<circle cx="44.7" cy="444.8" r="1.45" fill="#3cb371" fill-opacity="0.42"/>
<circle cx="44.6" cy="446.1" r="1.45" fill="#3cb371" fill-opacity="0.42"/>
<circle cx="45.1" cy="449.2" r="1.45" fill="#3cb371" fill-opacity="0.42"/>
<circle cx="46.0" cy="448.7" r="1.45" fill="#3cb371" fill-opacity="0.42"/>
<circle cx="45.5" cy="445.3" r="1.45" fill="#3cb371" fill-opacity="0.42"/>
<circle cx="45.2" cy="440.5" r="1.45" fill="#3cb371" fill-opacity="0.42"/>
<circle cx="48.3" cy="430.6" r="1.45" fill="#9b1fe8" fill-opacity="0.42"/>
<circle cx="49.3" cy="452.0" r="1.45" fill="#9b1fe8" fill-opacity="0.42"/>
<circle cx="48.2" cy="449.0" r="1.45" fill="#9b1fe8" fill-opacity="0.42"/>
<circle cx="49.7" cy="434.3" r="1.45" fill="#9b1fe8" fill-opacity="0.42"/>
<circle cx="49.4" cy="447.3" r="1.45" fill="#9b1fe8" fill-opacity="0.42"/>
<circle cx="48.8" cy="463.4" r="1.45" fill="#9b1fe8" fill-opacity="0.42"/>
<circle cx="48.6" cy="450.3" r="1.45" fill="#9b1fe8" fill-opacity="0.42"/>
<circle cx="49.2" cy="469.3" r="1.45" fill="#9b1fe8" fill-opacity="0.42"/>
<circle cx="48.5" cy="463.3" r="1.45" fill="#9b1fe8" fill-opacity="0.42"/>
<circle cx="49.2" cy="455.4" r="1.45" fill="#9b1fe8" fill-opacity="0.42"/>
<circle cx="48.6" cy="443.9" r="1.45" fill="#9b1fe8" fill-opacity="0.42"/>
<circle cx="47.9" cy="435.2" r="1.45" fill="#9b1fe8" fill-opacity="0.42"/>
<circle cx="47.9" cy="459.6" r="1.45" fill="#9b1fe8" fill-opacity="0.42"/>
<circle cx="48.3" cy="436.5" r="1.45" fill="#9b1fe8" fill-opacity="0.42"/>
<circle cx="57.7" cy="464.4" r="1.45" fill="#9b1fe8" fill-opacity="0.42"/>
<circle cx="59.2" cy="458.5" r="1.45" fill="#9b1fe8" fill-opacity="0.42"/>
<circle cx="58.1" cy="443.5" r="1.45" fill="#9b1fe8" fill-opacity="0.42"/>
<circle cx="58.1" cy="451.1" r="1.45" fill="#9b1fe8" fill-opacity="0.42"/>
<circle cx="57.8" cy="450.6" r="1.45" fill="#9b1fe8" fill-opacity="0.42"/>
<circle cx="58.0" cy="468.7" r="1.45" fill="#9b1fe8" fill-opacity="0.42"/>
<polygon points="46.6,448.3 53.4,442.6 61.3,436.3 74.4,427.4 90,417.1 100.5,412.4 110.9,407.2 121.4,402.5 131.9,397.3 142.3,393.6 151.7,391 151.7,413.5 142.3,411.4 131.9,410.9 121.4,411.9 110.9,414.5 100.5,418.7 90,423.4 74.4,431.6 61.3,441.1 53.4,447.8 46.6,454.7" fill="#999999" fill-opacity="0.58"/>
<polyline points="46.6,451.5 53.4,445.2 61.3,438.7 74.4,429.5 90,420.3 100.5,415.6 110.9,410.9 121.4,407.4 131.9,404.9 142.3,403 151.7,402.2" fill="none" stroke="#111" stroke-width="0.85"/>
</g>
<rect x="35.5" y="353.6" width="126.90" height="126.20" fill="none" stroke="#333333" stroke-width="0.55"/>
<line x1="46.40" y1="479.8" x2="46.40" y2="481.90000000000003" stroke="#333333" stroke-width="0.55"/>
<text x="46.40" y="488.60" font-size="6.4" fill="#4d4d4d" stroke="#4d4d4d" stroke-width="0.12" text-anchor="middle">0</text>
<line x1="67.42" y1="479.8" x2="67.42" y2="481.90000000000003" stroke="#333333" stroke-width="0.55"/>
<text x="67.42" y="488.60" font-size="6.4" fill="#4d4d4d" stroke="#4d4d4d" stroke-width="0.12" text-anchor="middle">2</text>
<line x1="88.44" y1="479.8" x2="88.44" y2="481.90000000000003" stroke="#333333" stroke-width="0.55"/>
<text x="88.44" y="488.60" font-size="6.4" fill="#4d4d4d" stroke="#4d4d4d" stroke-width="0.12" text-anchor="middle">4</text>
<line x1="109.46" y1="479.8" x2="109.46" y2="481.90000000000003" stroke="#333333" stroke-width="0.55"/>
<text x="109.46" y="488.60" font-size="6.4" fill="#4d4d4d" stroke="#4d4d4d" stroke-width="0.12" text-anchor="middle">6</text>
<line x1="130.48" y1="479.8" x2="130.48" y2="481.90000000000003" stroke="#333333" stroke-width="0.55"/>
<text x="130.48" y="488.60" font-size="6.4" fill="#4d4d4d" stroke="#4d4d4d" stroke-width="0.12" text-anchor="middle">8</text>
<line x1="151.50" y1="479.8" x2="151.50" y2="481.90000000000003" stroke="#333333" stroke-width="0.55"/>
<text x="151.50" y="488.60" font-size="6.4" fill="#4d4d4d" stroke="#4d4d4d" stroke-width="0.12" text-anchor="middle">10</text>
<line x1="33.4" y1="474.50" x2="35.5" y2="474.50" stroke="#333333" stroke-width="0.55"/>
<text x="31.40" y="477.00" font-size="6.4" fill="#4d4d4d" stroke="#4d4d4d" stroke-width="0.12" text-anchor="end">0</text>
<line x1="33.4" y1="446.93" x2="35.5" y2="446.93" stroke="#333333" stroke-width="0.55"/>
<text x="31.40" y="449.43" font-size="6.4" fill="#4d4d4d" stroke="#4d4d4d" stroke-width="0.12" text-anchor="end">2500</text>
<line x1="33.4" y1="419.35" x2="35.5" y2="419.35" stroke="#333333" stroke-width="0.55"/>
<text x="31.40" y="421.85" font-size="6.4" fill="#4d4d4d" stroke="#4d4d4d" stroke-width="0.12" text-anchor="end">5000</text>
<line x1="33.4" y1="391.77" x2="35.5" y2="391.77" stroke="#333333" stroke-width="0.55"/>
<text x="31.40" y="394.27" font-size="6.4" fill="#4d4d4d" stroke="#4d4d4d" stroke-width="0.12" text-anchor="end">7500</text>
<line x1="33.4" y1="364.20" x2="35.5" y2="364.20" stroke="#333333" stroke-width="0.55"/>
<text x="31.40" y="366.70" font-size="6.4" fill="#4d4d4d" stroke="#4d4d4d" stroke-width="0.12" text-anchor="end">10000</text>
<text textLength="80" lengthAdjust="spacingAndGlyphs" transform="translate(8.2,415.90) rotate(-90)" font-size="8.25" fill="#000" stroke="#000" stroke-width="0.18" text-anchor="middle">IFN-γ secretion (pg/ml)</text>
<text x="34.20" y="348.30" font-size="12.5" fill="#000" stroke="#000" stroke-width="0.2">G</text>
<text x="98.95" y="498.60" font-size="8.25" fill="#000" stroke="#000" stroke-width="0.18" text-anchor="middle">Age (years)</text>
<clipPath id="cH"><rect x="191.6" y="353.6" width="138.80" height="126.20"/></clipPath>
<g clip-path="url(#cH)">
<line x1="214.42" y1="353.6" x2="214.42" y2="479.8" stroke="#f0f0f0" stroke-width="0.8"/>
<line x1="237.66" y1="353.6" x2="237.66" y2="479.8" stroke="#f0f0f0" stroke-width="0.8"/>
<line x1="260.90" y1="353.6" x2="260.90" y2="479.8" stroke="#f0f0f0" stroke-width="0.8"/>
<line x1="284.14" y1="353.6" x2="284.14" y2="479.8" stroke="#f0f0f0" stroke-width="0.8"/>
<line x1="307.38" y1="353.6" x2="307.38" y2="479.8" stroke="#f0f0f0" stroke-width="0.8"/>
<line x1="191.6" y1="455.48" x2="330.4" y2="455.48" stroke="#f0f0f0" stroke-width="0.8"/>
<line x1="191.6" y1="417.45" x2="330.4" y2="417.45" stroke="#f0f0f0" stroke-width="0.8"/>
<line x1="191.6" y1="379.42" x2="330.4" y2="379.42" stroke="#f0f0f0" stroke-width="0.8"/>
<line x1="202.80" y1="353.6" x2="202.80" y2="479.8" stroke="#ededed" stroke-width="1.0"/>
<line x1="226.04" y1="353.6" x2="226.04" y2="479.8" stroke="#ededed" stroke-width="1.0"/>
<line x1="249.28" y1="353.6" x2="249.28" y2="479.8" stroke="#ededed" stroke-width="1.0"/>
<line x1="272.52" y1="353.6" x2="272.52" y2="479.8" stroke="#ededed" stroke-width="1.0"/>
<line x1="295.76" y1="353.6" x2="295.76" y2="479.8" stroke="#ededed" stroke-width="1.0"/>
<line x1="319.00" y1="353.6" x2="319.00" y2="479.8" stroke="#ededed" stroke-width="1.0"/>
<line x1="191.6" y1="474.50" x2="330.4" y2="474.50" stroke="#ededed" stroke-width="1.0"/>
<line x1="191.6" y1="436.47" x2="330.4" y2="436.47" stroke="#ededed" stroke-width="1.0"/>
<line x1="191.6" y1="398.43" x2="330.4" y2="398.43" stroke="#ededed" stroke-width="1.0"/>
<line x1="191.6" y1="360.40" x2="330.4" y2="360.40" stroke="#ededed" stroke-width="1.0"/>
<circle cx="217.1" cy="370.6" r="1.45" fill="#9b1fe8" fill-opacity="0.42"/>
<circle cx="215.9" cy="373.4" r="1.45" fill="#9b1fe8" fill-opacity="0.42"/>
<circle cx="217.8" cy="373.4" r="1.45" fill="#9b1fe8" fill-opacity="0.42"/>
<circle cx="217.1" cy="378.5" r="1.45" fill="#9b1fe8" fill-opacity="0.42"/>
<circle cx="216.5" cy="381.7" r="1.45" fill="#9b1fe8" fill-opacity="0.42"/>
<circle cx="215.9" cy="383.6" r="1.45" fill="#9b1fe8" fill-opacity="0.42"/>
<circle cx="217.1" cy="385.5" r="1.45" fill="#9b1fe8" fill-opacity="0.42"/>
<circle cx="217.8" cy="387.4" r="1.45" fill="#9b1fe8" fill-opacity="0.42"/>
<circle cx="216.5" cy="390.0" r="1.45" fill="#9b1fe8" fill-opacity="0.42"/>
<circle cx="217.1" cy="395.1" r="1.45" fill="#9b1fe8" fill-opacity="0.42"/>
<circle cx="215.9" cy="397.6" r="1.45" fill="#9b1fe8" fill-opacity="0.42"/>
<circle cx="217.1" cy="399.5" r="1.45" fill="#9b1fe8" fill-opacity="0.42"/>
<circle cx="215.9" cy="401.4" r="1.45" fill="#9b1fe8" fill-opacity="0.42"/>
<circle cx="216.5" cy="405.9" r="1.45" fill="#9b1fe8" fill-opacity="0.42"/>
<circle cx="217.1" cy="407.8" r="1.45" fill="#9b1fe8" fill-opacity="0.42"/>
<circle cx="204.4" cy="393.8" r="1.45" fill="#9b1fe8" fill-opacity="0.42"/>
<circle cx="205.0" cy="397.0" r="1.45" fill="#9b1fe8" fill-opacity="0.42"/>
<circle cx="205.7" cy="400.2" r="1.45" fill="#9b1fe8" fill-opacity="0.42"/>
<circle cx="204.4" cy="403.4" r="1.45" fill="#9b1fe8" fill-opacity="0.42"/>
<circle cx="203.8" cy="405.3" r="1.45" fill="#9b1fe8" fill-opacity="0.42"/>
<circle cx="205.0" cy="408.5" r="1.45" fill="#9b1fe8" fill-opacity="0.42"/>
<circle cx="204.4" cy="414.8" r="1.45" fill="#9b1fe8" fill-opacity="0.42"/>
<circle cx="239.5" cy="374.0" r="1.45" fill="#9b1fe8" fill-opacity="0.42"/>
<circle cx="240.1" cy="375.7" r="1.45" fill="#9b1fe8" fill-opacity="0.42"/>
<circle cx="240.7" cy="379.8" r="1.45" fill="#9b1fe8" fill-opacity="0.42"/>
<circle cx="239.5" cy="386.1" r="1.45" fill="#9b1fe8" fill-opacity="0.42"/>
<circle cx="239.7" cy="406.5" r="1.45" fill="#9b1fe8" fill-opacity="0.42"/>
<circle cx="240.1" cy="409.1" r="1.45" fill="#9b1fe8" fill-opacity="0.42"/>
<circle cx="250.9" cy="372.8" r="1.45" fill="#9b1fe8" fill-opacity="0.42"/>
<circle cx="250.7" cy="379.8" r="1.45" fill="#9b1fe8" fill-opacity="0.42"/>
<circle cx="250.9" cy="385.5" r="1.45" fill="#9b1fe8" fill-opacity="0.42"/>
<circle cx="212.0" cy="377.9" r="1.45" fill="#3cb371" fill-opacity="0.42"/>
<circle cx="211.4" cy="380.4" r="1.45" fill="#3cb371" fill-opacity="0.42"/>
<circle cx="212.0" cy="382.3" r="1.45" fill="#3cb371" fill-opacity="0.42"/>
<circle cx="211.4" cy="384.2" r="1.45" fill="#3cb371" fill-opacity="0.42"/>
<circle cx="212.4" cy="386.1" r="1.45" fill="#3cb371" fill-opacity="0.42"/>
<circle cx="212.0" cy="388.1" r="1.45" fill="#3cb371" fill-opacity="0.42"/>
<circle cx="201.2" cy="393.5" r="1.45" fill="#3cb371" fill-opacity="0.42"/>
<circle cx="201.8" cy="400.2" r="1.45" fill="#3cb371" fill-opacity="0.42"/>
<circle cx="200.9" cy="405.3" r="1.45" fill="#3cb371" fill-opacity="0.42"/>
<circle cx="200.2" cy="407.8" r="1.45" fill="#3cb371" fill-opacity="0.42"/>
<circle cx="200.6" cy="415.2" r="1.45" fill="#3cb371" fill-opacity="0.42"/>
<circle cx="201.2" cy="412.9" r="1.45" fill="#3cb371" fill-opacity="0.42"/>
<circle cx="212.0" cy="409.7" r="1.45" fill="#3cb371" fill-opacity="0.42"/>
<circle cx="212.7" cy="413.6" r="1.45" fill="#3cb371" fill-opacity="0.42"/>
<circle cx="234.4" cy="374.0" r="1.45" fill="#3cb371" fill-opacity="0.42"/>
<circle cx="236.3" cy="389.3" r="1.45" fill="#3cb371" fill-opacity="0.42"/>
<circle cx="235.6" cy="393.2" r="1.45" fill="#3cb371" fill-opacity="0.42"/>
<circle cx="235.9" cy="395.1" r="1.45" fill="#3cb371" fill-opacity="0.42"/>
<circle cx="246.5" cy="375.3" r="1.45" fill="#3cb371" fill-opacity="0.42"/>
<circle cx="247.1" cy="378.5" r="1.45" fill="#3cb371" fill-opacity="0.42"/>
<circle cx="246.8" cy="384.2" r="1.45" fill="#3cb371" fill-opacity="0.42"/>
<circle cx="247.7" cy="386.8" r="1.45" fill="#3cb371" fill-opacity="0.42"/>
<circle cx="257.9" cy="373.4" r="1.45" fill="#3cb371" fill-opacity="0.42"/>
<circle cx="258.3" cy="375.9" r="1.45" fill="#3cb371" fill-opacity="0.42"/>
<circle cx="258.6" cy="391.9" r="1.45" fill="#3cb371" fill-opacity="0.42"/>
<circle cx="204.8" cy="417.6" r="1.45" fill="#9b1fe8" fill-opacity="0.42"/>
<circle cx="204.2" cy="420.3" r="1.45" fill="#9b1fe8" fill-opacity="0.42"/>
<circle cx="204.8" cy="428.1" r="1.45" fill="#9b1fe8" fill-opacity="0.42"/>
<circle cx="205.5" cy="432.1" r="1.45" fill="#9b1fe8" fill-opacity="0.42"/>
<circle cx="204.8" cy="434.1" r="1.45" fill="#9b1fe8" fill-opacity="0.42"/>
<circle cx="205.5" cy="436.0" r="1.45" fill="#9b1fe8" fill-opacity="0.42"/>
<circle cx="205.2" cy="438.7" r="1.45" fill="#9b1fe8" fill-opacity="0.42"/>
<circle cx="204.2" cy="440.6" r="1.45" fill="#9b1fe8" fill-opacity="0.42"/>
<circle cx="204.8" cy="442.6" r="1.45" fill="#9b1fe8" fill-opacity="0.42"/>
<circle cx="205.7" cy="447.2" r="1.45" fill="#9b1fe8" fill-opacity="0.42"/>
<circle cx="205.5" cy="451.2" r="1.45" fill="#9b1fe8" fill-opacity="0.42"/>
<circle cx="204.2" cy="455.5" r="1.45" fill="#9b1fe8" fill-opacity="0.42"/>
<circle cx="205.7" cy="461.7" r="1.45" fill="#9b1fe8" fill-opacity="0.42"/>
<circle cx="204.8" cy="479.4" r="1.45" fill="#9b1fe8" fill-opacity="0.42"/>
<circle cx="200.2" cy="416.3" r="1.45" fill="#3cb371" fill-opacity="0.42"/>
<circle cx="200.5" cy="420.9" r="1.45" fill="#3cb371" fill-opacity="0.42"/>
<circle cx="199.9" cy="422.9" r="1.45" fill="#3cb371" fill-opacity="0.42"/>
<circle cx="200.9" cy="425.5" r="1.45" fill="#3cb371" fill-opacity="0.42"/>
<circle cx="200.2" cy="428.8" r="1.45" fill="#3cb371" fill-opacity="0.42"/>
<circle cx="200.5" cy="432.7" r="1.45" fill="#3cb371" fill-opacity="0.42"/>
<circle cx="200.5" cy="438.7" r="1.45" fill="#3cb371" fill-opacity="0.42"/>
<circle cx="200.9" cy="446.6" r="1.45" fill="#3cb371" fill-opacity="0.42"/>
<circle cx="200.2" cy="449.8" r="1.45" fill="#3cb371" fill-opacity="0.42"/>
<circle cx="200.5" cy="452.5" r="1.45" fill="#3cb371" fill-opacity="0.42"/>
<circle cx="200.9" cy="457.1" r="1.45" fill="#3cb371" fill-opacity="0.42"/>
<circle cx="200.2" cy="459.7" r="1.45" fill="#3cb371" fill-opacity="0.42"/>
<circle cx="201.8" cy="474.2" r="1.45" fill="#3cb371" fill-opacity="0.42"/>
<circle cx="212.1" cy="417.6" r="1.45" fill="#3cb371" fill-opacity="0.42"/>
<circle cx="264.1" cy="372.1" r="1.45" fill="#9b1fe8" fill-opacity="0.42"/>
<circle cx="262.2" cy="376.6" r="1.45" fill="#9b1fe8" fill-opacity="0.42"/>
<circle cx="273.7" cy="370.8" r="1.45" fill="#9b1fe8" fill-opacity="0.42"/>
<circle cx="274.9" cy="372.8" r="1.45" fill="#9b1fe8" fill-opacity="0.42"/>
<circle cx="275.6" cy="374.0" r="1.45" fill="#9b1fe8" fill-opacity="0.42"/>
<circle cx="274.3" cy="374.7" r="1.45" fill="#9b1fe8" fill-opacity="0.42"/>
<circle cx="285.1" cy="370.8" r="1.45" fill="#9b1fe8" fill-opacity="0.42"/>
<circle cx="285.8" cy="372.1" r="1.45" fill="#9b1fe8" fill-opacity="0.42"/>
<circle cx="274.3" cy="386.4" r="1.45" fill="#9b1fe8" fill-opacity="0.42"/>
<circle cx="274.9" cy="389.3" r="1.45" fill="#9b1fe8" fill-opacity="0.42"/>
<circle cx="275.3" cy="391.0" r="1.45" fill="#9b1fe8" fill-opacity="0.42"/>
<circle cx="274.5" cy="397.6" r="1.45" fill="#9b1fe8" fill-opacity="0.42"/>
<circle cx="275.3" cy="400.8" r="1.45" fill="#9b1fe8" fill-opacity="0.42"/>
<circle cx="270.5" cy="358.7" r="1.45" fill="#3cb371" fill-opacity="0.42"/>
<circle cx="270.2" cy="370.2" r="1.45" fill="#3cb371" fill-opacity="0.42"/>
<circle cx="270.7" cy="372.8" r="1.45" fill="#3cb371" fill-opacity="0.42"/>
<circle cx="269.8" cy="377.9" r="1.45" fill="#3cb371" fill-opacity="0.42"/>
<circle cx="271.1" cy="386.8" r="1.45" fill="#3cb371" fill-opacity="0.42"/>
<circle cx="271.5" cy="391.2" r="1.45" fill="#3cb371" fill-opacity="0.42"/>
<circle cx="281.9" cy="374.0" r="1.45" fill="#3cb371" fill-opacity="0.42"/>
<circle cx="281.7" cy="381.0" r="1.45" fill="#3cb371" fill-opacity="0.42"/>
<circle cx="282.2" cy="386.1" r="1.45" fill="#3cb371" fill-opacity="0.42"/>
<circle cx="259.6" cy="391.2" r="1.45" fill="#3cb371" fill-opacity="0.42"/>
<circle cx="318.9" cy="361.7" r="1.45" fill="#3cb371" fill-opacity="0.42"/>
<circle cx="319.9" cy="367.7" r="1.45" fill="#3cb371" fill-opacity="0.42"/>
<circle cx="320.2" cy="383.6" r="1.45" fill="#3cb371" fill-opacity="0.42"/>
<circle cx="307.4" cy="383.0" r="1.45" fill="#3cb371" fill-opacity="0.42"/>
<circle cx="202.4" cy="425.1" r="1.45" fill="#3cb371" fill-opacity="0.42"/>
<circle cx="201.0" cy="448.1" r="1.45" fill="#3cb371" fill-opacity="0.42"/>
<circle cx="201.1" cy="414.6" r="1.45" fill="#3cb371" fill-opacity="0.42"/>
<circle cx="200.5" cy="416.0" r="1.45" fill="#3cb371" fill-opacity="0.42"/>
<circle cx="201.4" cy="422.7" r="1.45" fill="#3cb371" fill-opacity="0.42"/>
<circle cx="200.9" cy="422.8" r="1.45" fill="#3cb371" fill-opacity="0.42"/>
<circle cx="200.5" cy="409.5" r="1.45" fill="#3cb371" fill-opacity="0.42"/>
<circle cx="200.7" cy="417.0" r="1.45" fill="#3cb371" fill-opacity="0.42"/>
<circle cx="200.6" cy="396.2" r="1.45" fill="#3cb371" fill-opacity="0.42"/>
<circle cx="201.1" cy="407.8" r="1.45" fill="#3cb371" fill-opacity="0.42"/>
<circle cx="201.7" cy="424.1" r="1.45" fill="#3cb371" fill-opacity="0.42"/>
<circle cx="202.0" cy="431.2" r="1.45" fill="#3cb371" fill-opacity="0.42"/>
<circle cx="204.9" cy="448.3" r="1.45" fill="#9b1fe8" fill-opacity="0.42"/>
<circle cx="204.3" cy="417.9" r="1.45" fill="#9b1fe8" fill-opacity="0.42"/>
<circle cx="205.5" cy="408.2" r="1.45" fill="#9b1fe8" fill-opacity="0.42"/>
<circle cx="204.9" cy="435.4" r="1.45" fill="#9b1fe8" fill-opacity="0.42"/>
<circle cx="203.6" cy="445.9" r="1.45" fill="#9b1fe8" fill-opacity="0.42"/>
<circle cx="205.3" cy="434.5" r="1.45" fill="#9b1fe8" fill-opacity="0.42"/>
<circle cx="205.0" cy="444.7" r="1.45" fill="#9b1fe8" fill-opacity="0.42"/>
<circle cx="203.8" cy="428.8" r="1.45" fill="#9b1fe8" fill-opacity="0.42"/>
<circle cx="204.5" cy="445.9" r="1.45" fill="#9b1fe8" fill-opacity="0.42"/>
<circle cx="205.1" cy="445.5" r="1.45" fill="#9b1fe8" fill-opacity="0.42"/>
<circle cx="204.7" cy="449.1" r="1.45" fill="#9b1fe8" fill-opacity="0.42"/>
<circle cx="204.9" cy="438.1" r="1.45" fill="#9b1fe8" fill-opacity="0.42"/>
<circle cx="204.0" cy="401.7" r="1.45" fill="#9b1fe8" fill-opacity="0.42"/>
<circle cx="203.8" cy="419.8" r="1.45" fill="#9b1fe8" fill-opacity="0.42"/>
<circle cx="212.2" cy="396.2" r="1.45" fill="#3cb371" fill-opacity="0.42"/>
<circle cx="213.1" cy="391.4" r="1.45" fill="#3cb371" fill-opacity="0.42"/>
<circle cx="213.3" cy="392.7" r="1.45" fill="#3cb371" fill-opacity="0.42"/>
<circle cx="213.0" cy="377.1" r="1.45" fill="#3cb371" fill-opacity="0.42"/>
<circle cx="213.6" cy="394.2" r="1.45" fill="#3cb371" fill-opacity="0.42"/>
<circle cx="213.0" cy="389.3" r="1.45" fill="#3cb371" fill-opacity="0.42"/>
<circle cx="213.3" cy="378.5" r="1.45" fill="#3cb371" fill-opacity="0.42"/>
<circle cx="213.5" cy="382.8" r="1.45" fill="#3cb371" fill-opacity="0.42"/>
<circle cx="215.1" cy="383.0" r="1.45" fill="#9b1fe8" fill-opacity="0.42"/>
<circle cx="216.5" cy="381.2" r="1.45" fill="#9b1fe8" fill-opacity="0.42"/>
<circle cx="216.5" cy="404.3" r="1.45" fill="#9b1fe8" fill-opacity="0.42"/>
<circle cx="216.0" cy="386.5" r="1.45" fill="#9b1fe8" fill-opacity="0.42"/>
<circle cx="216.0" cy="395.5" r="1.45" fill="#9b1fe8" fill-opacity="0.42"/>
<circle cx="216.5" cy="393.5" r="1.45" fill="#9b1fe8" fill-opacity="0.42"/>
<circle cx="216.3" cy="377.3" r="1.45" fill="#9b1fe8" fill-opacity="0.42"/>
<circle cx="215.3" cy="382.6" r="1.45" fill="#9b1fe8" fill-opacity="0.42"/>
<polyline points="202.80,430.1 214.42,390.2 226.04,381.0 237.66,381.0 249.28,381.0 260.90,381.0 272.52,381.0 284.14,375.7 295.76,375.7 307.38,375.7 319.00,375.7" fill="none" stroke="#000" stroke-width="0.9"/>
<line x1="202.80" y1="427.5" x2="202.80" y2="432.7" stroke="#000" stroke-width="1.1"/>
<circle cx="202.80" cy="430.1" r="2.5" fill="#000"/>
<line x1="214.42" y1="385.5" x2="214.42" y2="395.0" stroke="#000" stroke-width="1.1"/>
<circle cx="214.42" cy="390.2" r="2.5" fill="#000"/>
<line x1="226.04" y1="377.2" x2="226.04" y2="384.9" stroke="#000" stroke-width="1.1"/>
<circle cx="226.04" cy="381.0" r="2.5" fill="#000"/>
<line x1="237.66" y1="377.2" x2="237.66" y2="384.9" stroke="#000" stroke-width="1.1"/>
<circle cx="237.66" cy="381.0" r="2.5" fill="#000"/>
<line x1="249.28" y1="377.2" x2="249.28" y2="384.9" stroke="#000" stroke-width="1.1"/>
<circle cx="249.28" cy="381.0" r="2.5" fill="#000"/>
<line x1="260.90" y1="377.2" x2="260.90" y2="384.9" stroke="#000" stroke-width="1.1"/>
<circle cx="260.90" cy="381.0" r="2.5" fill="#000"/>
<line x1="272.52" y1="377.2" x2="272.52" y2="384.9" stroke="#000" stroke-width="1.1"/>
<circle cx="272.52" cy="381.0" r="2.5" fill="#000"/>
<line x1="284.14" y1="368.3" x2="284.14" y2="383.0" stroke="#000" stroke-width="1.1"/>
<circle cx="284.14" cy="375.7" r="2.5" fill="#000"/>
<line x1="295.76" y1="368.3" x2="295.76" y2="383.0" stroke="#000" stroke-width="1.1"/>
<circle cx="295.76" cy="375.7" r="2.5" fill="#000"/>
<line x1="307.38" y1="368.3" x2="307.38" y2="383.0" stroke="#000" stroke-width="1.1"/>
<circle cx="307.38" cy="375.7" r="2.5" fill="#000"/>
<line x1="319.00" y1="368.3" x2="319.00" y2="383.0" stroke="#000" stroke-width="1.1"/>
<circle cx="319.00" cy="375.7" r="2.5" fill="#000"/>
</g>
<rect x="191.6" y="353.6" width="138.80" height="126.20" fill="none" stroke="#333333" stroke-width="0.55"/>
<line x1="202.80" y1="479.8" x2="202.80" y2="481.90000000000003" stroke="#333333" stroke-width="0.55"/>
<text x="202.80" y="488.60" font-size="6.4" fill="#4d4d4d" stroke="#4d4d4d" stroke-width="0.12" text-anchor="middle">0</text>
<line x1="226.04" y1="479.8" x2="226.04" y2="481.90000000000003" stroke="#333333" stroke-width="0.55"/>
<text x="226.04" y="488.60" font-size="6.4" fill="#4d4d4d" stroke="#4d4d4d" stroke-width="0.12" text-anchor="middle">2</text>
<line x1="249.28" y1="479.8" x2="249.28" y2="481.90000000000003" stroke="#333333" stroke-width="0.55"/>
<text x="249.28" y="488.60" font-size="6.4" fill="#4d4d4d" stroke="#4d4d4d" stroke-width="0.12" text-anchor="middle">4</text>
<line x1="272.52" y1="479.8" x2="272.52" y2="481.90000000000003" stroke="#333333" stroke-width="0.55"/>
<text x="272.52" y="488.60" font-size="6.4" fill="#4d4d4d" stroke="#4d4d4d" stroke-width="0.12" text-anchor="middle">6</text>
<line x1="295.76" y1="479.8" x2="295.76" y2="481.90000000000003" stroke="#333333" stroke-width="0.55"/>
<text x="295.76" y="488.60" font-size="6.4" fill="#4d4d4d" stroke="#4d4d4d" stroke-width="0.12" text-anchor="middle">8</text>
<line x1="319.00" y1="479.8" x2="319.00" y2="481.90000000000003" stroke="#333333" stroke-width="0.55"/>
<text x="319.00" y="488.60" font-size="6.4" fill="#4d4d4d" stroke="#4d4d4d" stroke-width="0.12" text-anchor="middle">10</text>
<line x1="189.5" y1="474.50" x2="191.6" y2="474.50" stroke="#333333" stroke-width="0.55"/>
<text x="187.50" y="477.00" font-size="6.4" fill="#4d4d4d" stroke="#4d4d4d" stroke-width="0.12" text-anchor="end">4</text>
<line x1="189.5" y1="436.47" x2="191.6" y2="436.47" stroke="#333333" stroke-width="0.55"/>
<text x="187.50" y="438.97" font-size="6.4" fill="#4d4d4d" stroke="#4d4d4d" stroke-width="0.12" text-anchor="end">6</text>
<line x1="189.5" y1="398.43" x2="191.6" y2="398.43" stroke="#333333" stroke-width="0.55"/>
<text x="187.50" y="400.93" font-size="6.4" fill="#4d4d4d" stroke="#4d4d4d" stroke-width="0.12" text-anchor="end">8</text>
<line x1="189.5" y1="360.40" x2="191.6" y2="360.40" stroke="#333333" stroke-width="0.55"/>
<text x="187.50" y="362.90" font-size="6.4" fill="#4d4d4d" stroke="#4d4d4d" stroke-width="0.12" text-anchor="end">10</text>
<text transform="translate(175.7,416.70) rotate(-90)" font-size="8.25" fill="#000" stroke="#000" stroke-width="0.18" text-anchor="middle">log(IL-4 secretion (pg/ml)</text>
<text x="190.30" y="348.30" font-size="12.5" fill="#000" stroke="#000" stroke-width="0.2">H</text>
<text x="261.00" y="498.60" font-size="8.25" fill="#000" stroke="#000" stroke-width="0.18" text-anchor="middle">Age (years)</text>
<clipPath id="cI"><rect x="366.7" y="353.6" width="131.70" height="126.20"/></clipPath>
<g clip-path="url(#cI)">
<line x1="388.91" y1="353.6" x2="388.91" y2="479.8" stroke="#f0f0f0" stroke-width="0.8"/>
<line x1="410.93" y1="353.6" x2="410.93" y2="479.8" stroke="#f0f0f0" stroke-width="0.8"/>
<line x1="432.95" y1="353.6" x2="432.95" y2="479.8" stroke="#f0f0f0" stroke-width="0.8"/>
<line x1="454.97" y1="353.6" x2="454.97" y2="479.8" stroke="#f0f0f0" stroke-width="0.8"/>
<line x1="476.99" y1="353.6" x2="476.99" y2="479.8" stroke="#f0f0f0" stroke-width="0.8"/>
<line x1="366.7" y1="455.05" x2="498.4" y2="455.05" stroke="#f0f0f0" stroke-width="0.8"/>
<line x1="366.7" y1="416.35" x2="498.4" y2="416.35" stroke="#f0f0f0" stroke-width="0.8"/>
<line x1="366.7" y1="377.65" x2="498.4" y2="377.65" stroke="#f0f0f0" stroke-width="0.8"/>
<line x1="377.90" y1="353.6" x2="377.90" y2="479.8" stroke="#ededed" stroke-width="1.0"/>
<line x1="399.92" y1="353.6" x2="399.92" y2="479.8" stroke="#ededed" stroke-width="1.0"/>
<line x1="421.94" y1="353.6" x2="421.94" y2="479.8" stroke="#ededed" stroke-width="1.0"/>
<line x1="443.96" y1="353.6" x2="443.96" y2="479.8" stroke="#ededed" stroke-width="1.0"/>
<line x1="465.98" y1="353.6" x2="465.98" y2="479.8" stroke="#ededed" stroke-width="1.0"/>
<line x1="488.00" y1="353.6" x2="488.00" y2="479.8" stroke="#ededed" stroke-width="1.0"/>
<line x1="366.7" y1="474.40" x2="498.4" y2="474.40" stroke="#ededed" stroke-width="1.0"/>
<line x1="366.7" y1="435.70" x2="498.4" y2="435.70" stroke="#ededed" stroke-width="1.0"/>
<line x1="366.7" y1="397.00" x2="498.4" y2="397.00" stroke="#ededed" stroke-width="1.0"/>
<line x1="366.7" y1="358.30" x2="498.4" y2="358.30" stroke="#ededed" stroke-width="1.0"/>
<circle cx="379.8" cy="404.3" r="1.45" fill="#9b1fe8" fill-opacity="0.42"/>
<circle cx="390.0" cy="401.7" r="1.45" fill="#9b1fe8" fill-opacity="0.42"/>
<circle cx="381.0" cy="415.7" r="1.45" fill="#9b1fe8" fill-opacity="0.42"/>
<circle cx="391.5" cy="415.5" r="1.45" fill="#9b1fe8" fill-opacity="0.42"/>
<circle cx="412.1" cy="411.0" r="1.45" fill="#9b1fe8" fill-opacity="0.42"/>
<circle cx="423.1" cy="405.0" r="1.45" fill="#9b1fe8" fill-opacity="0.42"/>
<circle cx="412.9" cy="415.5" r="1.45" fill="#9b1fe8" fill-opacity="0.42"/>
<circle cx="376.8" cy="404.3" r="1.45" fill="#3cb371" fill-opacity="0.42"/>
<circle cx="375.6" cy="412.7" r="1.45" fill="#3cb371" fill-opacity="0.42"/>
<circle cx="387.4" cy="412.9" r="1.45" fill="#3cb371" fill-opacity="0.42"/>
<circle cx="409.3" cy="415.5" r="1.45" fill="#3cb371" fill-opacity="0.42"/>
<circle cx="430.0" cy="397.9" r="1.45" fill="#3cb371" fill-opacity="0.42"/>
<circle cx="430.3" cy="402.1" r="1.45" fill="#3cb371" fill-opacity="0.42"/>
<circle cx="379.1" cy="418.9" r="1.45" fill="#9b1fe8" fill-opacity="0.42"/>
<circle cx="378.9" cy="424.9" r="1.45" fill="#9b1fe8" fill-opacity="0.42"/>
<circle cx="379.1" cy="428.1" r="1.45" fill="#9b1fe8" fill-opacity="0.42"/>
<circle cx="379.1" cy="432.1" r="1.45" fill="#9b1fe8" fill-opacity="0.42"/>
<circle cx="379.1" cy="433.4" r="1.45" fill="#9b1fe8" fill-opacity="0.42"/>
<circle cx="378.9" cy="436.0" r="1.45" fill="#9b1fe8" fill-opacity="0.42"/>
<circle cx="379.1" cy="438.0" r="1.45" fill="#9b1fe8" fill-opacity="0.42"/>
<circle cx="379.1" cy="440.0" r="1.45" fill="#9b1fe8" fill-opacity="0.42"/>
<circle cx="379.1" cy="441.3" r="1.45" fill="#9b1fe8" fill-opacity="0.42"/>
<circle cx="379.8" cy="442.6" r="1.45" fill="#9b1fe8" fill-opacity="0.42"/>
<circle cx="379.1" cy="444.6" r="1.45" fill="#9b1fe8" fill-opacity="0.42"/>
<circle cx="379.8" cy="447.9" r="1.45" fill="#9b1fe8" fill-opacity="0.42"/>
<circle cx="379.1" cy="449.8" r="1.45" fill="#9b1fe8" fill-opacity="0.42"/>
<circle cx="379.8" cy="452.5" r="1.45" fill="#9b1fe8" fill-opacity="0.42"/>
<circle cx="379.1" cy="454.4" r="1.45" fill="#9b1fe8" fill-opacity="0.42"/>
<circle cx="380.2" cy="457.1" r="1.45" fill="#9b1fe8" fill-opacity="0.42"/>
<circle cx="379.1" cy="459.7" r="1.45" fill="#9b1fe8" fill-opacity="0.42"/>
<circle cx="379.8" cy="463.6" r="1.45" fill="#9b1fe8" fill-opacity="0.42"/>
<circle cx="390.3" cy="420.3" r="1.45" fill="#9b1fe8" fill-opacity="0.42"/>
<circle cx="390.7" cy="424.2" r="1.45" fill="#9b1fe8" fill-opacity="0.42"/>
<circle cx="391.0" cy="439.3" r="1.45" fill="#9b1fe8" fill-opacity="0.42"/>
<circle cx="391.0" cy="445.0" r="1.45" fill="#9b1fe8" fill-opacity="0.42"/>
<circle cx="390.7" cy="447.2" r="1.45" fill="#9b1fe8" fill-opacity="0.42"/>
<circle cx="391.0" cy="453.1" r="1.45" fill="#9b1fe8" fill-opacity="0.42"/>
<circle cx="392.0" cy="457.7" r="1.45" fill="#9b1fe8" fill-opacity="0.42"/>
<circle cx="392.0" cy="460.4" r="1.45" fill="#9b1fe8" fill-opacity="0.42"/>
<circle cx="400.4" cy="450.5" r="1.45" fill="#9b1fe8" fill-opacity="0.42"/>
<circle cx="412.0" cy="438.7" r="1.45" fill="#9b1fe8" fill-opacity="0.42"/>
<circle cx="412.7" cy="442.3" r="1.45" fill="#9b1fe8" fill-opacity="0.42"/>
<circle cx="412.0" cy="445.9" r="1.45" fill="#9b1fe8" fill-opacity="0.42"/>
<circle cx="412.3" cy="448.9" r="1.45" fill="#9b1fe8" fill-opacity="0.42"/>
<circle cx="409.4" cy="416.3" r="1.45" fill="#9b1fe8" fill-opacity="0.42"/>
<circle cx="375.5" cy="423.5" r="1.45" fill="#3cb371" fill-opacity="0.42"/>
<circle cx="375.5" cy="431.4" r="1.45" fill="#3cb371" fill-opacity="0.42"/>
<circle cx="375.2" cy="432.7" r="1.45" fill="#3cb371" fill-opacity="0.42"/>
<circle cx="375.9" cy="435.4" r="1.45" fill="#3cb371" fill-opacity="0.42"/>
<circle cx="375.5" cy="438.0" r="1.45" fill="#3cb371" fill-opacity="0.42"/>
<circle cx="374.9" cy="442.6" r="1.45" fill="#3cb371" fill-opacity="0.42"/>
<circle cx="375.5" cy="444.6" r="1.45" fill="#3cb371" fill-opacity="0.42"/>
<circle cx="375.2" cy="448.5" r="1.45" fill="#3cb371" fill-opacity="0.42"/>
<circle cx="375.5" cy="449.8" r="1.45" fill="#3cb371" fill-opacity="0.42"/>
<circle cx="374.9" cy="451.8" r="1.45" fill="#3cb371" fill-opacity="0.42"/>
<circle cx="375.5" cy="453.1" r="1.45" fill="#3cb371" fill-opacity="0.42"/>
<circle cx="375.9" cy="458.4" r="1.45" fill="#3cb371" fill-opacity="0.42"/>
<circle cx="375.5" cy="460.4" r="1.45" fill="#3cb371" fill-opacity="0.42"/>
<circle cx="375.9" cy="465.0" r="1.45" fill="#3cb371" fill-opacity="0.42"/>
<circle cx="386.4" cy="427.9" r="1.45" fill="#3cb371" fill-opacity="0.42"/>
<circle cx="385.7" cy="430.8" r="1.45" fill="#3cb371" fill-opacity="0.42"/>
<circle cx="387.0" cy="441.3" r="1.45" fill="#3cb371" fill-opacity="0.42"/>
<circle cx="386.0" cy="447.2" r="1.45" fill="#3cb371" fill-opacity="0.42"/>
<circle cx="386.4" cy="452.5" r="1.45" fill="#3cb371" fill-opacity="0.42"/>
<circle cx="386.8" cy="455.1" r="1.45" fill="#3cb371" fill-opacity="0.42"/>
<circle cx="387.7" cy="418.3" r="1.45" fill="#3cb371" fill-opacity="0.42"/>
<circle cx="387.3" cy="420.3" r="1.45" fill="#3cb371" fill-opacity="0.42"/>
<circle cx="409.4" cy="437.4" r="1.45" fill="#3cb371" fill-opacity="0.42"/>
<circle cx="409.6" cy="445.5" r="1.45" fill="#3cb371" fill-opacity="0.42"/>
<circle cx="419.6" cy="424.9" r="1.45" fill="#3cb371" fill-opacity="0.42"/>
<circle cx="419.2" cy="436.0" r="1.45" fill="#3cb371" fill-opacity="0.42"/>
<circle cx="418.9" cy="450.5" r="1.45" fill="#3cb371" fill-opacity="0.42"/>
<circle cx="430.4" cy="442.6" r="1.45" fill="#3cb371" fill-opacity="0.42"/>
<circle cx="431.1" cy="432.7" r="1.45" fill="#3cb371" fill-opacity="0.42"/>
<circle cx="446.8" cy="358.7" r="1.45" fill="#9b1fe8" fill-opacity="0.42"/>
<circle cx="435.7" cy="380.4" r="1.45" fill="#9b1fe8" fill-opacity="0.42"/>
<circle cx="445.3" cy="381.3" r="1.45" fill="#9b1fe8" fill-opacity="0.42"/>
<circle cx="445.3" cy="388.7" r="1.45" fill="#9b1fe8" fill-opacity="0.42"/>
<circle cx="446.6" cy="391.9" r="1.45" fill="#9b1fe8" fill-opacity="0.42"/>
<circle cx="434.5" cy="397.4" r="1.45" fill="#9b1fe8" fill-opacity="0.42"/>
<circle cx="456.8" cy="395.1" r="1.45" fill="#9b1fe8" fill-opacity="0.42"/>
<circle cx="456.8" cy="398.3" r="1.45" fill="#9b1fe8" fill-opacity="0.42"/>
<circle cx="456.1" cy="405.3" r="1.45" fill="#9b1fe8" fill-opacity="0.42"/>
<circle cx="433.8" cy="405.0" r="1.45" fill="#9b1fe8" fill-opacity="0.42"/>
<circle cx="445.9" cy="410.4" r="1.45" fill="#9b1fe8" fill-opacity="0.42"/>
<circle cx="446.3" cy="415.7" r="1.45" fill="#9b1fe8" fill-opacity="0.42"/>
<circle cx="465.7" cy="392.3" r="1.45" fill="#3cb371" fill-opacity="0.42"/>
<circle cx="476.2" cy="402.5" r="1.45" fill="#3cb371" fill-opacity="0.42"/>
<circle cx="453.2" cy="412.9" r="1.45" fill="#3cb371" fill-opacity="0.42"/>
<circle cx="488.0" cy="409.1" r="1.45" fill="#3cb371" fill-opacity="0.42"/>
<circle cx="445.5" cy="439.7" r="1.45" fill="#9b1fe8" fill-opacity="0.42"/>
<circle cx="430.7" cy="431.4" r="1.45" fill="#3cb371" fill-opacity="0.42"/>
<circle cx="431.1" cy="436.7" r="1.45" fill="#3cb371" fill-opacity="0.42"/>
<circle cx="441.2" cy="423.9" r="1.45" fill="#3cb371" fill-opacity="0.42"/>
<circle cx="440.8" cy="429.7" r="1.45" fill="#3cb371" fill-opacity="0.42"/>
<circle cx="442.5" cy="439.7" r="1.45" fill="#3cb371" fill-opacity="0.42"/>
<circle cx="441.6" cy="447.2" r="1.45" fill="#3cb371" fill-opacity="0.42"/>
<circle cx="441.6" cy="450.5" r="1.45" fill="#3cb371" fill-opacity="0.42"/>
<circle cx="441.2" cy="463.0" r="1.45" fill="#3cb371" fill-opacity="0.42"/>
<circle cx="441.8" cy="474.2" r="1.45" fill="#3cb371" fill-opacity="0.42"/>
<circle cx="452.6" cy="417.0" r="1.45" fill="#3cb371" fill-opacity="0.42"/>
<circle cx="453.0" cy="418.9" r="1.45" fill="#3cb371" fill-opacity="0.42"/>
<circle cx="453.0" cy="427.1" r="1.45" fill="#3cb371" fill-opacity="0.42"/>
<circle cx="465.5" cy="428.4" r="1.45" fill="#3cb371" fill-opacity="0.42"/>
<circle cx="476.3" cy="432.1" r="1.45" fill="#3cb371" fill-opacity="0.42"/>
<circle cx="477.1" cy="424.2" r="1.45" fill="#3cb371" fill-opacity="0.42"/>
<circle cx="478.0" cy="446.8" r="1.45" fill="#3cb371" fill-opacity="0.42"/>
<circle cx="487.6" cy="423.2" r="1.45" fill="#3cb371" fill-opacity="0.42"/>
<circle cx="487.6" cy="432.7" r="1.45" fill="#3cb371" fill-opacity="0.42"/>
<circle cx="487.8" cy="434.7" r="1.45" fill="#3cb371" fill-opacity="0.42"/>
<circle cx="488.1" cy="450.8" r="1.45" fill="#3cb371" fill-opacity="0.42"/>
<circle cx="477.3" cy="417.4" r="1.45" fill="#3cb371" fill-opacity="0.42"/>
<circle cx="375.5" cy="435.2" r="1.45" fill="#3cb371" fill-opacity="0.42"/>
<circle cx="375.1" cy="420.6" r="1.45" fill="#3cb371" fill-opacity="0.42"/>
<circle cx="374.1" cy="433.4" r="1.45" fill="#3cb371" fill-opacity="0.42"/>
<circle cx="375.3" cy="454.6" r="1.45" fill="#3cb371" fill-opacity="0.42"/>
<circle cx="375.4" cy="434.5" r="1.45" fill="#3cb371" fill-opacity="0.42"/>
<circle cx="375.0" cy="443.2" r="1.45" fill="#3cb371" fill-opacity="0.42"/>
<circle cx="374.9" cy="425.9" r="1.45" fill="#3cb371" fill-opacity="0.42"/>
<circle cx="375.8" cy="430.0" r="1.45" fill="#3cb371" fill-opacity="0.42"/>
<circle cx="376.0" cy="466.8" r="1.45" fill="#3cb371" fill-opacity="0.42"/>
<circle cx="374.0" cy="442.9" r="1.45" fill="#3cb371" fill-opacity="0.42"/>
<circle cx="375.6" cy="468.4" r="1.45" fill="#3cb371" fill-opacity="0.42"/>
<circle cx="374.9" cy="433.4" r="1.45" fill="#3cb371" fill-opacity="0.42"/>
<circle cx="374.4" cy="467.3" r="1.45" fill="#3cb371" fill-opacity="0.42"/>
<circle cx="374.4" cy="449.1" r="1.45" fill="#3cb371" fill-opacity="0.42"/>
<circle cx="378.3" cy="441.2" r="1.45" fill="#9b1fe8" fill-opacity="0.42"/>
<circle cx="379.9" cy="421.6" r="1.45" fill="#9b1fe8" fill-opacity="0.42"/>
<circle cx="379.6" cy="440.4" r="1.45" fill="#9b1fe8" fill-opacity="0.42"/>
<circle cx="379.8" cy="450.2" r="1.45" fill="#9b1fe8" fill-opacity="0.42"/>
<circle cx="378.5" cy="459.9" r="1.45" fill="#9b1fe8" fill-opacity="0.42"/>
<circle cx="379.0" cy="416.2" r="1.45" fill="#9b1fe8" fill-opacity="0.42"/>
<circle cx="378.0" cy="439.6" r="1.45" fill="#9b1fe8" fill-opacity="0.42"/>
<circle cx="378.9" cy="430.1" r="1.45" fill="#9b1fe8" fill-opacity="0.42"/>
<circle cx="378.3" cy="432.2" r="1.45" fill="#9b1fe8" fill-opacity="0.42"/>
<circle cx="378.6" cy="457.0" r="1.45" fill="#9b1fe8" fill-opacity="0.42"/>
<circle cx="378.0" cy="452.5" r="1.45" fill="#9b1fe8" fill-opacity="0.42"/>
<circle cx="379.7" cy="421.0" r="1.45" fill="#9b1fe8" fill-opacity="0.42"/>
<circle cx="379.9" cy="450.7" r="1.45" fill="#9b1fe8" fill-opacity="0.42"/>
<circle cx="379.8" cy="429.5" r="1.45" fill="#9b1fe8" fill-opacity="0.42"/>
<polygon points="378.50,435.32 383.05,434.56 387.60,433.79 392.15,433.00 396.70,432.18 401.25,431.33 405.80,430.46 410.35,429.57 414.90,428.65 419.45,427.70 424.00,426.74 428.55,425.75 433.10,424.75 437.65,423.73 442.20,422.69 446.75,421.64 451.30,420.58 455.85,419.51 460.40,418.43 464.95,417.34 469.50,416.24 474.05,415.14 478.60,414.04 483.15,412.93 487.70,411.82 487.70,424.18 483.15,424.81 478.60,425.44 474.05,426.08 469.50,426.72 464.95,427.37 460.40,428.02 455.85,428.69 451.30,429.36 446.75,430.04 442.20,430.73 437.65,431.43 433.10,432.15 428.55,432.89 424.00,433.64 419.45,434.42 414.90,435.22 410.35,436.04 405.80,436.89 401.25,437.76 396.70,438.66 392.15,439.58 387.60,440.53 383.05,441.49 378.50,442.48" fill="#3cb371" fill-opacity="0.3"/>
<polygon points="378.50,434.15 381.69,432.66 384.88,431.13 388.06,429.56 391.25,427.95 394.44,426.30 397.62,424.58 400.81,422.82 404.00,421.01 407.19,419.15 410.38,417.24 413.56,415.30 416.75,413.33 419.94,411.32 423.12,409.30 426.31,407.26 429.50,405.20 432.69,403.13 435.88,401.05 439.06,398.95 442.25,396.85 445.44,394.75 448.62,392.64 451.81,390.52 455.00,388.40 455.00,405.60 451.81,406.94 448.62,408.28 445.44,409.63 442.25,410.98 439.06,412.34 435.88,413.70 432.69,415.08 429.50,416.47 426.31,417.87 423.12,419.28 419.94,420.72 416.75,422.17 413.56,423.66 410.38,425.18 407.19,426.73 404.00,428.33 400.81,429.97 397.62,431.67 394.44,433.41 391.25,435.21 388.06,437.06 384.88,438.95 381.69,440.89 378.50,442.85" fill="#9b1fe8" fill-opacity="0.36"/>
<line x1="378.5" y1="438.9" x2="487.7" y2="418.0" stroke="#2eaa64" stroke-width="0.85"/>
<line x1="378.5" y1="438.5" x2="455.0" y2="397.0" stroke="#8a1ed8" stroke-width="0.85"/>
</g>
<rect x="366.7" y="353.6" width="131.70" height="126.20" fill="none" stroke="#333333" stroke-width="0.55"/>
<line x1="377.90" y1="479.8" x2="377.90" y2="481.90000000000003" stroke="#333333" stroke-width="0.55"/>
<text x="377.90" y="488.60" font-size="6.4" fill="#4d4d4d" stroke="#4d4d4d" stroke-width="0.12" text-anchor="middle">0</text>
<line x1="399.92" y1="479.8" x2="399.92" y2="481.90000000000003" stroke="#333333" stroke-width="0.55"/>
<text x="399.92" y="488.60" font-size="6.4" fill="#4d4d4d" stroke="#4d4d4d" stroke-width="0.12" text-anchor="middle">2</text>
<line x1="421.94" y1="479.8" x2="421.94" y2="481.90000000000003" stroke="#333333" stroke-width="0.55"/>
<text x="421.94" y="488.60" font-size="6.4" fill="#4d4d4d" stroke="#4d4d4d" stroke-width="0.12" text-anchor="middle">4</text>
<line x1="443.96" y1="479.8" x2="443.96" y2="481.90000000000003" stroke="#333333" stroke-width="0.55"/>
<text x="443.96" y="488.60" font-size="6.4" fill="#4d4d4d" stroke="#4d4d4d" stroke-width="0.12" text-anchor="middle">6</text>
<line x1="465.98" y1="479.8" x2="465.98" y2="481.90000000000003" stroke="#333333" stroke-width="0.55"/>
<text x="465.98" y="488.60" font-size="6.4" fill="#4d4d4d" stroke="#4d4d4d" stroke-width="0.12" text-anchor="middle">8</text>
<line x1="488.00" y1="479.8" x2="488.00" y2="481.90000000000003" stroke="#333333" stroke-width="0.55"/>
<text x="488.00" y="488.60" font-size="6.4" fill="#4d4d4d" stroke="#4d4d4d" stroke-width="0.12" text-anchor="middle">10</text>
<line x1="364.59999999999997" y1="474.40" x2="366.7" y2="474.40" stroke="#333333" stroke-width="0.55"/>
<text x="362.60" y="476.90" font-size="6.4" fill="#4d4d4d" stroke="#4d4d4d" stroke-width="0.12" text-anchor="end">0</text>
<line x1="364.59999999999997" y1="435.70" x2="366.7" y2="435.70" stroke="#333333" stroke-width="0.55"/>
<text x="362.60" y="438.20" font-size="6.4" fill="#4d4d4d" stroke="#4d4d4d" stroke-width="0.12" text-anchor="end">1000</text>
<line x1="364.59999999999997" y1="397.00" x2="366.7" y2="397.00" stroke="#333333" stroke-width="0.55"/>
<text x="362.60" y="399.50" font-size="6.4" fill="#4d4d4d" stroke="#4d4d4d" stroke-width="0.12" text-anchor="end">2000</text>
<line x1="364.59999999999997" y1="358.30" x2="366.7" y2="358.30" stroke="#333333" stroke-width="0.55"/>
<text x="362.60" y="360.80" font-size="6.4" fill="#4d4d4d" stroke="#4d4d4d" stroke-width="0.12" text-anchor="end">3000</text>
<text transform="translate(345.0,416.70) rotate(-90)" font-size="8.25" fill="#000" stroke="#000" stroke-width="0.18" text-anchor="middle">IL-17a secretion (pg/ml)</text>
<text x="366.00" y="348.30" font-size="12.5" fill="#000" stroke="#000" stroke-width="0.2">I</text>
<text x="432.55" y="498.60" font-size="8.25" fill="#000" stroke="#000" stroke-width="0.18" text-anchor="middle">Age (years)</text>
<clipPath id="cJ"><rect x="528.0" y="353.6" width="139.20" height="126.20"/></clipPath>
<g clip-path="url(#cJ)">
<line x1="551.18" y1="353.6" x2="551.18" y2="479.8" stroke="#f0f0f0" stroke-width="0.8"/>
<line x1="574.34" y1="353.6" x2="574.34" y2="479.8" stroke="#f0f0f0" stroke-width="0.8"/>
<line x1="597.50" y1="353.6" x2="597.50" y2="479.8" stroke="#f0f0f0" stroke-width="0.8"/>
<line x1="620.66" y1="353.6" x2="620.66" y2="479.8" stroke="#f0f0f0" stroke-width="0.8"/>
<line x1="643.82" y1="353.6" x2="643.82" y2="479.8" stroke="#f0f0f0" stroke-width="0.8"/>
<line x1="528.0" y1="479.27" x2="667.2" y2="479.27" stroke="#f0f0f0" stroke-width="0.8"/>
<line x1="528.0" y1="447.53" x2="667.2" y2="447.53" stroke="#f0f0f0" stroke-width="0.8"/>
<line x1="528.0" y1="415.80" x2="667.2" y2="415.80" stroke="#f0f0f0" stroke-width="0.8"/>
<line x1="528.0" y1="384.07" x2="667.2" y2="384.07" stroke="#f0f0f0" stroke-width="0.8"/>
<line x1="539.60" y1="353.6" x2="539.60" y2="479.8" stroke="#ededed" stroke-width="1.0"/>
<line x1="562.76" y1="353.6" x2="562.76" y2="479.8" stroke="#ededed" stroke-width="1.0"/>
<line x1="585.92" y1="353.6" x2="585.92" y2="479.8" stroke="#ededed" stroke-width="1.0"/>
<line x1="609.08" y1="353.6" x2="609.08" y2="479.8" stroke="#ededed" stroke-width="1.0"/>
<line x1="632.24" y1="353.6" x2="632.24" y2="479.8" stroke="#ededed" stroke-width="1.0"/>
<line x1="655.40" y1="353.6" x2="655.40" y2="479.8" stroke="#ededed" stroke-width="1.0"/>
<line x1="528.0" y1="463.40" x2="667.2" y2="463.40" stroke="#ededed" stroke-width="1.0"/>
<line x1="528.0" y1="431.67" x2="667.2" y2="431.67" stroke="#ededed" stroke-width="1.0"/>
<line x1="528.0" y1="399.93" x2="667.2" y2="399.93" stroke="#ededed" stroke-width="1.0"/>
<line x1="528.0" y1="368.20" x2="667.2" y2="368.20" stroke="#ededed" stroke-width="1.0"/>
<circle cx="554.1" cy="377.2" r="1.45" fill="#9b1fe8" fill-opacity="0.42"/>
<circle cx="553.5" cy="383.0" r="1.45" fill="#9b1fe8" fill-opacity="0.42"/>
<circle cx="554.1" cy="390.0" r="1.45" fill="#9b1fe8" fill-opacity="0.42"/>
<circle cx="554.5" cy="400.4" r="1.45" fill="#9b1fe8" fill-opacity="0.42"/>
<circle cx="541.8" cy="392.8" r="1.45" fill="#9b1fe8" fill-opacity="0.42"/>
<circle cx="541.4" cy="397.0" r="1.45" fill="#9b1fe8" fill-opacity="0.42"/>
<circle cx="541.8" cy="404.3" r="1.45" fill="#9b1fe8" fill-opacity="0.42"/>
<circle cx="542.7" cy="406.3" r="1.45" fill="#9b1fe8" fill-opacity="0.42"/>
<circle cx="553.5" cy="406.5" r="1.45" fill="#9b1fe8" fill-opacity="0.42"/>
<circle cx="552.9" cy="408.1" r="1.45" fill="#9b1fe8" fill-opacity="0.42"/>
<circle cx="552.9" cy="412.3" r="1.45" fill="#9b1fe8" fill-opacity="0.42"/>
<circle cx="552.9" cy="414.2" r="1.45" fill="#9b1fe8" fill-opacity="0.42"/>
<circle cx="542.3" cy="413.9" r="1.45" fill="#9b1fe8" fill-opacity="0.42"/>
<circle cx="540.8" cy="416.1" r="1.45" fill="#9b1fe8" fill-opacity="0.42"/>
<circle cx="588.2" cy="388.4" r="1.45" fill="#9b1fe8" fill-opacity="0.42"/>
<circle cx="576.2" cy="407.6" r="1.45" fill="#9b1fe8" fill-opacity="0.42"/>
<circle cx="577.7" cy="411.9" r="1.45" fill="#9b1fe8" fill-opacity="0.42"/>
<circle cx="547.8" cy="386.8" r="1.45" fill="#3cb371" fill-opacity="0.42"/>
<circle cx="536.3" cy="398.9" r="1.45" fill="#3cb371" fill-opacity="0.42"/>
<circle cx="549.0" cy="405.0" r="1.45" fill="#3cb371" fill-opacity="0.42"/>
<circle cx="548.4" cy="408.5" r="1.45" fill="#3cb371" fill-opacity="0.42"/>
<circle cx="548.7" cy="411.6" r="1.45" fill="#3cb371" fill-opacity="0.42"/>
<circle cx="549.0" cy="413.6" r="1.45" fill="#3cb371" fill-opacity="0.42"/>
<circle cx="538.2" cy="413.9" r="1.45" fill="#3cb371" fill-opacity="0.42"/>
<circle cx="536.3" cy="416.1" r="1.45" fill="#3cb371" fill-opacity="0.42"/>
<circle cx="571.4" cy="408.5" r="1.45" fill="#3cb371" fill-opacity="0.42"/>
<circle cx="584.1" cy="399.9" r="1.45" fill="#3cb371" fill-opacity="0.42"/>
<circle cx="596.2" cy="385.5" r="1.45" fill="#3cb371" fill-opacity="0.42"/>
<circle cx="595.3" cy="395.1" r="1.45" fill="#3cb371" fill-opacity="0.42"/>
<circle cx="594.9" cy="412.3" r="1.45" fill="#3cb371" fill-opacity="0.42"/>
<circle cx="596.9" cy="409.7" r="1.45" fill="#3cb371" fill-opacity="0.42"/>
<circle cx="541.8" cy="420.3" r="1.45" fill="#9b1fe8" fill-opacity="0.42"/>
<circle cx="541.2" cy="424.2" r="1.45" fill="#9b1fe8" fill-opacity="0.42"/>
<circle cx="541.8" cy="426.2" r="1.45" fill="#9b1fe8" fill-opacity="0.42"/>
<circle cx="541.2" cy="432.7" r="1.45" fill="#9b1fe8" fill-opacity="0.42"/>
<circle cx="541.8" cy="434.7" r="1.45" fill="#9b1fe8" fill-opacity="0.42"/>
<circle cx="541.2" cy="436.7" r="1.45" fill="#9b1fe8" fill-opacity="0.42"/>
<circle cx="542.2" cy="439.3" r="1.45" fill="#9b1fe8" fill-opacity="0.42"/>
<circle cx="541.2" cy="441.3" r="1.45" fill="#9b1fe8" fill-opacity="0.42"/>
<circle cx="541.8" cy="443.3" r="1.45" fill="#9b1fe8" fill-opacity="0.42"/>
<circle cx="542.5" cy="447.9" r="1.45" fill="#9b1fe8" fill-opacity="0.42"/>
<circle cx="541.8" cy="451.8" r="1.45" fill="#9b1fe8" fill-opacity="0.42"/>
<circle cx="541.2" cy="455.8" r="1.45" fill="#9b1fe8" fill-opacity="0.42"/>
<circle cx="541.8" cy="458.4" r="1.45" fill="#9b1fe8" fill-opacity="0.42"/>
<circle cx="541.2" cy="461.0" r="1.45" fill="#9b1fe8" fill-opacity="0.42"/>
<circle cx="540.5" cy="463.6" r="1.45" fill="#9b1fe8" fill-opacity="0.42"/>
<circle cx="541.8" cy="466.9" r="1.45" fill="#9b1fe8" fill-opacity="0.42"/>
<circle cx="541.8" cy="471.5" r="1.45" fill="#9b1fe8" fill-opacity="0.42"/>
<circle cx="553.0" cy="416.3" r="1.45" fill="#9b1fe8" fill-opacity="0.42"/>
<circle cx="554.3" cy="420.9" r="1.45" fill="#9b1fe8" fill-opacity="0.42"/>
<circle cx="553.7" cy="424.9" r="1.45" fill="#9b1fe8" fill-opacity="0.42"/>
<circle cx="553.7" cy="426.8" r="1.45" fill="#9b1fe8" fill-opacity="0.42"/>
<circle cx="553.7" cy="431.4" r="1.45" fill="#9b1fe8" fill-opacity="0.42"/>
<circle cx="553.0" cy="436.0" r="1.45" fill="#9b1fe8" fill-opacity="0.42"/>
<circle cx="553.7" cy="443.3" r="1.45" fill="#9b1fe8" fill-opacity="0.42"/>
<circle cx="562.9" cy="441.0" r="1.45" fill="#9b1fe8" fill-opacity="0.42"/>
<circle cx="576.0" cy="422.2" r="1.45" fill="#9b1fe8" fill-opacity="0.42"/>
<circle cx="575.6" cy="434.1" r="1.45" fill="#9b1fe8" fill-opacity="0.42"/>
<circle cx="576.9" cy="449.8" r="1.45" fill="#9b1fe8" fill-opacity="0.42"/>
<circle cx="576.9" cy="460.8" r="1.45" fill="#9b1fe8" fill-opacity="0.42"/>
<circle cx="587.9" cy="417.6" r="1.45" fill="#9b1fe8" fill-opacity="0.42"/>
<circle cx="536.6" cy="417.6" r="1.45" fill="#3cb371" fill-opacity="0.42"/>
<circle cx="537.2" cy="420.3" r="1.45" fill="#3cb371" fill-opacity="0.42"/>
<circle cx="536.6" cy="424.9" r="1.45" fill="#3cb371" fill-opacity="0.42"/>
<circle cx="536.9" cy="427.5" r="1.45" fill="#3cb371" fill-opacity="0.42"/>
<circle cx="537.2" cy="432.1" r="1.45" fill="#3cb371" fill-opacity="0.42"/>
<circle cx="536.2" cy="438.4" r="1.45" fill="#3cb371" fill-opacity="0.42"/>
<circle cx="537.9" cy="442.0" r="1.45" fill="#3cb371" fill-opacity="0.42"/>
<circle cx="537.2" cy="446.6" r="1.45" fill="#3cb371" fill-opacity="0.42"/>
<circle cx="537.5" cy="448.5" r="1.45" fill="#3cb371" fill-opacity="0.42"/>
<circle cx="536.9" cy="451.8" r="1.45" fill="#3cb371" fill-opacity="0.42"/>
<circle cx="536.6" cy="454.4" r="1.45" fill="#3cb371" fill-opacity="0.42"/>
<circle cx="537.2" cy="457.1" r="1.45" fill="#3cb371" fill-opacity="0.42"/>
<circle cx="536.2" cy="466.3" r="1.45" fill="#3cb371" fill-opacity="0.42"/>
<circle cx="536.6" cy="471.5" r="1.45" fill="#3cb371" fill-opacity="0.42"/>
<circle cx="548.4" cy="418.3" r="1.45" fill="#3cb371" fill-opacity="0.42"/>
<circle cx="549.1" cy="422.2" r="1.45" fill="#3cb371" fill-opacity="0.42"/>
<circle cx="547.7" cy="437.4" r="1.45" fill="#3cb371" fill-opacity="0.42"/>
<circle cx="548.4" cy="439.3" r="1.45" fill="#3cb371" fill-opacity="0.42"/>
<circle cx="549.7" cy="445.0" r="1.45" fill="#3cb371" fill-opacity="0.42"/>
<circle cx="572.7" cy="424.2" r="1.45" fill="#3cb371" fill-opacity="0.42"/>
<circle cx="575.6" cy="429.2" r="1.45" fill="#3cb371" fill-opacity="0.42"/>
<circle cx="571.2" cy="442.0" r="1.45" fill="#3cb371" fill-opacity="0.42"/>
<circle cx="572.5" cy="457.7" r="1.45" fill="#3cb371" fill-opacity="0.42"/>
<circle cx="584.3" cy="436.3" r="1.45" fill="#3cb371" fill-opacity="0.42"/>
<circle cx="583.3" cy="446.3" r="1.45" fill="#3cb371" fill-opacity="0.42"/>
<circle cx="582.6" cy="419.2" r="1.45" fill="#3cb371" fill-opacity="0.42"/>
<circle cx="596.4" cy="431.4" r="1.45" fill="#3cb371" fill-opacity="0.42"/>
<circle cx="597.1" cy="436.0" r="1.45" fill="#3cb371" fill-opacity="0.42"/>
<circle cx="599.2" cy="358.7" r="1.45" fill="#9b1fe8" fill-opacity="0.42"/>
<circle cx="623.4" cy="359.1" r="1.45" fill="#9b1fe8" fill-opacity="0.42"/>
<circle cx="623.4" cy="366.4" r="1.45" fill="#9b1fe8" fill-opacity="0.42"/>
<circle cx="600.5" cy="382.1" r="1.45" fill="#9b1fe8" fill-opacity="0.42"/>
<circle cx="611.0" cy="382.1" r="1.45" fill="#9b1fe8" fill-opacity="0.42"/>
<circle cx="611.9" cy="385.5" r="1.45" fill="#9b1fe8" fill-opacity="0.42"/>
<circle cx="611.0" cy="393.2" r="1.45" fill="#9b1fe8" fill-opacity="0.42"/>
<circle cx="611.0" cy="396.1" r="1.45" fill="#9b1fe8" fill-opacity="0.42"/>
<circle cx="610.7" cy="398.9" r="1.45" fill="#9b1fe8" fill-opacity="0.42"/>
<circle cx="610.7" cy="403.0" r="1.45" fill="#9b1fe8" fill-opacity="0.42"/>
<circle cx="611.0" cy="408.1" r="1.45" fill="#9b1fe8" fill-opacity="0.42"/>
<circle cx="599.8" cy="409.4" r="1.45" fill="#9b1fe8" fill-opacity="0.42"/>
<circle cx="622.8" cy="407.8" r="1.45" fill="#9b1fe8" fill-opacity="0.42"/>
<circle cx="644.7" cy="384.6" r="1.45" fill="#3cb371" fill-opacity="0.42"/>
<circle cx="655.3" cy="391.0" r="1.45" fill="#3cb371" fill-opacity="0.42"/>
<circle cx="619.6" cy="400.8" r="1.45" fill="#3cb371" fill-opacity="0.42"/>
<circle cx="643.8" cy="401.2" r="1.45" fill="#3cb371" fill-opacity="0.42"/>
<circle cx="607.5" cy="404.6" r="1.45" fill="#3cb371" fill-opacity="0.42"/>
<circle cx="606.2" cy="412.3" r="1.45" fill="#3cb371" fill-opacity="0.42"/>
<circle cx="632.3" cy="409.1" r="1.45" fill="#3cb371" fill-opacity="0.42"/>
<circle cx="655.3" cy="402.1" r="1.45" fill="#3cb371" fill-opacity="0.42"/>
<circle cx="606.2" cy="438.4" r="1.45" fill="#3cb371" fill-opacity="0.42"/>
<circle cx="606.5" cy="452.5" r="1.45" fill="#3cb371" fill-opacity="0.42"/>
<circle cx="605.9" cy="474.4" r="1.45" fill="#3cb371" fill-opacity="0.42"/>
<circle cx="619.4" cy="431.0" r="1.45" fill="#3cb371" fill-opacity="0.42"/>
<circle cx="617.3" cy="435.4" r="1.45" fill="#3cb371" fill-opacity="0.42"/>
<circle cx="632.1" cy="417.0" r="1.45" fill="#3cb371" fill-opacity="0.42"/>
<circle cx="644.0" cy="431.4" r="1.45" fill="#3cb371" fill-opacity="0.42"/>
<circle cx="644.0" cy="439.3" r="1.45" fill="#3cb371" fill-opacity="0.42"/>
<circle cx="644.9" cy="438.0" r="1.45" fill="#3cb371" fill-opacity="0.42"/>
<circle cx="655.8" cy="425.8" r="1.45" fill="#3cb371" fill-opacity="0.42"/>
<circle cx="655.8" cy="434.5" r="1.45" fill="#3cb371" fill-opacity="0.42"/>
<circle cx="537.2" cy="424.5" r="1.45" fill="#3cb371" fill-opacity="0.42"/>
<circle cx="538.5" cy="439.2" r="1.45" fill="#3cb371" fill-opacity="0.42"/>
<circle cx="537.2" cy="427.1" r="1.45" fill="#3cb371" fill-opacity="0.42"/>
<circle cx="537.1" cy="398.6" r="1.45" fill="#3cb371" fill-opacity="0.42"/>
<circle cx="536.7" cy="457.6" r="1.45" fill="#3cb371" fill-opacity="0.42"/>
<circle cx="537.1" cy="465.2" r="1.45" fill="#3cb371" fill-opacity="0.42"/>
<circle cx="537.0" cy="414.9" r="1.45" fill="#3cb371" fill-opacity="0.42"/>
<circle cx="537.5" cy="409.2" r="1.45" fill="#3cb371" fill-opacity="0.42"/>
<circle cx="537.2" cy="466.7" r="1.45" fill="#3cb371" fill-opacity="0.42"/>
<circle cx="538.3" cy="455.9" r="1.45" fill="#3cb371" fill-opacity="0.42"/>
<circle cx="537.8" cy="463.5" r="1.45" fill="#3cb371" fill-opacity="0.42"/>
<circle cx="538.4" cy="436.2" r="1.45" fill="#3cb371" fill-opacity="0.42"/>
<circle cx="537.9" cy="398.7" r="1.45" fill="#3cb371" fill-opacity="0.42"/>
<circle cx="538.0" cy="428.8" r="1.45" fill="#3cb371" fill-opacity="0.42"/>
<circle cx="542.5" cy="445.1" r="1.45" fill="#9b1fe8" fill-opacity="0.42"/>
<circle cx="541.6" cy="403.4" r="1.45" fill="#9b1fe8" fill-opacity="0.42"/>
<circle cx="542.9" cy="408.9" r="1.45" fill="#9b1fe8" fill-opacity="0.42"/>
<circle cx="541.9" cy="424.1" r="1.45" fill="#9b1fe8" fill-opacity="0.42"/>
<circle cx="541.6" cy="451.7" r="1.45" fill="#9b1fe8" fill-opacity="0.42"/>
<circle cx="543.0" cy="418.2" r="1.45" fill="#9b1fe8" fill-opacity="0.42"/>
<circle cx="542.3" cy="421.1" r="1.45" fill="#9b1fe8" fill-opacity="0.42"/>
<circle cx="542.1" cy="427.6" r="1.45" fill="#9b1fe8" fill-opacity="0.42"/>
<circle cx="541.3" cy="411.3" r="1.45" fill="#9b1fe8" fill-opacity="0.42"/>
<circle cx="541.4" cy="463.4" r="1.45" fill="#9b1fe8" fill-opacity="0.42"/>
<circle cx="542.0" cy="415.4" r="1.45" fill="#9b1fe8" fill-opacity="0.42"/>
<circle cx="542.8" cy="469.8" r="1.45" fill="#9b1fe8" fill-opacity="0.42"/>
<circle cx="541.9" cy="409.8" r="1.45" fill="#9b1fe8" fill-opacity="0.42"/>
<circle cx="541.4" cy="406.4" r="1.45" fill="#9b1fe8" fill-opacity="0.42"/>
<circle cx="553.2" cy="390.0" r="1.45" fill="#9b1fe8" fill-opacity="0.42"/>
<circle cx="553.0" cy="399.2" r="1.45" fill="#9b1fe8" fill-opacity="0.42"/>
<circle cx="553.6" cy="433.8" r="1.45" fill="#9b1fe8" fill-opacity="0.42"/>
<circle cx="554.0" cy="407.7" r="1.45" fill="#9b1fe8" fill-opacity="0.42"/>
<circle cx="553.3" cy="413.8" r="1.45" fill="#9b1fe8" fill-opacity="0.42"/>
<circle cx="553.3" cy="403.6" r="1.45" fill="#9b1fe8" fill-opacity="0.42"/>
<polygon points="540.10,432.11 544.93,430.98 549.75,429.83 554.58,428.66 559.40,427.48 564.23,426.27 569.05,425.05 573.88,423.82 578.70,422.57 583.52,421.30 588.35,420.02 593.17,418.73 598.00,417.43 602.83,416.11 607.65,414.79 612.48,413.46 617.30,412.13 622.12,410.79 626.95,409.44 631.77,408.09 636.60,406.73 641.42,405.37 646.25,404.01 651.07,402.64 655.90,401.27 655.90,413.73 651.07,414.69 646.25,415.64 641.42,416.60 636.60,417.57 631.77,418.54 626.95,419.51 622.12,420.49 617.30,421.47 612.48,422.46 607.65,423.46 602.83,424.46 598.00,425.47 593.17,426.50 588.35,427.53 583.52,428.58 578.70,429.63 573.88,430.71 569.05,431.80 564.23,432.90 559.40,434.02 554.58,435.16 549.75,436.32 544.93,437.50 540.10,438.69" fill="#3cb371" fill-opacity="0.3"/>
<polygon points="540.10,426.34 543.45,424.65 546.80,422.92 550.15,421.16 553.50,419.34 556.85,417.49 560.20,415.58 563.55,413.62 566.90,411.62 570.25,409.56 573.60,407.46 576.95,405.33 580.30,403.16 583.65,400.96 587.00,398.73 590.35,396.48 593.70,394.21 597.05,391.92 600.40,389.62 603.75,387.31 607.10,384.99 610.45,382.65 613.80,380.31 617.15,377.97 620.50,375.61 620.50,395.39 617.15,396.89 613.80,398.40 610.45,399.92 607.10,401.45 603.75,402.98 600.40,404.53 597.05,406.09 593.70,407.66 590.35,409.25 587.00,410.85 583.65,412.49 580.30,414.14 576.95,415.83 573.60,417.55 570.25,419.31 566.90,421.12 563.55,422.97 560.20,424.87 556.85,426.82 553.50,428.82 550.15,430.87 546.80,432.96 543.45,435.09 540.10,437.26" fill="#9b1fe8" fill-opacity="0.36"/>
<line x1="540.1" y1="435.4" x2="655.9" y2="407.5" stroke="#2eaa64" stroke-width="0.85"/>
<line x1="540.1" y1="431.8" x2="620.5" y2="385.5" stroke="#8a1ed8" stroke-width="0.85"/>
</g>
<rect x="528.0" y="353.6" width="139.20" height="126.20" fill="none" stroke="#333333" stroke-width="0.55"/>
<line x1="539.60" y1="479.8" x2="539.60" y2="481.90000000000003" stroke="#333333" stroke-width="0.55"/>
<text x="539.60" y="488.60" font-size="6.4" fill="#4d4d4d" stroke="#4d4d4d" stroke-width="0.12" text-anchor="middle">0</text>
<line x1="562.76" y1="479.8" x2="562.76" y2="481.90000000000003" stroke="#333333" stroke-width="0.55"/>
<text x="562.76" y="488.60" font-size="6.4" fill="#4d4d4d" stroke="#4d4d4d" stroke-width="0.12" text-anchor="middle">2</text>
<line x1="585.92" y1="479.8" x2="585.92" y2="481.90000000000003" stroke="#333333" stroke-width="0.55"/>
<text x="585.92" y="488.60" font-size="6.4" fill="#4d4d4d" stroke="#4d4d4d" stroke-width="0.12" text-anchor="middle">4</text>
<line x1="609.08" y1="479.8" x2="609.08" y2="481.90000000000003" stroke="#333333" stroke-width="0.55"/>
<text x="609.08" y="488.60" font-size="6.4" fill="#4d4d4d" stroke="#4d4d4d" stroke-width="0.12" text-anchor="middle">6</text>
<line x1="632.24" y1="479.8" x2="632.24" y2="481.90000000000003" stroke="#333333" stroke-width="0.55"/>
<text x="632.24" y="488.60" font-size="6.4" fill="#4d4d4d" stroke="#4d4d4d" stroke-width="0.12" text-anchor="middle">8</text>
<line x1="655.40" y1="479.8" x2="655.40" y2="481.90000000000003" stroke="#333333" stroke-width="0.55"/>
<text x="655.40" y="488.60" font-size="6.4" fill="#4d4d4d" stroke="#4d4d4d" stroke-width="0.12" text-anchor="middle">10</text>
<line x1="525.9" y1="463.40" x2="528.0" y2="463.40" stroke="#333333" stroke-width="0.55"/>
<text x="523.90" y="465.90" font-size="6.4" fill="#4d4d4d" stroke="#4d4d4d" stroke-width="0.12" text-anchor="end">10</text>
<line x1="525.9" y1="431.67" x2="528.0" y2="431.67" stroke="#333333" stroke-width="0.55"/>
<text x="523.90" y="434.17" font-size="6.4" fill="#4d4d4d" stroke="#4d4d4d" stroke-width="0.12" text-anchor="end">20</text>
<line x1="525.9" y1="399.93" x2="528.0" y2="399.93" stroke="#333333" stroke-width="0.55"/>
<text x="523.90" y="402.43" font-size="6.4" fill="#4d4d4d" stroke="#4d4d4d" stroke-width="0.12" text-anchor="end">30</text>
<line x1="525.9" y1="368.20" x2="528.0" y2="368.20" stroke="#333333" stroke-width="0.55"/>
<text x="523.90" y="370.70" font-size="6.4" fill="#4d4d4d" stroke="#4d4d4d" stroke-width="0.12" text-anchor="end">40</text>
<text transform="translate(513.5,416.70) rotate(-90)" font-size="8.25" fill="#000" stroke="#000" stroke-width="0.18" text-anchor="middle">IL-10 secretion (BU)</text>
<text x="526.70" y="348.30" font-size="12.5" fill="#000" stroke="#000" stroke-width="0.2">J</text>
<text x="597.60" y="498.60" font-size="8.25" fill="#000" stroke="#000" stroke-width="0.18" text-anchor="middle">Age (years)</text>
</svg></body></html>
